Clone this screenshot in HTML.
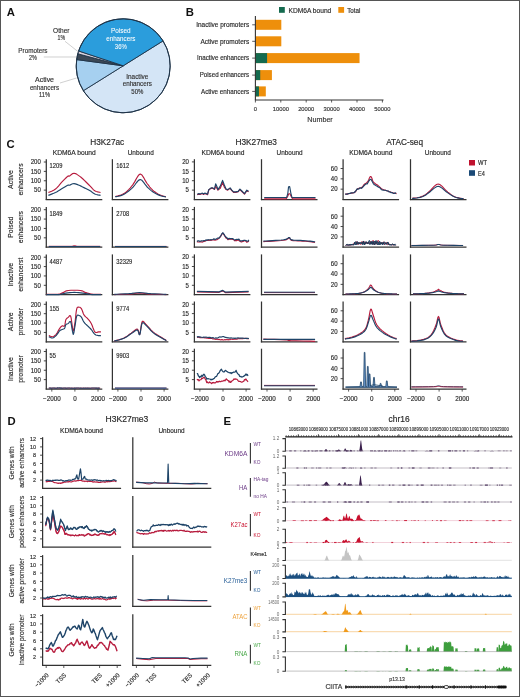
<!DOCTYPE html>
<html><head><meta charset="utf-8"><style>
html,body{margin:0;padding:0;background:#fff;}
body{width:520px;height:697px;overflow:hidden;}
svg{display:block;font-family:"Liberation Sans", sans-serif;will-change:transform;}
</style></head><body>
<svg width="520" height="697" viewBox="0 0 520 697">
<rect x="0" y="0" width="520" height="697" fill="#fff"/>
<text x="6.8" y="16.4" font-size="11.3" fill="#111" font-weight="bold">A</text>
<path d="M123.2,65.8 L163.06,40.89 A47,47 0 0 1 83.34,90.71 Z" fill="#d4e5f6" stroke="#1e3348" stroke-width="0.9"/>
<path d="M123.2,65.8 L83.34,90.71 A47,47 0 0 1 76.61,59.58 Z" fill="#a6d0f0" stroke="#1e3348" stroke-width="0.9"/>
<path d="M123.2,65.8 L76.61,59.58 A47,47 0 0 1 77.76,53.79 Z" fill="#3b4856" stroke="#1e3348" stroke-width="0.9"/>
<path d="M123.2,65.8 L77.76,53.79 A47,47 0 0 1 78.6,50.96 Z" fill="#d9d2dc" stroke="#1e3348" stroke-width="0.9"/>
<path d="M123.2,65.8 L78.6,50.96 A47,47 0 0 1 163.06,40.89 Z" fill="#2b9ddc" stroke="#1e3348" stroke-width="0.9"/>
<circle cx="123.2" cy="65.8" r="47" fill="none" stroke="#1e3348" stroke-width="1"/>
<text x="120.8" y="33.4" font-size="6.4" fill="#fff" stroke="#fff" stroke-width="0.05" text-anchor="middle" textLength="19.5" lengthAdjust="spacingAndGlyphs">Poised</text>
<text x="120.8" y="41" font-size="6.4" fill="#fff" stroke="#fff" stroke-width="0.05" text-anchor="middle" textLength="29.2" lengthAdjust="spacingAndGlyphs">enhancers</text>
<text x="120.8" y="48.6" font-size="6.4" fill="#fff" stroke="#fff" stroke-width="0.05" text-anchor="middle" textLength="12" lengthAdjust="spacingAndGlyphs">36%</text>
<text x="137.3" y="78.8" font-size="6.4" fill="#333" stroke="#333" stroke-width="0.15" text-anchor="middle" textLength="22" lengthAdjust="spacingAndGlyphs">Inactive</text>
<text x="137.3" y="86.4" font-size="6.4" fill="#333" stroke="#333" stroke-width="0.15" text-anchor="middle" textLength="29.2" lengthAdjust="spacingAndGlyphs">enhancers</text>
<text x="137.3" y="94" font-size="6.4" fill="#333" stroke="#333" stroke-width="0.15" text-anchor="middle" textLength="12" lengthAdjust="spacingAndGlyphs">50%</text>
<text x="61.3" y="32.7" font-size="6.4" fill="#333" stroke="#333" stroke-width="0.15" text-anchor="middle" textLength="16.4" lengthAdjust="spacingAndGlyphs">Other</text>
<text x="61.3" y="40.3" font-size="6.4" fill="#333" stroke="#333" stroke-width="0.15" text-anchor="middle" textLength="7.6" lengthAdjust="spacingAndGlyphs">1%</text>
<text x="32.9" y="52.7" font-size="6.4" fill="#333" stroke="#333" stroke-width="0.15" text-anchor="middle" textLength="29.2" lengthAdjust="spacingAndGlyphs">Promoters</text>
<text x="32.9" y="60.3" font-size="6.4" fill="#333" stroke="#333" stroke-width="0.15" text-anchor="middle" textLength="7.8" lengthAdjust="spacingAndGlyphs">2%</text>
<text x="44.5" y="82.2" font-size="6.4" fill="#333" stroke="#333" stroke-width="0.15" text-anchor="middle" textLength="19" lengthAdjust="spacingAndGlyphs">Active</text>
<text x="44.5" y="89.8" font-size="6.4" fill="#333" stroke="#333" stroke-width="0.15" text-anchor="middle" textLength="29.2" lengthAdjust="spacingAndGlyphs">enhancers</text>
<text x="44.5" y="97.4" font-size="6.4" fill="#333" stroke="#333" stroke-width="0.15" text-anchor="middle" textLength="11" lengthAdjust="spacingAndGlyphs">11%</text>
<line x1="65" y1="41.3" x2="78.5" y2="52" stroke="#bbb" stroke-width="0.7"/>
<line x1="43.8" y1="57" x2="76.5" y2="57" stroke="#bbb" stroke-width="0.7"/>
<line x1="60" y1="83" x2="76.5" y2="78" stroke="#bbb" stroke-width="0.7"/>
<text x="185.8" y="16.4" font-size="11.3" fill="#111" font-weight="bold">B</text>
<rect x="255.4" y="19.8" width="25.91" height="10" fill="#ee8f0b"/>
<text x="249.2" y="27" font-size="6.4" fill="#2a2a2a" stroke="#2a2a2a" stroke-width="0.15" text-anchor="end" textLength="53" lengthAdjust="spacingAndGlyphs">Inactive promoters</text>
<line x1="252.2" y1="24.8" x2="255.4" y2="24.8" stroke="#333" stroke-width="0.8"/>
<rect x="255.4" y="36.3" width="25.91" height="10" fill="#ee8f0b"/>
<text x="249.2" y="43.5" font-size="6.4" fill="#2a2a2a" stroke="#2a2a2a" stroke-width="0.15" text-anchor="end" textLength="48.7" lengthAdjust="spacingAndGlyphs">Active promoters</text>
<line x1="252.2" y1="41.3" x2="255.4" y2="41.3" stroke="#333" stroke-width="0.8"/>
<rect x="255.4" y="53.1" width="104.14" height="10" fill="#ee8f0b"/>
<rect x="255.4" y="53.1" width="11.68" height="10" fill="#146a4f"/>
<text x="249.2" y="60.3" font-size="6.4" fill="#2a2a2a" stroke="#2a2a2a" stroke-width="0.15" text-anchor="end" textLength="52.2" lengthAdjust="spacingAndGlyphs">Inactive enhancers</text>
<line x1="252.2" y1="58.1" x2="255.4" y2="58.1" stroke="#333" stroke-width="0.8"/>
<rect x="255.4" y="70.1" width="16.51" height="10" fill="#ee8f0b"/>
<rect x="255.4" y="70.1" width="4.83" height="10" fill="#146a4f"/>
<text x="249.2" y="77.3" font-size="6.4" fill="#2a2a2a" stroke="#2a2a2a" stroke-width="0.15" text-anchor="end" textLength="49.5" lengthAdjust="spacingAndGlyphs">Poised enhancers</text>
<line x1="252.2" y1="75.1" x2="255.4" y2="75.1" stroke="#333" stroke-width="0.8"/>
<rect x="255.4" y="86.4" width="10.41" height="10" fill="#ee8f0b"/>
<rect x="255.4" y="86.4" width="3.56" height="10" fill="#146a4f"/>
<text x="249.2" y="93.6" font-size="6.4" fill="#2a2a2a" stroke="#2a2a2a" stroke-width="0.15" text-anchor="end" textLength="48.2" lengthAdjust="spacingAndGlyphs">Active enhancers</text>
<line x1="252.2" y1="91.4" x2="255.4" y2="91.4" stroke="#333" stroke-width="0.8"/>
<line x1="255.4" y1="16" x2="255.4" y2="100" stroke="#333" stroke-width="1.1"/>
<line x1="254.9" y1="100" x2="383.5" y2="100" stroke="#333" stroke-width="1.1"/>
<line x1="255.4" y1="100" x2="255.4" y2="102.5" stroke="#333" stroke-width="0.8"/>
<text x="255.4" y="110.5" font-size="5.8" fill="#333" stroke="#333" stroke-width="0.15" text-anchor="middle">0</text>
<line x1="280.8" y1="100" x2="280.8" y2="102.5" stroke="#333" stroke-width="0.8"/>
<text x="280.8" y="110.5" font-size="5.8" fill="#333" stroke="#333" stroke-width="0.15" text-anchor="middle">10000</text>
<line x1="306.2" y1="100" x2="306.2" y2="102.5" stroke="#333" stroke-width="0.8"/>
<text x="306.2" y="110.5" font-size="5.8" fill="#333" stroke="#333" stroke-width="0.15" text-anchor="middle">20000</text>
<line x1="331.6" y1="100" x2="331.6" y2="102.5" stroke="#333" stroke-width="0.8"/>
<text x="331.6" y="110.5" font-size="5.8" fill="#333" stroke="#333" stroke-width="0.15" text-anchor="middle">30000</text>
<line x1="357" y1="100" x2="357" y2="102.5" stroke="#333" stroke-width="0.8"/>
<text x="357" y="110.5" font-size="5.8" fill="#333" stroke="#333" stroke-width="0.15" text-anchor="middle">40000</text>
<line x1="382.4" y1="100" x2="382.4" y2="102.5" stroke="#333" stroke-width="0.8"/>
<text x="382.4" y="110.5" font-size="5.8" fill="#333" stroke="#333" stroke-width="0.15" text-anchor="middle">50000</text>
<text x="320" y="122" font-size="7.2" fill="#333" stroke="#333" stroke-width="0.15" text-anchor="middle">Number</text>
<rect x="279" y="7" width="5.8" height="5.8" fill="#146a4f"/>
<text x="288.5" y="12.5" font-size="6.5" fill="#2a2a2a" stroke="#2a2a2a" stroke-width="0.15" textLength="42.8" lengthAdjust="spacingAndGlyphs">KDM6A bound</text>
<rect x="338.3" y="7" width="5.8" height="5.8" fill="#ee8f0b"/>
<text x="347.2" y="12.5" font-size="6.5" fill="#2a2a2a" stroke="#2a2a2a" stroke-width="0.15" textLength="13.2" lengthAdjust="spacingAndGlyphs">Total</text>
<text x="6.6" y="148" font-size="11.3" fill="#111" font-weight="bold">C</text>
<text x="107.25" y="144.6" font-size="9.1" fill="#2a2a2a" stroke="#2a2a2a" stroke-width="0.18" text-anchor="middle" textLength="33.9" lengthAdjust="spacingAndGlyphs">H3K27ac</text>
<text x="256.2" y="144.6" font-size="9.1" fill="#2a2a2a" stroke="#2a2a2a" stroke-width="0.18" text-anchor="middle" textLength="41.5" lengthAdjust="spacingAndGlyphs">H3K27me3</text>
<text x="404.6" y="144.6" font-size="9.1" fill="#2a2a2a" stroke="#2a2a2a" stroke-width="0.18" text-anchor="middle" textLength="36.9" lengthAdjust="spacingAndGlyphs">ATAC-seq</text>
<text x="74.25" y="155.3" font-size="6.5" fill="#2a2a2a" stroke="#2a2a2a" stroke-width="0.15" text-anchor="middle" textLength="43.1" lengthAdjust="spacingAndGlyphs">KDM6A bound</text>
<text x="223" y="155.3" font-size="6.5" fill="#2a2a2a" stroke="#2a2a2a" stroke-width="0.15" text-anchor="middle" textLength="43.1" lengthAdjust="spacingAndGlyphs">KDM6A bound</text>
<text x="370.8" y="155.3" font-size="6.5" fill="#2a2a2a" stroke="#2a2a2a" stroke-width="0.15" text-anchor="middle" textLength="43.1" lengthAdjust="spacingAndGlyphs">KDM6A bound</text>
<text x="140.75" y="155.3" font-size="6.5" fill="#2a2a2a" stroke="#2a2a2a" stroke-width="0.15" text-anchor="middle" textLength="26" lengthAdjust="spacingAndGlyphs">Unbound</text>
<text x="289.6" y="155.3" font-size="6.5" fill="#2a2a2a" stroke="#2a2a2a" stroke-width="0.15" text-anchor="middle" textLength="26" lengthAdjust="spacingAndGlyphs">Unbound</text>
<text x="437.85" y="155.3" font-size="6.5" fill="#2a2a2a" stroke="#2a2a2a" stroke-width="0.15" text-anchor="middle" textLength="26" lengthAdjust="spacingAndGlyphs">Unbound</text>
<text x="13" y="179.5" font-size="6.9" fill="#2a2a2a" stroke="#2a2a2a" stroke-width="0.15" text-anchor="middle" transform="rotate(-90 13 179.5)">Active</text>
<text x="23.3" y="179.5" font-size="6.9" fill="#2a2a2a" stroke="#2a2a2a" stroke-width="0.15" text-anchor="middle" transform="rotate(-90 23.3 179.5)">enhancers</text>
<text x="13" y="227.2" font-size="6.9" fill="#2a2a2a" stroke="#2a2a2a" stroke-width="0.15" text-anchor="middle" transform="rotate(-90 13 227.2)">Poised</text>
<text x="23.3" y="227.2" font-size="6.9" fill="#2a2a2a" stroke="#2a2a2a" stroke-width="0.15" text-anchor="middle" transform="rotate(-90 23.3 227.2)">enhancers</text>
<text x="13" y="274.7" font-size="6.9" fill="#2a2a2a" stroke="#2a2a2a" stroke-width="0.15" text-anchor="middle" transform="rotate(-90 13 274.7)">Inactive</text>
<text x="23.3" y="274.7" font-size="6.9" fill="#2a2a2a" stroke="#2a2a2a" stroke-width="0.15" text-anchor="middle" transform="rotate(-90 23.3 274.7)">enhancerst</text>
<text x="13" y="321.8" font-size="6.9" fill="#2a2a2a" stroke="#2a2a2a" stroke-width="0.15" text-anchor="middle" transform="rotate(-90 13 321.8)">Active</text>
<text x="23.3" y="321.8" font-size="6.9" fill="#2a2a2a" stroke="#2a2a2a" stroke-width="0.15" text-anchor="middle" transform="rotate(-90 23.3 321.8)">promoter</text>
<text x="13" y="369" font-size="6.9" fill="#2a2a2a" stroke="#2a2a2a" stroke-width="0.15" text-anchor="middle" transform="rotate(-90 13 369)">Inactive</text>
<text x="23.3" y="369" font-size="6.9" fill="#2a2a2a" stroke="#2a2a2a" stroke-width="0.15" text-anchor="middle" transform="rotate(-90 23.3 369)">promoter</text>
<line x1="46.3" y1="159.2" x2="46.3" y2="200.1" stroke="#333" stroke-width="1.25"/>
<line x1="45.7" y1="199.5" x2="102.3" y2="199.5" stroke="#333" stroke-width="1.25"/>
<line x1="43.8" y1="190.12" x2="46.3" y2="190.12" stroke="#333" stroke-width="0.9"/>
<text x="40.8" y="192.43" font-size="6.4" fill="#2a2a2a" stroke="#2a2a2a" stroke-width="0.15" text-anchor="end" textLength="6.74" lengthAdjust="spacingAndGlyphs">50</text>
<line x1="43.8" y1="180.75" x2="46.3" y2="180.75" stroke="#333" stroke-width="0.9"/>
<text x="40.8" y="183.05" font-size="6.4" fill="#2a2a2a" stroke="#2a2a2a" stroke-width="0.15" text-anchor="end" textLength="10.11" lengthAdjust="spacingAndGlyphs">100</text>
<line x1="43.8" y1="171.38" x2="46.3" y2="171.38" stroke="#333" stroke-width="0.9"/>
<text x="40.8" y="173.68" font-size="6.4" fill="#2a2a2a" stroke="#2a2a2a" stroke-width="0.15" text-anchor="end" textLength="10.11" lengthAdjust="spacingAndGlyphs">150</text>
<line x1="43.8" y1="162" x2="46.3" y2="162" stroke="#333" stroke-width="0.9"/>
<text x="40.8" y="164.3" font-size="6.4" fill="#2a2a2a" stroke="#2a2a2a" stroke-width="0.15" text-anchor="end" textLength="10.11" lengthAdjust="spacingAndGlyphs">200</text>
<line x1="112.4" y1="159.2" x2="112.4" y2="200.1" stroke="#333" stroke-width="1.25"/>
<line x1="111.8" y1="199.5" x2="168.4" y2="199.5" stroke="#333" stroke-width="1.25"/>
<line x1="194.4" y1="159.2" x2="194.4" y2="200.1" stroke="#333" stroke-width="1.25"/>
<line x1="193.8" y1="199.5" x2="250.4" y2="199.5" stroke="#333" stroke-width="1.25"/>
<line x1="191.9" y1="190.1" x2="194.4" y2="190.1" stroke="#333" stroke-width="0.9"/>
<text x="188.9" y="192.4" font-size="6.4" fill="#2a2a2a" stroke="#2a2a2a" stroke-width="0.15" text-anchor="end" textLength="3.37" lengthAdjust="spacingAndGlyphs">5</text>
<line x1="191.9" y1="180.7" x2="194.4" y2="180.7" stroke="#333" stroke-width="0.9"/>
<text x="188.9" y="183" font-size="6.4" fill="#2a2a2a" stroke="#2a2a2a" stroke-width="0.15" text-anchor="end" textLength="6.74" lengthAdjust="spacingAndGlyphs">10</text>
<line x1="191.9" y1="171.3" x2="194.4" y2="171.3" stroke="#333" stroke-width="0.9"/>
<text x="188.9" y="173.6" font-size="6.4" fill="#2a2a2a" stroke="#2a2a2a" stroke-width="0.15" text-anchor="end" textLength="6.74" lengthAdjust="spacingAndGlyphs">15</text>
<line x1="191.9" y1="161.9" x2="194.4" y2="161.9" stroke="#333" stroke-width="0.9"/>
<text x="188.9" y="164.2" font-size="6.4" fill="#2a2a2a" stroke="#2a2a2a" stroke-width="0.15" text-anchor="end" textLength="6.74" lengthAdjust="spacingAndGlyphs">20</text>
<line x1="261.5" y1="159.2" x2="261.5" y2="200.1" stroke="#333" stroke-width="1.25"/>
<line x1="260.9" y1="199.5" x2="317.5" y2="199.5" stroke="#333" stroke-width="1.25"/>
<line x1="343.1" y1="159.2" x2="343.1" y2="200.1" stroke="#333" stroke-width="1.25"/>
<line x1="342.5" y1="199.5" x2="399.1" y2="199.5" stroke="#333" stroke-width="1.25"/>
<line x1="340.6" y1="189.17" x2="343.1" y2="189.17" stroke="#333" stroke-width="0.9"/>
<text x="337.6" y="191.47" font-size="6.4" fill="#2a2a2a" stroke="#2a2a2a" stroke-width="0.15" text-anchor="end" textLength="6.74" lengthAdjust="spacingAndGlyphs">20</text>
<line x1="340.6" y1="178.83" x2="343.1" y2="178.83" stroke="#333" stroke-width="0.9"/>
<text x="337.6" y="181.13" font-size="6.4" fill="#2a2a2a" stroke="#2a2a2a" stroke-width="0.15" text-anchor="end" textLength="6.74" lengthAdjust="spacingAndGlyphs">40</text>
<line x1="340.6" y1="168.5" x2="343.1" y2="168.5" stroke="#333" stroke-width="0.9"/>
<text x="337.6" y="170.8" font-size="6.4" fill="#2a2a2a" stroke="#2a2a2a" stroke-width="0.15" text-anchor="end" textLength="6.74" lengthAdjust="spacingAndGlyphs">60</text>
<line x1="410.5" y1="159.2" x2="410.5" y2="200.1" stroke="#333" stroke-width="1.25"/>
<line x1="409.9" y1="199.5" x2="466.5" y2="199.5" stroke="#333" stroke-width="1.25"/>
<text x="49.6" y="168.4" font-size="6.3" fill="#2a2a2a" stroke="#2a2a2a" stroke-width="0.15" textLength="12.8" lengthAdjust="spacingAndGlyphs">1209</text>
<text x="116.3" y="168.4" font-size="6.3" fill="#2a2a2a" stroke="#2a2a2a" stroke-width="0.15" textLength="12.8" lengthAdjust="spacingAndGlyphs">1612</text>
<line x1="46.3" y1="206.9" x2="46.3" y2="247.8" stroke="#333" stroke-width="1.25"/>
<line x1="45.7" y1="247.2" x2="102.3" y2="247.2" stroke="#333" stroke-width="1.25"/>
<line x1="43.8" y1="237.82" x2="46.3" y2="237.82" stroke="#333" stroke-width="0.9"/>
<text x="40.8" y="240.12" font-size="6.4" fill="#2a2a2a" stroke="#2a2a2a" stroke-width="0.15" text-anchor="end" textLength="6.74" lengthAdjust="spacingAndGlyphs">50</text>
<line x1="43.8" y1="228.45" x2="46.3" y2="228.45" stroke="#333" stroke-width="0.9"/>
<text x="40.8" y="230.75" font-size="6.4" fill="#2a2a2a" stroke="#2a2a2a" stroke-width="0.15" text-anchor="end" textLength="10.11" lengthAdjust="spacingAndGlyphs">100</text>
<line x1="43.8" y1="219.07" x2="46.3" y2="219.07" stroke="#333" stroke-width="0.9"/>
<text x="40.8" y="221.38" font-size="6.4" fill="#2a2a2a" stroke="#2a2a2a" stroke-width="0.15" text-anchor="end" textLength="10.11" lengthAdjust="spacingAndGlyphs">150</text>
<line x1="43.8" y1="209.7" x2="46.3" y2="209.7" stroke="#333" stroke-width="0.9"/>
<text x="40.8" y="212" font-size="6.4" fill="#2a2a2a" stroke="#2a2a2a" stroke-width="0.15" text-anchor="end" textLength="10.11" lengthAdjust="spacingAndGlyphs">200</text>
<line x1="112.4" y1="206.9" x2="112.4" y2="247.8" stroke="#333" stroke-width="1.25"/>
<line x1="111.8" y1="247.2" x2="168.4" y2="247.2" stroke="#333" stroke-width="1.25"/>
<line x1="194.4" y1="206.9" x2="194.4" y2="247.8" stroke="#333" stroke-width="1.25"/>
<line x1="193.8" y1="247.2" x2="250.4" y2="247.2" stroke="#333" stroke-width="1.25"/>
<line x1="191.9" y1="237.8" x2="194.4" y2="237.8" stroke="#333" stroke-width="0.9"/>
<text x="188.9" y="240.1" font-size="6.4" fill="#2a2a2a" stroke="#2a2a2a" stroke-width="0.15" text-anchor="end" textLength="3.37" lengthAdjust="spacingAndGlyphs">5</text>
<line x1="191.9" y1="228.4" x2="194.4" y2="228.4" stroke="#333" stroke-width="0.9"/>
<text x="188.9" y="230.7" font-size="6.4" fill="#2a2a2a" stroke="#2a2a2a" stroke-width="0.15" text-anchor="end" textLength="6.74" lengthAdjust="spacingAndGlyphs">10</text>
<line x1="191.9" y1="219" x2="194.4" y2="219" stroke="#333" stroke-width="0.9"/>
<text x="188.9" y="221.3" font-size="6.4" fill="#2a2a2a" stroke="#2a2a2a" stroke-width="0.15" text-anchor="end" textLength="6.74" lengthAdjust="spacingAndGlyphs">15</text>
<line x1="191.9" y1="209.6" x2="194.4" y2="209.6" stroke="#333" stroke-width="0.9"/>
<text x="188.9" y="211.9" font-size="6.4" fill="#2a2a2a" stroke="#2a2a2a" stroke-width="0.15" text-anchor="end" textLength="6.74" lengthAdjust="spacingAndGlyphs">20</text>
<line x1="261.5" y1="206.9" x2="261.5" y2="247.8" stroke="#333" stroke-width="1.25"/>
<line x1="260.9" y1="247.2" x2="317.5" y2="247.2" stroke="#333" stroke-width="1.25"/>
<line x1="343.1" y1="206.9" x2="343.1" y2="247.8" stroke="#333" stroke-width="1.25"/>
<line x1="342.5" y1="247.2" x2="399.1" y2="247.2" stroke="#333" stroke-width="1.25"/>
<line x1="340.6" y1="236.87" x2="343.1" y2="236.87" stroke="#333" stroke-width="0.9"/>
<text x="337.6" y="239.17" font-size="6.4" fill="#2a2a2a" stroke="#2a2a2a" stroke-width="0.15" text-anchor="end" textLength="6.74" lengthAdjust="spacingAndGlyphs">20</text>
<line x1="340.6" y1="226.53" x2="343.1" y2="226.53" stroke="#333" stroke-width="0.9"/>
<text x="337.6" y="228.83" font-size="6.4" fill="#2a2a2a" stroke="#2a2a2a" stroke-width="0.15" text-anchor="end" textLength="6.74" lengthAdjust="spacingAndGlyphs">40</text>
<line x1="340.6" y1="216.2" x2="343.1" y2="216.2" stroke="#333" stroke-width="0.9"/>
<text x="337.6" y="218.5" font-size="6.4" fill="#2a2a2a" stroke="#2a2a2a" stroke-width="0.15" text-anchor="end" textLength="6.74" lengthAdjust="spacingAndGlyphs">60</text>
<line x1="410.5" y1="206.9" x2="410.5" y2="247.8" stroke="#333" stroke-width="1.25"/>
<line x1="409.9" y1="247.2" x2="466.5" y2="247.2" stroke="#333" stroke-width="1.25"/>
<text x="49.6" y="216.1" font-size="6.3" fill="#2a2a2a" stroke="#2a2a2a" stroke-width="0.15" textLength="12.8" lengthAdjust="spacingAndGlyphs">1849</text>
<text x="116.3" y="216.1" font-size="6.3" fill="#2a2a2a" stroke="#2a2a2a" stroke-width="0.15" textLength="12.8" lengthAdjust="spacingAndGlyphs">2708</text>
<line x1="46.3" y1="254.4" x2="46.3" y2="295.3" stroke="#333" stroke-width="1.25"/>
<line x1="45.7" y1="294.7" x2="102.3" y2="294.7" stroke="#333" stroke-width="1.25"/>
<line x1="43.8" y1="285.32" x2="46.3" y2="285.32" stroke="#333" stroke-width="0.9"/>
<text x="40.8" y="287.62" font-size="6.4" fill="#2a2a2a" stroke="#2a2a2a" stroke-width="0.15" text-anchor="end" textLength="6.74" lengthAdjust="spacingAndGlyphs">50</text>
<line x1="43.8" y1="275.95" x2="46.3" y2="275.95" stroke="#333" stroke-width="0.9"/>
<text x="40.8" y="278.25" font-size="6.4" fill="#2a2a2a" stroke="#2a2a2a" stroke-width="0.15" text-anchor="end" textLength="10.11" lengthAdjust="spacingAndGlyphs">100</text>
<line x1="43.8" y1="266.57" x2="46.3" y2="266.57" stroke="#333" stroke-width="0.9"/>
<text x="40.8" y="268.88" font-size="6.4" fill="#2a2a2a" stroke="#2a2a2a" stroke-width="0.15" text-anchor="end" textLength="10.11" lengthAdjust="spacingAndGlyphs">150</text>
<line x1="43.8" y1="257.2" x2="46.3" y2="257.2" stroke="#333" stroke-width="0.9"/>
<text x="40.8" y="259.5" font-size="6.4" fill="#2a2a2a" stroke="#2a2a2a" stroke-width="0.15" text-anchor="end" textLength="10.11" lengthAdjust="spacingAndGlyphs">200</text>
<line x1="112.4" y1="254.4" x2="112.4" y2="295.3" stroke="#333" stroke-width="1.25"/>
<line x1="111.8" y1="294.7" x2="168.4" y2="294.7" stroke="#333" stroke-width="1.25"/>
<line x1="194.4" y1="254.4" x2="194.4" y2="295.3" stroke="#333" stroke-width="1.25"/>
<line x1="193.8" y1="294.7" x2="250.4" y2="294.7" stroke="#333" stroke-width="1.25"/>
<line x1="191.9" y1="285.3" x2="194.4" y2="285.3" stroke="#333" stroke-width="0.9"/>
<text x="188.9" y="287.6" font-size="6.4" fill="#2a2a2a" stroke="#2a2a2a" stroke-width="0.15" text-anchor="end" textLength="3.37" lengthAdjust="spacingAndGlyphs">5</text>
<line x1="191.9" y1="275.9" x2="194.4" y2="275.9" stroke="#333" stroke-width="0.9"/>
<text x="188.9" y="278.2" font-size="6.4" fill="#2a2a2a" stroke="#2a2a2a" stroke-width="0.15" text-anchor="end" textLength="6.74" lengthAdjust="spacingAndGlyphs">10</text>
<line x1="191.9" y1="266.5" x2="194.4" y2="266.5" stroke="#333" stroke-width="0.9"/>
<text x="188.9" y="268.8" font-size="6.4" fill="#2a2a2a" stroke="#2a2a2a" stroke-width="0.15" text-anchor="end" textLength="6.74" lengthAdjust="spacingAndGlyphs">15</text>
<line x1="191.9" y1="257.1" x2="194.4" y2="257.1" stroke="#333" stroke-width="0.9"/>
<text x="188.9" y="259.4" font-size="6.4" fill="#2a2a2a" stroke="#2a2a2a" stroke-width="0.15" text-anchor="end" textLength="6.74" lengthAdjust="spacingAndGlyphs">20</text>
<line x1="261.5" y1="254.4" x2="261.5" y2="295.3" stroke="#333" stroke-width="1.25"/>
<line x1="260.9" y1="294.7" x2="317.5" y2="294.7" stroke="#333" stroke-width="1.25"/>
<line x1="343.1" y1="254.4" x2="343.1" y2="295.3" stroke="#333" stroke-width="1.25"/>
<line x1="342.5" y1="294.7" x2="399.1" y2="294.7" stroke="#333" stroke-width="1.25"/>
<line x1="340.6" y1="284.37" x2="343.1" y2="284.37" stroke="#333" stroke-width="0.9"/>
<text x="337.6" y="286.67" font-size="6.4" fill="#2a2a2a" stroke="#2a2a2a" stroke-width="0.15" text-anchor="end" textLength="6.74" lengthAdjust="spacingAndGlyphs">20</text>
<line x1="340.6" y1="274.03" x2="343.1" y2="274.03" stroke="#333" stroke-width="0.9"/>
<text x="337.6" y="276.33" font-size="6.4" fill="#2a2a2a" stroke="#2a2a2a" stroke-width="0.15" text-anchor="end" textLength="6.74" lengthAdjust="spacingAndGlyphs">40</text>
<line x1="340.6" y1="263.7" x2="343.1" y2="263.7" stroke="#333" stroke-width="0.9"/>
<text x="337.6" y="266" font-size="6.4" fill="#2a2a2a" stroke="#2a2a2a" stroke-width="0.15" text-anchor="end" textLength="6.74" lengthAdjust="spacingAndGlyphs">60</text>
<line x1="410.5" y1="254.4" x2="410.5" y2="295.3" stroke="#333" stroke-width="1.25"/>
<line x1="409.9" y1="294.7" x2="466.5" y2="294.7" stroke="#333" stroke-width="1.25"/>
<text x="49.6" y="263.6" font-size="6.3" fill="#2a2a2a" stroke="#2a2a2a" stroke-width="0.15" textLength="12.8" lengthAdjust="spacingAndGlyphs">4487</text>
<text x="116.3" y="263.6" font-size="6.3" fill="#2a2a2a" stroke="#2a2a2a" stroke-width="0.15" textLength="16" lengthAdjust="spacingAndGlyphs">32329</text>
<line x1="46.3" y1="301.5" x2="46.3" y2="342.4" stroke="#333" stroke-width="1.25"/>
<line x1="45.7" y1="341.8" x2="102.3" y2="341.8" stroke="#333" stroke-width="1.25"/>
<line x1="43.8" y1="332.43" x2="46.3" y2="332.43" stroke="#333" stroke-width="0.9"/>
<text x="40.8" y="334.73" font-size="6.4" fill="#2a2a2a" stroke="#2a2a2a" stroke-width="0.15" text-anchor="end" textLength="6.74" lengthAdjust="spacingAndGlyphs">50</text>
<line x1="43.8" y1="323.05" x2="46.3" y2="323.05" stroke="#333" stroke-width="0.9"/>
<text x="40.8" y="325.35" font-size="6.4" fill="#2a2a2a" stroke="#2a2a2a" stroke-width="0.15" text-anchor="end" textLength="10.11" lengthAdjust="spacingAndGlyphs">100</text>
<line x1="43.8" y1="313.68" x2="46.3" y2="313.68" stroke="#333" stroke-width="0.9"/>
<text x="40.8" y="315.98" font-size="6.4" fill="#2a2a2a" stroke="#2a2a2a" stroke-width="0.15" text-anchor="end" textLength="10.11" lengthAdjust="spacingAndGlyphs">150</text>
<line x1="43.8" y1="304.3" x2="46.3" y2="304.3" stroke="#333" stroke-width="0.9"/>
<text x="40.8" y="306.6" font-size="6.4" fill="#2a2a2a" stroke="#2a2a2a" stroke-width="0.15" text-anchor="end" textLength="10.11" lengthAdjust="spacingAndGlyphs">200</text>
<line x1="112.4" y1="301.5" x2="112.4" y2="342.4" stroke="#333" stroke-width="1.25"/>
<line x1="111.8" y1="341.8" x2="168.4" y2="341.8" stroke="#333" stroke-width="1.25"/>
<line x1="194.4" y1="301.5" x2="194.4" y2="342.4" stroke="#333" stroke-width="1.25"/>
<line x1="193.8" y1="341.8" x2="250.4" y2="341.8" stroke="#333" stroke-width="1.25"/>
<line x1="191.9" y1="332.4" x2="194.4" y2="332.4" stroke="#333" stroke-width="0.9"/>
<text x="188.9" y="334.7" font-size="6.4" fill="#2a2a2a" stroke="#2a2a2a" stroke-width="0.15" text-anchor="end" textLength="3.37" lengthAdjust="spacingAndGlyphs">5</text>
<line x1="191.9" y1="323" x2="194.4" y2="323" stroke="#333" stroke-width="0.9"/>
<text x="188.9" y="325.3" font-size="6.4" fill="#2a2a2a" stroke="#2a2a2a" stroke-width="0.15" text-anchor="end" textLength="6.74" lengthAdjust="spacingAndGlyphs">10</text>
<line x1="191.9" y1="313.6" x2="194.4" y2="313.6" stroke="#333" stroke-width="0.9"/>
<text x="188.9" y="315.9" font-size="6.4" fill="#2a2a2a" stroke="#2a2a2a" stroke-width="0.15" text-anchor="end" textLength="6.74" lengthAdjust="spacingAndGlyphs">15</text>
<line x1="191.9" y1="304.2" x2="194.4" y2="304.2" stroke="#333" stroke-width="0.9"/>
<text x="188.9" y="306.5" font-size="6.4" fill="#2a2a2a" stroke="#2a2a2a" stroke-width="0.15" text-anchor="end" textLength="6.74" lengthAdjust="spacingAndGlyphs">20</text>
<line x1="261.5" y1="301.5" x2="261.5" y2="342.4" stroke="#333" stroke-width="1.25"/>
<line x1="260.9" y1="341.8" x2="317.5" y2="341.8" stroke="#333" stroke-width="1.25"/>
<line x1="343.1" y1="301.5" x2="343.1" y2="342.4" stroke="#333" stroke-width="1.25"/>
<line x1="342.5" y1="341.8" x2="399.1" y2="341.8" stroke="#333" stroke-width="1.25"/>
<line x1="340.6" y1="331.47" x2="343.1" y2="331.47" stroke="#333" stroke-width="0.9"/>
<text x="337.6" y="333.77" font-size="6.4" fill="#2a2a2a" stroke="#2a2a2a" stroke-width="0.15" text-anchor="end" textLength="6.74" lengthAdjust="spacingAndGlyphs">20</text>
<line x1="340.6" y1="321.13" x2="343.1" y2="321.13" stroke="#333" stroke-width="0.9"/>
<text x="337.6" y="323.43" font-size="6.4" fill="#2a2a2a" stroke="#2a2a2a" stroke-width="0.15" text-anchor="end" textLength="6.74" lengthAdjust="spacingAndGlyphs">40</text>
<line x1="340.6" y1="310.8" x2="343.1" y2="310.8" stroke="#333" stroke-width="0.9"/>
<text x="337.6" y="313.1" font-size="6.4" fill="#2a2a2a" stroke="#2a2a2a" stroke-width="0.15" text-anchor="end" textLength="6.74" lengthAdjust="spacingAndGlyphs">60</text>
<line x1="410.5" y1="301.5" x2="410.5" y2="342.4" stroke="#333" stroke-width="1.25"/>
<line x1="409.9" y1="341.8" x2="466.5" y2="341.8" stroke="#333" stroke-width="1.25"/>
<text x="49.6" y="310.7" font-size="6.3" fill="#2a2a2a" stroke="#2a2a2a" stroke-width="0.15" textLength="9.6" lengthAdjust="spacingAndGlyphs">155</text>
<text x="116.3" y="310.7" font-size="6.3" fill="#2a2a2a" stroke="#2a2a2a" stroke-width="0.15" textLength="12.8" lengthAdjust="spacingAndGlyphs">9774</text>
<line x1="46.3" y1="348.7" x2="46.3" y2="389.6" stroke="#333" stroke-width="1.25"/>
<line x1="45.7" y1="389" x2="102.3" y2="389" stroke="#333" stroke-width="1.25"/>
<line x1="43.8" y1="379.62" x2="46.3" y2="379.62" stroke="#333" stroke-width="0.9"/>
<text x="40.8" y="381.93" font-size="6.4" fill="#2a2a2a" stroke="#2a2a2a" stroke-width="0.15" text-anchor="end" textLength="6.74" lengthAdjust="spacingAndGlyphs">50</text>
<line x1="43.8" y1="370.25" x2="46.3" y2="370.25" stroke="#333" stroke-width="0.9"/>
<text x="40.8" y="372.55" font-size="6.4" fill="#2a2a2a" stroke="#2a2a2a" stroke-width="0.15" text-anchor="end" textLength="10.11" lengthAdjust="spacingAndGlyphs">100</text>
<line x1="43.8" y1="360.88" x2="46.3" y2="360.88" stroke="#333" stroke-width="0.9"/>
<text x="40.8" y="363.18" font-size="6.4" fill="#2a2a2a" stroke="#2a2a2a" stroke-width="0.15" text-anchor="end" textLength="10.11" lengthAdjust="spacingAndGlyphs">150</text>
<line x1="43.8" y1="351.5" x2="46.3" y2="351.5" stroke="#333" stroke-width="0.9"/>
<text x="40.8" y="353.8" font-size="6.4" fill="#2a2a2a" stroke="#2a2a2a" stroke-width="0.15" text-anchor="end" textLength="10.11" lengthAdjust="spacingAndGlyphs">200</text>
<line x1="51.8" y1="389" x2="51.8" y2="391.6" stroke="#333" stroke-width="0.8"/>
<text x="51.8" y="401.2" font-size="6.3" fill="#2a2a2a" stroke="#2a2a2a" stroke-width="0.15" text-anchor="middle">−2000</text>
<line x1="74.9" y1="389" x2="74.9" y2="391.6" stroke="#333" stroke-width="0.8"/>
<text x="74.9" y="401.2" font-size="6.3" fill="#2a2a2a" stroke="#2a2a2a" stroke-width="0.15" text-anchor="middle">0</text>
<line x1="98" y1="389" x2="98" y2="391.6" stroke="#333" stroke-width="0.8"/>
<text x="98" y="401.2" font-size="6.3" fill="#2a2a2a" stroke="#2a2a2a" stroke-width="0.15" text-anchor="middle">2000</text>
<line x1="112.4" y1="348.7" x2="112.4" y2="389.6" stroke="#333" stroke-width="1.25"/>
<line x1="111.8" y1="389" x2="168.4" y2="389" stroke="#333" stroke-width="1.25"/>
<line x1="117.9" y1="389" x2="117.9" y2="391.6" stroke="#333" stroke-width="0.8"/>
<text x="117.9" y="401.2" font-size="6.3" fill="#2a2a2a" stroke="#2a2a2a" stroke-width="0.15" text-anchor="middle">−2000</text>
<line x1="141" y1="389" x2="141" y2="391.6" stroke="#333" stroke-width="0.8"/>
<text x="141" y="401.2" font-size="6.3" fill="#2a2a2a" stroke="#2a2a2a" stroke-width="0.15" text-anchor="middle">0</text>
<line x1="164.1" y1="389" x2="164.1" y2="391.6" stroke="#333" stroke-width="0.8"/>
<text x="164.1" y="401.2" font-size="6.3" fill="#2a2a2a" stroke="#2a2a2a" stroke-width="0.15" text-anchor="middle">2000</text>
<line x1="194.4" y1="348.7" x2="194.4" y2="389.6" stroke="#333" stroke-width="1.25"/>
<line x1="193.8" y1="389" x2="250.4" y2="389" stroke="#333" stroke-width="1.25"/>
<line x1="191.9" y1="379.6" x2="194.4" y2="379.6" stroke="#333" stroke-width="0.9"/>
<text x="188.9" y="381.9" font-size="6.4" fill="#2a2a2a" stroke="#2a2a2a" stroke-width="0.15" text-anchor="end" textLength="3.37" lengthAdjust="spacingAndGlyphs">5</text>
<line x1="191.9" y1="370.2" x2="194.4" y2="370.2" stroke="#333" stroke-width="0.9"/>
<text x="188.9" y="372.5" font-size="6.4" fill="#2a2a2a" stroke="#2a2a2a" stroke-width="0.15" text-anchor="end" textLength="6.74" lengthAdjust="spacingAndGlyphs">10</text>
<line x1="191.9" y1="360.8" x2="194.4" y2="360.8" stroke="#333" stroke-width="0.9"/>
<text x="188.9" y="363.1" font-size="6.4" fill="#2a2a2a" stroke="#2a2a2a" stroke-width="0.15" text-anchor="end" textLength="6.74" lengthAdjust="spacingAndGlyphs">15</text>
<line x1="191.9" y1="351.4" x2="194.4" y2="351.4" stroke="#333" stroke-width="0.9"/>
<text x="188.9" y="353.7" font-size="6.4" fill="#2a2a2a" stroke="#2a2a2a" stroke-width="0.15" text-anchor="end" textLength="6.74" lengthAdjust="spacingAndGlyphs">20</text>
<line x1="199.9" y1="389" x2="199.9" y2="391.6" stroke="#333" stroke-width="0.8"/>
<text x="199.9" y="401.2" font-size="6.3" fill="#2a2a2a" stroke="#2a2a2a" stroke-width="0.15" text-anchor="middle">−2000</text>
<line x1="223" y1="389" x2="223" y2="391.6" stroke="#333" stroke-width="0.8"/>
<text x="223" y="401.2" font-size="6.3" fill="#2a2a2a" stroke="#2a2a2a" stroke-width="0.15" text-anchor="middle">0</text>
<line x1="246.1" y1="389" x2="246.1" y2="391.6" stroke="#333" stroke-width="0.8"/>
<text x="246.1" y="401.2" font-size="6.3" fill="#2a2a2a" stroke="#2a2a2a" stroke-width="0.15" text-anchor="middle">2000</text>
<line x1="261.5" y1="348.7" x2="261.5" y2="389.6" stroke="#333" stroke-width="1.25"/>
<line x1="260.9" y1="389" x2="317.5" y2="389" stroke="#333" stroke-width="1.25"/>
<line x1="267" y1="389" x2="267" y2="391.6" stroke="#333" stroke-width="0.8"/>
<text x="267" y="401.2" font-size="6.3" fill="#2a2a2a" stroke="#2a2a2a" stroke-width="0.15" text-anchor="middle">−2000</text>
<line x1="290.1" y1="389" x2="290.1" y2="391.6" stroke="#333" stroke-width="0.8"/>
<text x="290.1" y="401.2" font-size="6.3" fill="#2a2a2a" stroke="#2a2a2a" stroke-width="0.15" text-anchor="middle">0</text>
<line x1="313.2" y1="389" x2="313.2" y2="391.6" stroke="#333" stroke-width="0.8"/>
<text x="313.2" y="401.2" font-size="6.3" fill="#2a2a2a" stroke="#2a2a2a" stroke-width="0.15" text-anchor="middle">2000</text>
<line x1="343.1" y1="348.7" x2="343.1" y2="389.6" stroke="#333" stroke-width="1.25"/>
<line x1="342.5" y1="389" x2="399.1" y2="389" stroke="#333" stroke-width="1.25"/>
<line x1="340.6" y1="378.67" x2="343.1" y2="378.67" stroke="#333" stroke-width="0.9"/>
<text x="337.6" y="380.97" font-size="6.4" fill="#2a2a2a" stroke="#2a2a2a" stroke-width="0.15" text-anchor="end" textLength="6.74" lengthAdjust="spacingAndGlyphs">20</text>
<line x1="340.6" y1="368.33" x2="343.1" y2="368.33" stroke="#333" stroke-width="0.9"/>
<text x="337.6" y="370.63" font-size="6.4" fill="#2a2a2a" stroke="#2a2a2a" stroke-width="0.15" text-anchor="end" textLength="6.74" lengthAdjust="spacingAndGlyphs">40</text>
<line x1="340.6" y1="358" x2="343.1" y2="358" stroke="#333" stroke-width="0.9"/>
<text x="337.6" y="360.3" font-size="6.4" fill="#2a2a2a" stroke="#2a2a2a" stroke-width="0.15" text-anchor="end" textLength="6.74" lengthAdjust="spacingAndGlyphs">60</text>
<line x1="348.6" y1="389" x2="348.6" y2="391.6" stroke="#333" stroke-width="0.8"/>
<text x="348.6" y="401.2" font-size="6.3" fill="#2a2a2a" stroke="#2a2a2a" stroke-width="0.15" text-anchor="middle">−2000</text>
<line x1="371.7" y1="389" x2="371.7" y2="391.6" stroke="#333" stroke-width="0.8"/>
<text x="371.7" y="401.2" font-size="6.3" fill="#2a2a2a" stroke="#2a2a2a" stroke-width="0.15" text-anchor="middle">0</text>
<line x1="394.8" y1="389" x2="394.8" y2="391.6" stroke="#333" stroke-width="0.8"/>
<text x="394.8" y="401.2" font-size="6.3" fill="#2a2a2a" stroke="#2a2a2a" stroke-width="0.15" text-anchor="middle">2000</text>
<line x1="410.5" y1="348.7" x2="410.5" y2="389.6" stroke="#333" stroke-width="1.25"/>
<line x1="409.9" y1="389" x2="466.5" y2="389" stroke="#333" stroke-width="1.25"/>
<line x1="416" y1="389" x2="416" y2="391.6" stroke="#333" stroke-width="0.8"/>
<text x="416" y="401.2" font-size="6.3" fill="#2a2a2a" stroke="#2a2a2a" stroke-width="0.15" text-anchor="middle">−2000</text>
<line x1="439.1" y1="389" x2="439.1" y2="391.6" stroke="#333" stroke-width="0.8"/>
<text x="439.1" y="401.2" font-size="6.3" fill="#2a2a2a" stroke="#2a2a2a" stroke-width="0.15" text-anchor="middle">0</text>
<line x1="462.2" y1="389" x2="462.2" y2="391.6" stroke="#333" stroke-width="0.8"/>
<text x="462.2" y="401.2" font-size="6.3" fill="#2a2a2a" stroke="#2a2a2a" stroke-width="0.15" text-anchor="middle">2000</text>
<text x="49.6" y="357.9" font-size="6.3" fill="#2a2a2a" stroke="#2a2a2a" stroke-width="0.15" textLength="6.4" lengthAdjust="spacingAndGlyphs">55</text>
<text x="116.3" y="357.9" font-size="6.3" fill="#2a2a2a" stroke="#2a2a2a" stroke-width="0.15" textLength="12.8" lengthAdjust="spacingAndGlyphs">9903</text>
<rect x="469" y="160" width="6" height="5.5" fill="#c0122f"/>
<text x="478" y="165.4" font-size="6.4" fill="#2a2a2a" stroke="#2a2a2a" stroke-width="0.15" textLength="9" lengthAdjust="spacingAndGlyphs">WT</text>
<rect x="469" y="170.2" width="6" height="5.6" fill="#1b4a77"/>
<text x="478" y="175.7" font-size="6.4" fill="#2a2a2a" stroke="#2a2a2a" stroke-width="0.15" textLength="6.8" lengthAdjust="spacingAndGlyphs">E4</text>
<polyline points="48.38,192.5 49.7,191.94 51.6,191.16 53.68,190.19 55.54,189.04 57.06,187.65 58.47,186.04 59.86,184.35 61.31,182.69 62.96,180.96 64.73,179.14 66.38,177.5 67.65,176.35 68.34,175.92 68.63,176.01 68.86,176.22 69.38,176.11 70.31,175.44 71.44,174.46 72.7,173.59 74,173.23 75.39,173.57 76.88,174.36 78.38,175.36 79.77,176.35 80.98,177.25 82.08,178.2 83.18,179.23 84.38,180.38 85.77,181.73 87.27,183.23 88.76,184.75 90.15,186.15 91.36,187.46 92.46,188.71 93.56,189.84 94.77,190.77 96.26,191.44 97.94,191.92 99.47,192.26 100.54,192.5" fill="none" stroke="#b71c3e" stroke-width="1.15" stroke-linejoin="round"/>
<polyline points="48.38,195.38 49.7,194.88 51.6,194.16 53.68,193.33 55.54,192.5 57.06,191.68 58.47,190.83 59.86,189.94 61.31,189.04 62.96,188.02 64.73,186.92 66.38,185.92 67.65,185.23 68.34,185 68.63,185.09 68.86,185.25 69.38,185.23 70.31,184.86 71.44,184.3 72.7,183.8 74,183.61 75.39,183.85 76.88,184.35 78.38,184.98 79.77,185.58 80.98,186.11 82.08,186.67 83.18,187.26 84.38,187.88 85.77,188.56 87.27,189.27 88.76,190.01 90.15,190.77 91.36,191.59 92.46,192.48 93.56,193.31 94.77,194 96.26,194.51 97.94,194.89 99.47,195.18 100.54,195.38" fill="none" stroke="#1e4468" stroke-width="1.15" stroke-linejoin="round"/>
<polyline points="115.19,196.54 116.35,196.27 118,195.91 119.84,195.43 121.54,194.81 123.02,194.07 124.46,193.21 125.88,192.19 127.31,191 128.72,189.64 130.1,188.12 131.54,186.4 133.08,184.42 134.78,181.63 136.6,178.24 138.44,175.34 140.23,174.04 141.96,175.02 143.66,177.57 145.32,180.66 146.92,183.27 148.4,185.22 149.79,187.02 151.19,188.68 152.69,190.19 154.35,191.57 156.12,192.81 157.9,193.89 159.61,194.81 161.39,195.53 163.22,196.08 164.83,196.48 165.96,196.77" fill="none" stroke="#b71c3e" stroke-width="1.15" stroke-linejoin="round"/>
<polyline points="115.19,196.77 116.35,196.56 118,196.28 119.84,195.89 121.54,195.38 123.02,194.75 124.46,194 125.88,193.13 127.31,192.15 128.72,191.07 130.1,189.89 131.54,188.57 133.08,187.08 134.78,185 136.6,182.5 138.44,180.38 140.23,179.46 141.96,180.29 143.66,182.31 145.32,184.73 146.92,186.73 148.4,188.16 149.79,189.43 151.19,190.59 152.69,191.69 154.35,192.75 156.12,193.75 157.9,194.64 159.61,195.38 161.39,195.97 163.22,196.42 164.83,196.76 165.96,197" fill="none" stroke="#1e4468" stroke-width="1.15" stroke-linejoin="round"/>
<polyline points="197.19,194.69 198.92,194.11 200.08,194.46 202.38,193.54 203.54,194.46 204.69,193.54 206.42,194.11 207.58,194.69 208.73,190.08 211.04,188.34 212.77,188.34 214.5,189.5 215.65,185.92 216.81,188.23 217.96,190.08 220.27,188.23 222.58,182.46 224.31,187.08 226.04,189.5 227.77,190.08 230.08,188.34 231.81,190.65 233.54,192.38 235.84,192.38 238.15,191.81 239.88,189.5 241.61,191.23 244.5,194.11 246.81,190.65 248.54,191.81" fill="none" stroke="#b71c3e" stroke-width="1.15" stroke-linejoin="round"/>
<polyline points="197.19,194.23 198.92,193.65 200.08,194 202.38,193.08 203.54,194 204.69,193.08 206.42,193.65 207.58,194.23 208.73,189.61 211.04,187.88 212.77,187.88 214.5,189.04 215.65,183.85 216.81,186.15 217.96,189.61 220.27,186.15 222.58,180.38 224.31,185 226.04,189.04 227.77,189.61 230.08,187.88 231.81,190.19 233.54,191.92 235.84,191.92 238.15,191.34 239.88,189.04 241.61,190.77 244.5,193.65 246.81,190.19 248.54,191.34" fill="none" stroke="#1e4468" stroke-width="1.15" stroke-linejoin="round"/>
<polyline points="264.19,198.84 286.11,198.84 287.61,196.54 288.77,193.77 289.92,193.77 291.31,196.77 292.46,198.84 315.54,198.84" fill="none" stroke="#b71c3e" stroke-width="1.1" stroke-linejoin="round"/>
<polyline points="264.19,197.46 286.69,197.46 287.85,193.08 288.54,186.84 289.69,186.61 290.84,193.08 292,197.46 315.54,197.46" fill="none" stroke="#1e4468" stroke-width="1.1" stroke-linejoin="round"/>
<polyline points="345.19,194.23 346.14,194.07 347.5,193.84 349.01,193.57 350.38,193.31 351.63,193.08 352.87,192.87 354.02,192.58 355,192.15 355.68,191.48 356.15,190.63 356.62,189.76 357.31,189.04 358.35,188.53 359.61,188.16 360.88,187.79 361.92,187.31 362.63,186.66 363.15,185.92 363.63,185.15 364.23,184.42 365.05,183.77 366,183.15 366.92,182.5 367.69,181.77 368.26,180.87 368.7,179.86 369.07,178.88 369.42,178.08 369.75,177.46 370.03,176.95 370.3,176.6 370.58,176.46 370.85,176.53 371.12,176.79 371.4,177.23 371.73,177.85 372.05,178.73 372.38,179.85 372.81,181.04 373.46,182.11 374.44,183.04 375.66,183.92 376.94,184.75 378.08,185.58 378.99,186.41 379.81,187.23 380.62,188.01 381.54,188.69 382.58,189.24 383.7,189.69 384.89,190.1 386.15,190.54 387.54,191.04 389.04,191.56 390.53,192.06 391.92,192.5 393.26,192.87 394.59,193.2 395.73,193.46 396.54,193.65" fill="none" stroke="#b71c3e" stroke-width="1.15" stroke-linejoin="round"/>
<polyline points="345.19,194.18 346.19,194.11 347.19,194.3 348.19,193.66 349.19,193.53 350.19,193.43 351.19,192.79 352.19,192.87 353.19,192.73 354.19,192.65 355.19,191.5 356.19,190.41 357.19,188.89 358.19,189.17 359.19,188.73 360.19,187.76 361.19,188.37 362.19,187.85 363.19,186.54 364.19,185.5 365.19,184.52 366.19,183.88 367.19,183.89 368.19,182.24 369.19,180.5 370.19,179.36 371.19,179.5 372.19,181.44 373.19,183.29 374.19,184.64 375.19,184.95 376.19,185.69 377.19,186.18 378.19,186.97 379.19,187.47 380.19,187.99 381.19,189.41 382.19,189.88 383.19,190.07 384.19,190.29 385.19,190.25 386.19,190.51 387.19,190.89 388.19,190.99 389.19,192.01 390.19,191.96 391.19,192.73 392.19,192.56 393.19,193.36 394.19,193.47 395.19,192.85 396.19,193.28" fill="none" stroke="#1e4468" stroke-width="1.15" stroke-linejoin="round"/>
<polyline points="412.19,198.27 413.35,198.15 415,197.99 416.84,197.77 418.54,197.46 420.02,197.09 421.46,196.66 422.88,196.11 424.31,195.38 425.78,194.41 427.26,193.25 428.71,192 430.08,190.77 431.34,189.5 432.53,188.17 433.65,186.93 434.69,185.92 435.64,185.16 436.49,184.58 437.31,184.21 438.15,184.08 438.99,184.21 439.81,184.58 440.67,185.16 441.61,185.92 442.63,186.91 443.71,188.14 444.89,189.46 446.23,190.77 447.82,192.12 449.62,193.54 451.45,194.88 453.15,195.96 454.7,196.71 456.18,197.22 457.59,197.6 458.92,197.92 460.26,198.2 461.59,198.39 462.73,198.52 463.54,198.61" fill="none" stroke="#b71c3e" stroke-width="1.15" stroke-linejoin="round"/>
<polyline points="412.19,198.5 413.35,198.38 415,198.21 416.84,197.98 418.54,197.69 420.02,197.36 421.46,196.98 422.88,196.49 424.31,195.84 425.78,194.96 427.26,193.89 428.71,192.76 430.08,191.69 431.34,190.66 432.53,189.62 433.65,188.66 434.69,187.88 435.64,187.28 436.49,186.8 437.31,186.49 438.15,186.38 438.99,186.49 439.81,186.8 440.67,187.28 441.61,187.88 442.63,188.65 443.71,189.59 444.89,190.63 446.23,191.69 447.82,192.85 449.62,194.12 451.45,195.33 453.15,196.31 454.7,196.99 456.18,197.48 457.59,197.84 458.92,198.15 460.26,198.4 461.59,198.56 462.73,198.66 463.54,198.73" fill="none" stroke="#1e4468" stroke-width="1.15" stroke-linejoin="round"/>
<polyline points="48.8,246.3 72,246.3 74.5,245.6 77,246.3 100.2,246.3" fill="none" stroke="#b71c3e" stroke-width="1" stroke-linejoin="round"/>
<polyline points="48.8,246.5 100.2,246.5" fill="none" stroke="#1e4468" stroke-width="1" stroke-linejoin="round"/>
<polyline points="115,246.4 166.5,246.4" fill="none" stroke="#b71c3e" stroke-width="1" stroke-linejoin="round"/>
<polyline points="115,246.5 166.5,246.5" fill="none" stroke="#1e4468" stroke-width="1" stroke-linejoin="round"/>
<polyline points="196.92,241.66 197.92,242.03 198.92,241.99 199.92,241.88 200.92,241.69 201.92,242.08 202.92,241.84 203.92,241.38 204.92,241.13 205.92,240.69 206.92,240.3 207.92,240.46 208.92,240.51 209.92,240.04 210.92,240.45 211.92,239.96 212.92,239.86 213.92,239.63 214.92,240.19 215.92,239.91 216.92,239.79 217.92,239.1 218.92,238.2 219.92,237.48 220.92,235.91 221.92,233.95 222.92,233.36 223.92,234.65 224.92,236.2 225.92,237.88 226.92,238.4 227.92,239.7 228.92,239.23 229.92,239.17 230.92,238.89 231.92,239.18 232.92,239.44 233.92,239.8 234.92,240.85 235.92,240.36 236.92,240.61 237.92,240.08 238.92,240.61 239.92,241.25 240.92,241.86 241.92,241.85 242.92,241.38 243.92,241.16 244.92,240.4 245.92,241.34 246.92,242.29 247.92,241.64 248.92,241.14" fill="none" stroke="#b71c3e" stroke-width="1.15" stroke-linejoin="round"/>
<polyline points="196.92,241.57 197.92,240.83 198.92,240.73 199.92,241.6 200.92,240.87 201.92,240.79 202.92,241.02 203.92,240.5 204.92,240.74 205.92,239.89 206.92,240.32 207.92,239.65 208.92,239.8 209.92,240 210.92,239.67 211.92,239.79 212.92,239.49 213.92,238.8 214.92,239.45 215.92,239.09 216.92,238.61 217.92,238.01 218.92,238.1 219.92,236.94 220.92,235.56 221.92,233.72 222.92,232.72 223.92,234.07 224.92,235.89 225.92,237.02 226.92,237.71 227.92,239.07 228.92,238.36 229.92,238.65 230.92,238.67 231.92,238.59 232.92,238.6 233.92,239.68 234.92,240 235.92,239.53 236.92,239.27 237.92,239.57 238.92,239.12 239.92,240.62 240.92,240.94 241.92,240.94 242.92,240.51 243.92,240.4 244.92,240.3 245.92,240.45 246.92,241.21 247.92,241.18 248.92,239.93" fill="none" stroke="#1e4468" stroke-width="1.15" stroke-linejoin="round"/>
<polyline points="263.38,241.65 265.65,241.52 268.92,241.34 272.5,241.13 275.69,240.91 278.47,240.7 281.15,240.49 283.57,240.24 285.54,239.92 286.92,239.4 287.85,238.72 288.54,238.16 289.23,237.95 289.79,238.3 290.15,239.03 290.67,239.83 291.69,240.42 293.38,240.67 295.54,240.77 297.92,240.81 300.31,240.91 302.8,241.08 305.46,241.26 308.01,241.46 310.15,241.65 311.85,241.85 313.23,242.06 314.31,242.25 315.08,242.38" fill="none" stroke="#b71c3e" stroke-width="1.15" stroke-linejoin="round"/>
<polyline points="263.38,241.15 265.65,241.03 268.92,240.85 272.5,240.63 275.69,240.42 278.47,240.21 281.15,240 283.57,239.75 285.54,239.43 286.92,238.9 287.85,238.23 288.54,237.67 289.23,237.46 289.79,237.81 290.15,238.54 290.67,239.34 291.69,239.92 293.38,240.18 295.54,240.28 297.92,240.32 300.31,240.42 302.8,240.58 305.46,240.77 308.01,240.96 310.15,241.15 311.85,241.36 313.23,241.57 314.31,241.76 315.08,241.89" fill="none" stroke="#1e4468" stroke-width="1.15" stroke-linejoin="round"/>
<polyline points="345.5,245.46 346.5,244.84 347.94,245.35 348.94,245.01 350.44,245.34 351.93,244.56 352.94,244.98 354.2,242.85 355.89,244.84 356.82,241.42 358.04,244.71 359.21,242.29 360.86,244.7 361.94,241.41 363.28,243.81 364.84,241.58 365.91,243.95 367.59,242.09 369.08,243.91 370.5,241.23 372.03,244.07 373.09,240.26 374.17,244.9 375.34,241.4 376.56,244.17 378.12,240.21 379.79,243.76 381.32,242.23 382.37,244.2 383.7,241.74 384.69,244.72 386.31,242.27 387.77,244.84 388.99,243.97 390.4,244.56 391.47,244.5 393,245.07 394.53,244.37 395.53,245.38" fill="none" stroke="#b71c3e" stroke-width="0.9" stroke-linejoin="round"/>
<polyline points="345.5,245.4 346.58,244.93 348.19,245.02 349.66,245.15 350.97,244.7 352.29,244.27 353.88,245.13 354.79,242.1 355.8,244.94 357.28,241.54 358.84,243.81 359.91,242.83 360.92,243.78 361.91,242.42 362.84,244.89 363.78,241.72 364.82,244.58 366.45,241.86 368,244.06 369.35,240.38 370.86,244.25 371.95,240.97 373.05,244.47 374.73,241.07 375.69,244.38 377.24,241.36 378.7,244.84 379.65,241.17 380.6,244.59 381.81,242.54 382.75,244.94 384.4,241.82 386.05,244.36 387.71,241.98 389.1,244.99 390.41,244.76 391.61,244.81 392.67,244.04 393.98,244.92 395.53,244.28" fill="none" stroke="#1e4468" stroke-width="1" stroke-linejoin="round"/>
<polyline points="346,244.95 347.4,244.4 348.53,244.88 350.13,244.3 351.19,244.88 352.58,244.73 354.24,244.32 355.5,241.62 356.91,244.59 358.06,242.16 359.01,244.22 360.49,241.98 362.06,243.84 363.41,240.97 364.41,244.88 366.08,241.6 367.16,243.87 368.65,241.72 369.82,244.66 370.94,241.79 372.26,244.58 373.48,241.56 374.47,244.91 376.06,240.42 377.41,244.8 378.43,242.32 379.59,244.88 380.72,242.39 381.78,244.17 383.04,242.08 384.23,244.3 385.76,242.79 386.72,244.37 387.93,242.17 388.92,244.67 389.84,244.4 391.1,245.18 392.7,244.21 393.74,245.02 395.13,244.99 396.11,244.92" fill="none" stroke="#1a3550" stroke-width="0.9" stroke-linejoin="round"/>
<polyline points="411.38,245.46 415.77,245.43 422.15,245.38 428.69,245.32 433.54,245.22 435.98,245.03 437.08,244.78 437.63,244.57 438.46,244.48 439.35,244.57 440,244.78 441.12,245.03 443.38,245.22 447.73,245.32 453.54,245.38 459.19,245.43 463.08,245.46" fill="none" stroke="#b71c3e" stroke-width="0.9" stroke-linejoin="round"/>
<polyline points="411.38,245.46 415.77,245.43 422.15,245.38 428.69,245.32 433.54,245.22 435.98,245.03 437.08,244.78 437.63,244.57 438.46,244.48 439.35,244.57 440,244.78 441.12,245.03 443.38,245.22 447.73,245.32 453.54,245.38 459.19,245.43 463.08,245.46" fill="none" stroke="#1e4468" stroke-width="1.1" stroke-linejoin="round"/>
<polyline points="46.42,294.34 48.77,294.33 52.18,294.33 55.74,294.27 58.54,294.1 60.26,293.78 61.42,293.36 62.34,292.88 63.38,292.4 64.43,291.89 65.35,291.33 66.51,290.82 68.23,290.47 70.92,290.28 74.29,290.22 77.66,290.28 80.35,290.47 82.01,290.82 83.07,291.33 83.98,291.89 85.19,292.4 86.81,292.88 88.6,293.36 90.5,293.78 92.46,294.1 94.7,294.27 97.16,294.33 99.39,294.33 100.94,294.34" fill="none" stroke="#b71c3e" stroke-width="1.15" stroke-linejoin="round"/>
<polyline points="46.42,294.58 48.71,294.62 52.03,294.68 55.57,294.69 58.54,294.58 60.67,294.31 62.4,293.9 64.02,293.48 65.81,293.13 67.84,292.86 69.97,292.63 72.14,292.47 74.29,292.4 76.38,292.47 78.45,292.63 80.56,292.86 82.77,293.13 85.14,293.48 87.62,293.9 90.1,294.31 92.46,294.58 94.87,294.69 97.31,294.68 99.45,294.62 100.94,294.58" fill="none" stroke="#1e4468" stroke-width="1.15" stroke-linejoin="round"/>
<polyline points="114.27,294.58 116.97,294.51 120.86,294.4 125.09,294.27 128.81,294.1 131.79,293.85 134.49,293.52 137.07,293.25 139.71,293.13 142.32,293.25 144.86,293.52 147.55,293.85 150.61,294.1 154.58,294.27 159.17,294.4 163.42,294.51 166.36,294.58" fill="none" stroke="#b71c3e" stroke-width="1.15" stroke-linejoin="round"/>
<polyline points="114.27,294.34 116.97,294.22 120.86,294.04 125.09,293.83 128.81,293.62 131.79,293.34 134.49,293.02 137.07,292.76 139.71,292.65 142.32,292.76 144.86,293.02 147.55,293.34 150.61,293.62 154.58,293.83 159.17,294.04 163.42,294.22 166.36,294.34" fill="none" stroke="#1e4468" stroke-width="1.15" stroke-linejoin="round"/>
<polyline points="196.92,291.85 219.08,292.34 222.77,290.86 225.23,292.58 248.62,291.85" fill="none" stroke="#b71c3e" stroke-width="1.15" stroke-linejoin="round"/>
<polyline points="196.92,291.35 219.08,291.85 222.77,290.37 225.23,292.09 248.62,291.35" fill="none" stroke="#1e4468" stroke-width="1.15" stroke-linejoin="round"/>
<polyline points="264,292.6 315,292.6" fill="none" stroke="#b71c3e" stroke-width="1" stroke-linejoin="round"/>
<polyline points="264,292.2 315,292.2" fill="none" stroke="#1e4468" stroke-width="1" stroke-linejoin="round"/>
<polyline points="345.5,294.06 346.36,294.06 347.22,294.05 348.07,294.04 348.93,294.02 349.79,294.01 350.65,293.99 351.51,293.97 352.37,293.94 353.23,293.9 354.08,293.86 354.94,293.81 355.8,293.75 356.66,293.68 357.52,293.59 358.38,293.48 359.23,293.35 360.09,293.19 360.95,293 361.81,292.77 362.67,292.49 363.52,292.15 364.38,291.75 365.24,291.25 366.1,290.65 366.96,289.93 367.82,289.05 368.68,287.99 369.53,286.7 370.39,285.15 371.25,285.23 372.11,286.77 372.97,288.04 373.82,289.1 374.68,289.97 375.54,290.68 376.4,291.28 377.26,291.77 378.12,292.17 378.98,292.51 379.83,292.78 380.69,293.01 381.55,293.2 382.41,293.36 383.27,293.49 384.12,293.59 384.98,293.68 385.84,293.75 386.7,293.81 387.56,293.86 388.42,293.9 389.27,293.94 390.13,293.97 390.99,293.99 391.85,294.01 392.71,294.02 393.57,294.04 394.43,294.05 395.28,294.06 396.14,294.06 397,294.07" fill="none" stroke="#b71c3e" stroke-width="1.15" stroke-linejoin="round"/>
<polyline points="345.5,294.03 346.36,294.02 347.22,294 348.07,293.98 348.93,293.96 349.79,293.94 350.65,293.92 351.51,293.88 352.37,293.85 353.23,293.81 354.08,293.76 354.94,293.7 355.8,293.63 356.66,293.55 357.52,293.46 358.38,293.35 359.23,293.22 360.09,293.07 360.95,292.9 361.81,292.7 362.67,292.46 363.52,292.18 364.38,291.86 365.24,291.48 366.1,291.04 366.96,290.52 367.82,289.91 368.68,289.21 369.53,288.38 370.39,287.42 371.25,287.47 372.11,288.42 372.97,289.24 373.82,289.95 374.68,290.55 375.54,291.06 376.4,291.5 377.26,291.87 378.12,292.2 378.98,292.47 379.83,292.71 380.69,292.91 381.55,293.08 382.41,293.23 383.27,293.35 384.12,293.46 384.98,293.55 385.84,293.63 386.7,293.7 387.56,293.76 388.42,293.81 389.27,293.85 390.13,293.89 390.99,293.92 391.85,293.94 392.71,293.97 393.57,293.99 394.43,294 395.28,294.02 396.14,294.03 397,294.04" fill="none" stroke="#1e4468" stroke-width="1.15" stroke-linejoin="round"/>
<polyline points="413,293.83 413.85,293.82 414.7,293.81 415.55,293.8 416.4,293.78 417.25,293.77 418.1,293.75 418.95,293.72 419.8,293.7 420.65,293.67 421.5,293.63 422.35,293.59 423.2,293.54 424.05,293.49 424.9,293.42 425.75,293.35 426.6,293.27 427.45,293.17 428.3,293.06 429.15,292.93 430,292.78 430.85,292.61 431.7,292.42 432.55,292.19 433.4,291.93 434.25,291.63 435.1,291.29 435.95,290.89 436.8,290.43 437.65,289.91 438.5,289.3 439.35,289.91 440.2,290.43 441.05,290.89 441.9,291.29 442.75,291.63 443.6,291.93 444.45,292.19 445.3,292.42 446.15,292.61 447,292.78 447.85,292.93 448.7,293.06 449.55,293.17 450.4,293.27 451.25,293.35 452.1,293.42 452.95,293.49 453.8,293.54 454.65,293.59 455.5,293.63 456.35,293.67 457.2,293.7 458.05,293.72 458.9,293.75 459.75,293.77 460.6,293.78 461.45,293.8 462.3,293.81 463.15,293.82 464,293.83" fill="none" stroke="#b71c3e" stroke-width="1.15" stroke-linejoin="round"/>
<polyline points="413,293.82 413.85,293.81 414.7,293.8 415.55,293.79 416.4,293.77 417.25,293.76 418.1,293.74 418.95,293.72 419.8,293.69 420.65,293.67 421.5,293.64 422.35,293.6 423.2,293.56 424.05,293.52 424.9,293.47 425.75,293.41 426.6,293.35 427.45,293.28 428.3,293.2 429.15,293.11 430,293.01 430.85,292.89 431.7,292.76 432.55,292.62 433.4,292.45 434.25,292.27 435.1,292.05 435.95,291.82 436.8,291.55 437.65,291.24 438.5,290.9 439.35,291.24 440.2,291.55 441.05,291.82 441.9,292.05 442.75,292.27 443.6,292.45 444.45,292.62 445.3,292.76 446.15,292.89 447,293.01 447.85,293.11 448.7,293.2 449.55,293.28 450.4,293.35 451.25,293.41 452.1,293.47 452.95,293.52 453.8,293.56 454.65,293.6 455.5,293.64 456.35,293.67 457.2,293.69 458.05,293.72 458.9,293.74 459.75,293.76 460.6,293.77 461.45,293.79 462.3,293.8 463.15,293.81 464,293.82" fill="none" stroke="#1e4468" stroke-width="1.15" stroke-linejoin="round"/>
<polyline points="48.85,335.56 49.5,335.86 50.44,336.31 51.49,336.69 52.48,336.77 53.39,336.5 54.3,336.01 55.21,335.29 56.12,334.35 57.05,333 58.01,331.32 58.93,329.63 59.75,328.29 60.44,327.37 61.04,326.7 61.6,326.22 62.17,325.87 62.81,325.84 63.46,326.09 64.08,326.23 64.6,325.87 64.96,324.69 65.2,322.99 65.45,321.21 65.81,319.81 66.33,318.92 66.94,318.29 67.6,317.82 68.23,317.38 68.85,316.68 69.47,315.87 70.08,315.51 70.65,316.17 71.2,318.49 71.71,322 72.19,325.63 72.59,328.29 72.89,329.83 73.11,330.79 73.31,331.1 73.56,330.71 73.89,329.47 74.24,327.46 74.62,324.95 75.02,322.23 75.41,318.97 75.8,315.14 76.23,311.53 76.71,308.9 77.27,307.58 77.88,307.12 78.51,307.12 79.13,307.21 79.74,307.29 80.35,307.57 80.95,308.09 81.56,308.9 82.13,310.17 82.69,311.81 83.29,313.52 83.98,314.96 84.8,316.01 85.72,316.85 86.68,317.66 87.62,318.6 88.52,319.64 89.43,320.72 90.34,321.95 91.25,323.44 92.16,325.51 93.07,327.99 93.98,330.31 94.88,331.92 95.82,332.52 96.78,332.45 97.7,332.12 98.52,331.92 99.27,331.92 99.96,331.92 100.54,331.92 100.94,331.92" fill="none" stroke="#b71c3e" stroke-width="1.15" stroke-linejoin="round"/>
<polyline points="48.85,336.77 49.5,337.07 50.44,337.53 51.49,337.9 52.48,337.98 53.39,337.69 54.3,337.15 55.21,336.42 56.12,335.56 57.05,334.43 58.01,333.06 58.93,331.72 59.75,330.71 60.44,330.15 61.04,329.88 61.6,329.72 62.17,329.5 62.81,329.25 63.46,329.05 64.08,328.76 64.6,328.29 64.96,327.49 65.2,326.47 65.45,325.45 65.81,324.65 66.33,324.19 66.94,323.93 67.6,323.72 68.23,323.44 68.85,322.77 69.47,321.88 70.08,321.35 70.65,321.75 71.2,323.65 71.71,326.61 72.19,329.68 72.59,331.92 72.89,333.22 73.11,334.03 73.31,334.27 73.56,333.86 73.89,332.6 74.24,330.59 74.62,328.22 75.02,325.87 75.41,323.35 75.8,320.56 76.23,318.01 76.71,316.17 77.27,315.3 77.88,315.08 78.51,315.23 79.13,315.45 79.74,315.68 80.35,316.07 80.95,316.63 81.56,317.38 82.13,318.42 82.69,319.7 83.29,321.04 83.98,322.23 84.8,323.22 85.72,324.12 86.68,324.99 87.62,325.87 88.52,326.75 89.43,327.61 90.34,328.51 91.25,329.5 92.16,330.71 93.07,332.07 93.98,333.36 94.88,334.35 95.82,334.93 96.78,335.25 97.7,335.43 98.52,335.56 99.27,335.64 99.96,335.63 100.54,335.59 100.94,335.56" fill="none" stroke="#1e4468" stroke-width="1.15" stroke-linejoin="round"/>
<polyline points="114.27,341.13 116.07,340.6 118.66,339.86 121.48,338.96 123.96,337.98 125.98,336.87 127.82,335.62 129.56,334.33 131.23,333.13 132.92,331.83 134.56,330.44 136.06,329.36 137.29,329.02 138.15,330.1 138.73,332.21 139.19,334.05 139.71,334.35 140.29,332.1 140.85,328.23 141.44,324.26 142.13,321.75 142.87,321.17 143.65,321.69 144.58,322.84 145.77,324.17 147.33,325.8 149.18,327.89 151.14,330.06 153.04,331.92 154.88,333.37 156.75,334.6 158.58,335.71 160.31,336.77 162.05,337.85 163.79,338.89 165.3,339.78 166.36,340.4" fill="none" stroke="#b71c3e" stroke-width="1.15" stroke-linejoin="round"/>
<polyline points="114.27,341.13 116.07,340.65 118.66,339.96 121.48,339.14 123.96,338.22 125.98,337.17 127.82,335.97 129.56,334.74 131.23,333.62 132.92,332.44 134.56,331.21 136.06,330.27 137.29,329.98 138.15,330.99 138.73,332.91 139.19,334.58 139.71,334.83 140.29,332.76 140.85,329.2 141.44,325.54 142.13,323.2 142.87,322.6 143.65,322.97 144.58,323.94 145.77,325.14 147.33,326.69 149.18,328.73 151.14,330.85 153.04,332.65 154.88,334.03 156.75,335.21 158.58,336.26 160.31,337.25 162.05,338.27 163.79,339.24 165.3,340.06 166.36,340.65" fill="none" stroke="#1e4468" stroke-width="1.15" stroke-linejoin="round"/>
<polyline points="196.92,337.31 197.92,337.27 198.92,337.28 199.92,337.78 200.92,337.63 201.92,337.75 202.92,337.72 203.92,337.66 204.92,337.92 205.92,337.88 206.92,338.07 207.92,338.15 208.92,338.4 209.92,338.31 210.92,338.29 211.92,338.44 212.92,338.93 213.92,338.75 214.92,339.19 215.92,339.32 216.92,339.11 217.92,339.61 218.92,339.23 219.92,339.79 220.92,339.85 221.92,339.54 222.92,339.91 223.92,339.98 224.92,339.56 225.92,339.82 226.92,339.43 227.92,339.83 228.92,339.63 229.92,339.74 230.92,339.12 231.92,339.2 232.92,339.31 233.92,339.23 234.92,338.9 235.92,339.25 236.92,339.15 237.92,338.74 238.92,338.58 239.92,338.81 240.92,338.58 241.92,338.71 242.92,338.61 243.92,338.55 244.92,338.33 245.92,338.4 246.92,338.59 247.92,338.75 248.92,338.57" fill="none" stroke="#b71c3e" stroke-width="1.15" stroke-linejoin="round"/>
<polyline points="196.92,336.99 197.92,336.61 198.92,336.83 199.92,336.85 200.92,337.26 201.92,337.27 202.92,337.47 203.92,336.95 204.92,337.24 205.92,337.01 206.92,337.2 207.92,337.47 208.92,337.21 209.92,337.41 210.92,337.8 211.92,337.8 212.92,337.65 213.92,337.98 214.92,338.21 215.92,337.73 216.92,338.23 217.92,337.83 218.92,337.24 219.92,336.78 220.92,337.21 221.92,336.78 222.92,336.61 223.92,336.61 224.92,337.32 225.92,337.35 226.92,337.69 227.92,337.84 228.92,337.9 229.92,338.24 230.92,337.86 231.92,338.01 232.92,338.24 233.92,338.13 234.92,338.33 235.92,338.16 236.92,338.29 237.92,337.87 238.92,338.03 239.92,338.11 240.92,338.01 241.92,338.15 242.92,338.1 243.92,338.26 244.92,338.55 245.92,338.4 246.92,338.44 247.92,338.37 248.92,338.45" fill="none" stroke="#1e4468" stroke-width="1.15" stroke-linejoin="round"/>
<polyline points="263.38,339.11 267.77,339.24 274.15,339.43 280.69,339.64 285.54,339.85 287.52,340.03 287.85,340.22 288.25,340.4 290.46,340.58 295.81,340.79 303.08,341 310.19,341.19 315.08,341.32" fill="none" stroke="#b71c3e" stroke-width="1.15" stroke-linejoin="round"/>
<polyline points="263.38,339.35 315.08,339.35" fill="none" stroke="#1e4468" stroke-width="1.15" stroke-linejoin="round"/>
<polyline points="344.92,338.62 346.69,338.26 349.23,337.77 352.08,337.09 354.77,336.15 357.38,334.96 360.08,333.54 362.59,331.88 364.62,330 366,327.83 366.92,325.38 367.62,322.79 368.31,320.15 369.01,317.07 369.62,313.62 370.18,310.66 370.77,309.08 371.36,309.32 371.92,310.85 372.53,313.03 373.23,315.23 373.98,317.49 374.77,320.08 375.71,322.7 376.92,325.08 378.51,327.17 380.38,329.11 382.38,330.88 384.31,332.46 386.21,333.84 388.15,335.03 390.02,336.04 391.69,336.89 393.21,337.55 394.62,338.03 395.79,338.37 396.62,338.62" fill="none" stroke="#b71c3e" stroke-width="1.15" stroke-linejoin="round"/>
<polyline points="344.92,339.11 346.69,338.79 349.23,338.35 352.08,337.74 354.77,336.89 357.38,335.79 360.08,334.46 362.59,332.93 364.62,331.23 366,329.26 366.92,327.03 367.62,324.75 368.31,322.62 369.01,320.39 369.62,318.08 370.18,316.18 370.77,315.23 371.36,315.54 371.92,316.77 372.53,318.46 373.23,320.15 373.98,321.86 374.77,323.77 375.71,325.72 376.92,327.54 378.51,329.22 380.38,330.85 382.38,332.36 384.31,333.69 386.21,334.83 388.15,335.82 390.02,336.66 391.69,337.38 393.21,337.99 394.62,338.48 395.79,338.84 396.62,339.11" fill="none" stroke="#1e4468" stroke-width="1.15" stroke-linejoin="round"/>
<polyline points="411.38,341.08 413.71,340.83 417.08,340.49 420.67,340.02 423.69,339.35 425.94,338.56 427.85,337.65 429.52,336.47 431.08,334.92 432.54,332.81 433.85,330.26 435,327.58 436,325.08 436.79,322.43 437.38,319.62 437.9,317.38 438.46,316.46 439.02,317.38 439.54,319.62 440.13,322.43 440.92,325.08 441.87,327.57 442.92,330.23 444.21,332.78 445.85,334.92 448.02,336.59 450.62,337.92 453.29,338.99 455.69,339.85 457.88,340.44 460,340.77 461.81,340.94 463.08,341.08" fill="none" stroke="#b71c3e" stroke-width="1.15" stroke-linejoin="round"/>
<polyline points="411.38,341.32 413.71,341.12 417.08,340.85 420.67,340.44 423.69,339.85 425.94,339.08 427.85,338.17 429.52,337.05 431.08,335.66 432.54,333.92 433.85,331.88 435,329.7 436,327.54 436.79,325.03 437.38,322.22 437.9,319.91 438.46,318.92 439.02,319.77 439.54,321.91 440.13,324.59 440.92,327.05 441.87,329.26 442.92,331.57 444.21,333.77 445.85,335.66 448.02,337.19 450.62,338.48 453.29,339.52 455.69,340.34 457.88,340.87 460,341.12 461.81,341.23 463.08,341.32" fill="none" stroke="#1e4468" stroke-width="1.15" stroke-linejoin="round"/>
<polyline points="48.8,388.1 100.2,388.1" fill="none" stroke="#b71c3e" stroke-width="0.9" stroke-linejoin="round"/>
<polyline points="48.8,387.98 49.8,387.96 50.8,388.12 51.8,388.27 52.8,387.96 53.8,388.06 54.8,388.12 55.8,388.2 56.8,388.14 57.8,387.91 58.8,387.95 59.8,387.91 60.8,388.09 61.8,387.92 62.8,388.17 63.8,387.95 64.8,388.03 65.8,388.14 66.8,388.25 67.8,388.07 68.8,388 69.8,388.03 70.8,388.22 71.8,388.15 72.8,388.2 73.8,388.18 74.8,387.92 75.8,388.16 76.8,387.99 77.8,388.02 78.8,388.03 79.8,388.19 80.8,387.96 81.8,388.18 82.8,388.27 83.8,388.02 84.8,388.2 85.8,388 86.8,388.23 87.8,387.98 88.8,388.17 89.8,388.25 90.8,388.19 91.8,388.01 92.8,387.99 93.8,387.95 94.8,388.01 95.8,388.11 96.8,387.98 97.8,388.17 98.8,388.17 99.8,388.21" fill="none" stroke="#1e4468" stroke-width="1.1" stroke-linejoin="round"/>
<polyline points="115,388.1 166.5,388.1" fill="none" stroke="#b71c3e" stroke-width="0.9" stroke-linejoin="round"/>
<polyline points="115,388.1 166.5,388.1" fill="none" stroke="#2c5f8f" stroke-width="1.1" stroke-linejoin="round"/>
<polyline points="196.92,379.08 197.62,379.81 198.32,379.65 199.02,380.99 199.72,379.95 200.42,379.73 201.12,379.59 201.82,378.1 202.52,378.59 203.22,377.89 203.92,377.26 204.62,377.82 205.32,379.16 206.02,380.22 206.72,382.58 207.42,381.94 208.12,382.99 208.82,382.97 209.52,381.9 210.22,382.42 210.92,382.93 211.62,383.61 212.32,382.51 213.02,382.99 213.72,382.45 214.42,382.9 215.12,382.94 215.82,382.51 216.52,381.49 217.22,382.16 217.92,381.5 218.62,381.93 219.32,381.2 220.02,381.68 220.72,381.63 221.42,381.21 222.12,381.18 222.82,381.17 223.52,380.83 224.22,380.09 224.92,380.96 225.62,379.83 226.32,378.81 227.02,379.81 227.72,380.34 228.42,380.58 229.12,382.16 229.82,381.03 230.52,382.36 231.22,381.97 231.92,380.9 232.62,380.47 233.32,379.91 234.02,378.8 234.72,379.42 235.42,378.9 236.12,379.05 236.82,379.24 237.52,379.88 238.22,380.89 238.92,381.42 239.62,381.34 240.32,381.53 241.02,381.85 241.72,382.15 242.42,381.96 243.12,381.47 243.82,381.14 244.52,379.57 245.22,379.81 245.92,378.96 246.62,380.15 247.32,380.98 248.02,381.8" fill="none" stroke="#b71c3e" stroke-width="1.2" stroke-linejoin="round"/>
<polyline points="196.92,374.12 197.62,373.6 198.32,375.79 199.02,376.43 199.72,377.58 200.42,376.32 201.12,376.84 201.82,375.2 202.52,376.27 203.22,374.93 203.92,374.19 204.62,374.91 205.32,376.79 206.02,377.18 206.72,379.18 207.42,378.63 208.12,378.73 208.82,378.9 209.52,379 210.22,379.08 210.92,379.93 211.62,379.32 212.32,379.6 213.02,379.14 213.72,378.61 214.42,378.17 215.12,377.02 215.82,376.65 216.52,376.49 217.22,375.08 217.92,373.53 218.62,373.29 219.32,372.44 220.02,370.97 220.72,369.94 221.42,369.22 222.12,370.54 222.82,371.43 223.52,371.87 224.22,371.84 224.92,370.81 225.62,370.42 226.32,371.18 227.02,371.46 227.72,372.03 228.42,372.25 229.12,372.67 229.82,372.76 230.52,372.68 231.22,373.48 231.92,372.71 232.62,372.78 233.32,372.22 234.02,372.07 234.72,372.05 235.42,371.77 236.12,370.34 236.82,372.4 237.52,373.27 238.22,374.26 238.92,374.61 239.62,376.16 240.32,376.62 241.02,376.35 241.72,377.07 242.42,377 243.12,376.48 243.82,376.38 244.52,375.4 245.22,375.29 245.92,373.93 246.62,375.05 247.32,374.52 248.02,375.85" fill="none" stroke="#1e4468" stroke-width="1.25" stroke-linejoin="round"/>
<polyline points="264,385.4 315,385.4" fill="none" stroke="#b71c3e" stroke-width="1" stroke-linejoin="round"/>
<polyline points="264,385.8 315,385.8" fill="none" stroke="#1e4468" stroke-width="1" stroke-linejoin="round"/>
<polyline points="345.5,386.9 360,386.6 360.65,381.9 361.35,381.9 362,386.6 363.6,386.6 364.25,352.4 364.95,352.4 365.6,386.6 366.8,386.6 367.45,366.4 368.15,366.4 368.8,386.6 368.6,386.6 369.25,373.9 369.95,373.9 370.6,386.6 373,386.6 373.65,377.4 374.35,377.4 375,386.6 379.6,386.6 380.25,383.4 380.95,383.4 381.6,386.6 385.8,386.6 386.45,380.9 387.15,380.9 387.8,386.6 397,386.9" fill="#6d9ad0" stroke="#1e4468" stroke-width="0.8" stroke-linejoin="round"/>
<polyline points="345.5,387.3 397,387.3" fill="none" stroke="#1e4468" stroke-width="1" stroke-linejoin="round"/>
<polyline points="370,385.7 374,384.7 378,385.3 383,386.1" fill="none" stroke="#1e4468" stroke-width="0.8" stroke-linejoin="round"/>
<polyline points="411.38,386.85 415.77,386.81 422.15,386.77 428.69,386.7 433.54,386.6 435.98,386.42 437.08,386.17 437.63,385.95 438.46,385.86 439.35,385.95 440,386.17 441.12,386.42 443.38,386.6 447.73,386.7 453.54,386.77 459.19,386.81 463.08,386.85" fill="none" stroke="#1e4468" stroke-width="1" stroke-linejoin="round"/>
<polyline points="411.38,387.09 415.77,387.05 422.15,387 428.69,386.93 433.54,386.85 435.98,386.72 437.08,386.55 437.63,386.41 438.46,386.35 439.35,386.41 440,386.55 441.12,386.72 443.38,386.85 447.73,386.93 453.54,387 459.19,387.05 463.08,387.09" fill="none" stroke="#b71c3e" stroke-width="0.8" stroke-linejoin="round"/>
<text x="7.6" y="424.8" font-size="11.3" fill="#111" font-weight="bold">D</text>
<text x="126.9" y="421.6" font-size="9.1" fill="#2a2a2a" stroke="#2a2a2a" stroke-width="0.18" text-anchor="middle" textLength="42.8" lengthAdjust="spacingAndGlyphs">H3K27me3</text>
<text x="81.5" y="432.7" font-size="6.5" fill="#2a2a2a" stroke="#2a2a2a" stroke-width="0.15" text-anchor="middle" textLength="43.1" lengthAdjust="spacingAndGlyphs">KDM6A bound</text>
<text x="171.5" y="432.7" font-size="6.5" fill="#2a2a2a" stroke="#2a2a2a" stroke-width="0.15" text-anchor="middle" textLength="26.1" lengthAdjust="spacingAndGlyphs">Unbound</text>
<text x="13.8" y="462.9" font-size="6.6" fill="#333" stroke="#333" stroke-width="0.15" text-anchor="middle" transform="rotate(-90 13.8 462.9)">Genes with</text>
<text x="24.4" y="462.9" font-size="6.6" fill="#333" stroke="#333" stroke-width="0.15" text-anchor="middle" transform="rotate(-90 24.4 462.9)">active enhancers</text>
<line x1="42.6" y1="437.2" x2="42.6" y2="489" stroke="#333" stroke-width="1.25"/>
<line x1="42" y1="488.4" x2="121.1" y2="488.4" stroke="#333" stroke-width="1.25"/>
<line x1="40.1" y1="480.1" x2="42.6" y2="480.1" stroke="#333" stroke-width="0.9"/>
<text x="36.1" y="482.3" font-size="6.2" fill="#2a2a2a" stroke="#2a2a2a" stroke-width="0.15" text-anchor="end" textLength="3.05" lengthAdjust="spacingAndGlyphs">2</text>
<line x1="40.1" y1="471.8" x2="42.6" y2="471.8" stroke="#333" stroke-width="0.9"/>
<text x="36.1" y="474" font-size="6.2" fill="#2a2a2a" stroke="#2a2a2a" stroke-width="0.15" text-anchor="end" textLength="3.05" lengthAdjust="spacingAndGlyphs">4</text>
<line x1="40.1" y1="463.5" x2="42.6" y2="463.5" stroke="#333" stroke-width="0.9"/>
<text x="36.1" y="465.7" font-size="6.2" fill="#2a2a2a" stroke="#2a2a2a" stroke-width="0.15" text-anchor="end" textLength="3.05" lengthAdjust="spacingAndGlyphs">6</text>
<line x1="40.1" y1="455.2" x2="42.6" y2="455.2" stroke="#333" stroke-width="0.9"/>
<text x="36.1" y="457.4" font-size="6.2" fill="#2a2a2a" stroke="#2a2a2a" stroke-width="0.15" text-anchor="end" textLength="3.05" lengthAdjust="spacingAndGlyphs">8</text>
<line x1="40.1" y1="446.9" x2="42.6" y2="446.9" stroke="#333" stroke-width="0.9"/>
<text x="36.1" y="449.1" font-size="6.2" fill="#2a2a2a" stroke="#2a2a2a" stroke-width="0.15" text-anchor="end" textLength="6.1" lengthAdjust="spacingAndGlyphs">10</text>
<line x1="40.1" y1="438.6" x2="42.6" y2="438.6" stroke="#333" stroke-width="0.9"/>
<text x="36.1" y="440.8" font-size="6.2" fill="#2a2a2a" stroke="#2a2a2a" stroke-width="0.15" text-anchor="end" textLength="6.1" lengthAdjust="spacingAndGlyphs">12</text>
<line x1="132.8" y1="437.2" x2="132.8" y2="489" stroke="#333" stroke-width="1.25"/>
<line x1="132.2" y1="488.4" x2="211.3" y2="488.4" stroke="#333" stroke-width="1.25"/>
<text x="13.8" y="521.7" font-size="6.6" fill="#333" stroke="#333" stroke-width="0.15" text-anchor="middle" transform="rotate(-90 13.8 521.7)">Genes with</text>
<text x="24.4" y="521.7" font-size="6.6" fill="#333" stroke="#333" stroke-width="0.15" text-anchor="middle" transform="rotate(-90 24.4 521.7)">poised enhancers</text>
<line x1="42.6" y1="496" x2="42.6" y2="547.8" stroke="#333" stroke-width="1.25"/>
<line x1="42" y1="547.2" x2="121.1" y2="547.2" stroke="#333" stroke-width="1.25"/>
<line x1="40.1" y1="538.9" x2="42.6" y2="538.9" stroke="#333" stroke-width="0.9"/>
<text x="36.1" y="541.1" font-size="6.2" fill="#2a2a2a" stroke="#2a2a2a" stroke-width="0.15" text-anchor="end" textLength="3.05" lengthAdjust="spacingAndGlyphs">2</text>
<line x1="40.1" y1="530.6" x2="42.6" y2="530.6" stroke="#333" stroke-width="0.9"/>
<text x="36.1" y="532.8" font-size="6.2" fill="#2a2a2a" stroke="#2a2a2a" stroke-width="0.15" text-anchor="end" textLength="3.05" lengthAdjust="spacingAndGlyphs">4</text>
<line x1="40.1" y1="522.3" x2="42.6" y2="522.3" stroke="#333" stroke-width="0.9"/>
<text x="36.1" y="524.5" font-size="6.2" fill="#2a2a2a" stroke="#2a2a2a" stroke-width="0.15" text-anchor="end" textLength="3.05" lengthAdjust="spacingAndGlyphs">6</text>
<line x1="40.1" y1="514" x2="42.6" y2="514" stroke="#333" stroke-width="0.9"/>
<text x="36.1" y="516.2" font-size="6.2" fill="#2a2a2a" stroke="#2a2a2a" stroke-width="0.15" text-anchor="end" textLength="3.05" lengthAdjust="spacingAndGlyphs">8</text>
<line x1="40.1" y1="505.7" x2="42.6" y2="505.7" stroke="#333" stroke-width="0.9"/>
<text x="36.1" y="507.9" font-size="6.2" fill="#2a2a2a" stroke="#2a2a2a" stroke-width="0.15" text-anchor="end" textLength="6.1" lengthAdjust="spacingAndGlyphs">10</text>
<line x1="40.1" y1="497.4" x2="42.6" y2="497.4" stroke="#333" stroke-width="0.9"/>
<text x="36.1" y="499.6" font-size="6.2" fill="#2a2a2a" stroke="#2a2a2a" stroke-width="0.15" text-anchor="end" textLength="6.1" lengthAdjust="spacingAndGlyphs">12</text>
<line x1="132.8" y1="496" x2="132.8" y2="547.8" stroke="#333" stroke-width="1.25"/>
<line x1="132.2" y1="547.2" x2="211.3" y2="547.2" stroke="#333" stroke-width="1.25"/>
<text x="13.8" y="580.8" font-size="6.6" fill="#333" stroke="#333" stroke-width="0.15" text-anchor="middle" transform="rotate(-90 13.8 580.8)">Genes with</text>
<text x="24.4" y="580.8" font-size="6.6" fill="#333" stroke="#333" stroke-width="0.15" text-anchor="middle" transform="rotate(-90 24.4 580.8)">active promoter</text>
<line x1="42.6" y1="555.1" x2="42.6" y2="606.9" stroke="#333" stroke-width="1.25"/>
<line x1="42" y1="606.3" x2="121.1" y2="606.3" stroke="#333" stroke-width="1.25"/>
<line x1="40.1" y1="598" x2="42.6" y2="598" stroke="#333" stroke-width="0.9"/>
<text x="36.1" y="600.2" font-size="6.2" fill="#2a2a2a" stroke="#2a2a2a" stroke-width="0.15" text-anchor="end" textLength="3.05" lengthAdjust="spacingAndGlyphs">2</text>
<line x1="40.1" y1="589.7" x2="42.6" y2="589.7" stroke="#333" stroke-width="0.9"/>
<text x="36.1" y="591.9" font-size="6.2" fill="#2a2a2a" stroke="#2a2a2a" stroke-width="0.15" text-anchor="end" textLength="3.05" lengthAdjust="spacingAndGlyphs">4</text>
<line x1="40.1" y1="581.4" x2="42.6" y2="581.4" stroke="#333" stroke-width="0.9"/>
<text x="36.1" y="583.6" font-size="6.2" fill="#2a2a2a" stroke="#2a2a2a" stroke-width="0.15" text-anchor="end" textLength="3.05" lengthAdjust="spacingAndGlyphs">6</text>
<line x1="40.1" y1="573.1" x2="42.6" y2="573.1" stroke="#333" stroke-width="0.9"/>
<text x="36.1" y="575.3" font-size="6.2" fill="#2a2a2a" stroke="#2a2a2a" stroke-width="0.15" text-anchor="end" textLength="3.05" lengthAdjust="spacingAndGlyphs">8</text>
<line x1="40.1" y1="564.8" x2="42.6" y2="564.8" stroke="#333" stroke-width="0.9"/>
<text x="36.1" y="567" font-size="6.2" fill="#2a2a2a" stroke="#2a2a2a" stroke-width="0.15" text-anchor="end" textLength="6.1" lengthAdjust="spacingAndGlyphs">10</text>
<line x1="40.1" y1="556.5" x2="42.6" y2="556.5" stroke="#333" stroke-width="0.9"/>
<text x="36.1" y="558.7" font-size="6.2" fill="#2a2a2a" stroke="#2a2a2a" stroke-width="0.15" text-anchor="end" textLength="6.1" lengthAdjust="spacingAndGlyphs">12</text>
<line x1="132.8" y1="555.1" x2="132.8" y2="606.9" stroke="#333" stroke-width="1.25"/>
<line x1="132.2" y1="606.3" x2="211.3" y2="606.3" stroke="#333" stroke-width="1.25"/>
<text x="13.8" y="639.9" font-size="6.6" fill="#333" stroke="#333" stroke-width="0.15" text-anchor="middle" transform="rotate(-90 13.8 639.9)">Genes with</text>
<text x="24.4" y="639.9" font-size="6.6" fill="#333" stroke="#333" stroke-width="0.15" text-anchor="middle" transform="rotate(-90 24.4 639.9)">inactive promoter</text>
<line x1="42.6" y1="614.2" x2="42.6" y2="666" stroke="#333" stroke-width="1.25"/>
<line x1="42" y1="665.4" x2="121.1" y2="665.4" stroke="#333" stroke-width="1.25"/>
<line x1="40.1" y1="657.1" x2="42.6" y2="657.1" stroke="#333" stroke-width="0.9"/>
<text x="36.1" y="659.3" font-size="6.2" fill="#2a2a2a" stroke="#2a2a2a" stroke-width="0.15" text-anchor="end" textLength="3.05" lengthAdjust="spacingAndGlyphs">2</text>
<line x1="40.1" y1="648.8" x2="42.6" y2="648.8" stroke="#333" stroke-width="0.9"/>
<text x="36.1" y="651" font-size="6.2" fill="#2a2a2a" stroke="#2a2a2a" stroke-width="0.15" text-anchor="end" textLength="3.05" lengthAdjust="spacingAndGlyphs">4</text>
<line x1="40.1" y1="640.5" x2="42.6" y2="640.5" stroke="#333" stroke-width="0.9"/>
<text x="36.1" y="642.7" font-size="6.2" fill="#2a2a2a" stroke="#2a2a2a" stroke-width="0.15" text-anchor="end" textLength="3.05" lengthAdjust="spacingAndGlyphs">6</text>
<line x1="40.1" y1="632.2" x2="42.6" y2="632.2" stroke="#333" stroke-width="0.9"/>
<text x="36.1" y="634.4" font-size="6.2" fill="#2a2a2a" stroke="#2a2a2a" stroke-width="0.15" text-anchor="end" textLength="3.05" lengthAdjust="spacingAndGlyphs">8</text>
<line x1="40.1" y1="623.9" x2="42.6" y2="623.9" stroke="#333" stroke-width="0.9"/>
<text x="36.1" y="626.1" font-size="6.2" fill="#2a2a2a" stroke="#2a2a2a" stroke-width="0.15" text-anchor="end" textLength="6.1" lengthAdjust="spacingAndGlyphs">10</text>
<line x1="40.1" y1="615.6" x2="42.6" y2="615.6" stroke="#333" stroke-width="0.9"/>
<text x="36.1" y="617.8" font-size="6.2" fill="#2a2a2a" stroke="#2a2a2a" stroke-width="0.15" text-anchor="end" textLength="6.1" lengthAdjust="spacingAndGlyphs">12</text>
<line x1="46.2" y1="665.4" x2="46.2" y2="668" stroke="#333" stroke-width="0.8"/>
<text x="49.1" y="675.7" font-size="6.1" fill="#2a2a2a" stroke="#2a2a2a" stroke-width="0.15" text-anchor="end" transform="rotate(-45 49.1 675.7)">−1000</text>
<line x1="63.8" y1="665.4" x2="63.8" y2="668" stroke="#333" stroke-width="0.8"/>
<text x="66.7" y="675.7" font-size="6.1" fill="#2a2a2a" stroke="#2a2a2a" stroke-width="0.15" text-anchor="end" transform="rotate(-45 66.7 675.7)">TSS</text>
<line x1="99.6" y1="665.4" x2="99.6" y2="668" stroke="#333" stroke-width="0.8"/>
<text x="102.5" y="675.7" font-size="6.1" fill="#2a2a2a" stroke="#2a2a2a" stroke-width="0.15" text-anchor="end" transform="rotate(-45 102.5 675.7)">TES</text>
<line x1="117.2" y1="665.4" x2="117.2" y2="668" stroke="#333" stroke-width="0.8"/>
<text x="120.1" y="675.7" font-size="6.1" fill="#2a2a2a" stroke="#2a2a2a" stroke-width="0.15" text-anchor="end" transform="rotate(-45 120.1 675.7)">+1000</text>
<line x1="132.8" y1="614.2" x2="132.8" y2="666" stroke="#333" stroke-width="1.25"/>
<line x1="132.2" y1="665.4" x2="211.3" y2="665.4" stroke="#333" stroke-width="1.25"/>
<line x1="136.4" y1="665.4" x2="136.4" y2="668" stroke="#333" stroke-width="0.8"/>
<text x="139.3" y="675.7" font-size="6.1" fill="#2a2a2a" stroke="#2a2a2a" stroke-width="0.15" text-anchor="end" transform="rotate(-45 139.3 675.7)">−1000</text>
<line x1="154" y1="665.4" x2="154" y2="668" stroke="#333" stroke-width="0.8"/>
<text x="156.9" y="675.7" font-size="6.1" fill="#2a2a2a" stroke="#2a2a2a" stroke-width="0.15" text-anchor="end" transform="rotate(-45 156.9 675.7)">TSS</text>
<line x1="189.8" y1="665.4" x2="189.8" y2="668" stroke="#333" stroke-width="0.8"/>
<text x="192.7" y="675.7" font-size="6.1" fill="#2a2a2a" stroke="#2a2a2a" stroke-width="0.15" text-anchor="end" transform="rotate(-45 192.7 675.7)">TES</text>
<line x1="207.4" y1="665.4" x2="207.4" y2="668" stroke="#333" stroke-width="0.8"/>
<text x="210.3" y="675.7" font-size="6.1" fill="#2a2a2a" stroke="#2a2a2a" stroke-width="0.15" text-anchor="end" transform="rotate(-45 210.3 675.7)">+1000</text>
<polyline points="45.65,481.75 46.35,481.7 47.05,481.79 47.75,481.35 48.45,481.29 49.15,481.52 49.85,481.34 50.55,481.21 51.25,481.21 51.95,481.38 52.65,481.51 53.35,482.08 54.05,482.51 54.75,482.6 55.45,482.77 56.15,482.77 56.85,483.05 57.55,483.06 58.25,483.48 58.95,483.11 59.65,483.04 60.35,483.45 61.05,482.92 61.75,483.16 62.45,482.7 63.15,482.59 63.85,482.28 64.55,481.86 65.25,482.23 65.95,481.91 66.65,482.02 67.35,481.82 68.05,481.71 68.75,481.86 69.45,481.54 70.15,481.73 70.85,481.98 71.55,481.98 72.25,481.47 72.95,481.14 73.65,481.21 74.35,480.9 75.05,480.91 75.75,481.08 76.45,480.98 77.15,480.46 77.85,480.71 78.55,480.59 79.25,480.51 79.95,480.25 80.65,480.44 81.35,480.38 82.05,480.93 82.75,481.04 83.45,481.17 84.15,481.1 84.85,481.55 85.55,481.21 86.25,481.17 86.95,481.34 87.65,481.64 88.35,481.04 89.05,481.4 89.75,481.45 90.45,481.43 91.15,481.3 91.85,481.43 92.55,481.87 93.25,481.89 93.95,482.04 94.65,481.67 95.35,482.04 96.05,482.2 96.75,481.92 97.45,481.97 98.15,482.48 98.85,482.36 99.55,482.32 100.25,482.35 100.95,482.12 101.65,482.04 102.35,481.87 103.05,482.01 103.75,481.76 104.45,482.21 105.15,482.18 105.85,481.86 106.55,481.47 107.25,481.83 107.95,481.52 108.65,481.67 109.35,481.5 110.05,481.67 110.75,481.27 111.45,481.31 112.15,481.17 112.85,481.17 113.55,481.15 114.25,480.55 114.95,481 115.65,481.34 116.35,481.58" fill="none" stroke="#b71c3e" stroke-width="1.2" stroke-linejoin="round"/>
<polyline points="45.65,480.76 46.25,480.16 46.85,480.63 47.45,480.04 48.05,480.12 48.65,480.54 49.25,480.28 49.85,480.5 50.45,480.38 51.05,481.06 51.65,481.06 52.25,480.37 52.85,480.22 53.45,480.34 54.05,480.25 54.65,480.35 55.25,480.1 55.85,480.34 56.45,480.1 57.05,480.19 57.65,480.16 58.25,480.42 58.85,480.35 59.45,480.29 60.05,480.43 60.65,479.9 61.25,479.97 61.85,480.3 62.45,480.87 63.05,480.67 63.65,480.9 64.25,481.22 64.85,481.25 65.45,480.81 66.05,480.59 66.65,480.83 67.25,480.57 67.85,480.48 68.45,480.03 69.05,480.13 69.65,479.97 70.25,480.09 70.85,480.38 71.45,480.26 72.05,479.98 72.65,479.46 73.25,479.42 73.85,479.47 74.45,478.96 75.05,478.88 75.65,478.65 76.25,476.51 76.85,474.9 77.45,478.07 78.05,479.28 78.65,478.9 79.25,475.76 79.85,472.01 80.45,468.95 81.05,473.13 81.65,479.52 82.25,479.18 82.85,479.09 83.45,478.33 84.05,477.01 84.65,476.5 85.25,478.79 85.85,479.11 86.45,478.99 87.05,479.65 87.65,479.8 88.25,479.93 88.85,480.02 89.45,480.11 90.05,479.95 90.65,480.22 91.25,480.01 91.85,479.82 92.45,480.36 93.05,480.3 93.65,479.78 94.25,479.8 94.85,479.64 95.45,480.07 96.05,479.81 96.65,480.38 97.25,479.96 97.85,480.34 98.45,480.71 99.05,480.59 99.65,480.44 100.25,480.45 100.85,481 101.45,480.65 102.05,480.76 102.65,480.96 103.25,480.72 103.85,480.5 104.45,481 105.05,480.9 105.65,480.76 106.25,480.35 106.85,480.55 107.45,480.83 108.05,480.49 108.65,480.37 109.25,480.91 109.85,480.56 110.45,480.74 111.05,480.55 111.65,480.77 112.25,480.37 112.85,479.98 113.45,479.68 114.05,479.71 114.65,479.97 115.25,480.24 115.85,480.32 116.45,481.22" fill="none" stroke="#1e4468" stroke-width="1.2" stroke-linejoin="round"/>
<polyline points="136.14,482.08 142.92,482.73 146.16,483.7 149.39,484.02 152.62,483.37 154.23,482.08 157.46,483.05 167.16,483.37 178.47,483.37 184.93,483.7 191.39,484.02 197.85,483.37 207.54,483.7" fill="none" stroke="#b71c3e" stroke-width="1" stroke-linejoin="round"/>
<polyline points="136.14,482.4 146.16,482.89 154.23,482.73 162.31,483.05 167.48,483.05 168.13,463.99 168.77,483.05 175.23,483.37 184.93,483.7 194.62,483.37 207.54,483.7" fill="none" stroke="#1e4468" stroke-width="1.1" stroke-linejoin="round"/>
<polyline points="45.65,525.68 46.25,523.09 46.85,519.24 47.45,518.71 48.05,519.08 48.65,519.93 49.25,521.72 49.85,525.83 50.45,529.82 51.05,526.19 51.65,521.46 52.25,517.96 52.85,513.3 53.45,516.62 54.05,520.15 54.65,523.17 55.25,526.52 55.85,530.37 56.45,532.03 57.05,533.49 57.65,533.45 58.25,532.3 58.85,531.84 59.45,529.62 60.05,528.08 60.65,525.88 61.25,526.31 61.85,526.73 62.45,527.58 63.05,528.65 63.65,530.24 64.25,530.92 64.85,534.22 65.45,533.7 66.05,533.19 66.65,533.85 67.25,534 67.85,534.53 68.45,534.69 69.05,534.96 69.65,535.17 70.25,535.37 70.85,535.87 71.45,535.19 72.05,535.01 72.65,535.33 73.25,535.17 73.85,535.65 74.45,535.48 75.05,535.23 75.65,534.88 76.25,535.77 76.85,535.57 77.45,535.53 78.05,535.62 78.65,535.8 79.25,534.57 79.85,534.7 80.45,535 81.05,535.23 81.65,534.87 82.25,534.88 82.85,534.75 83.45,534.82 84.05,535.85 84.65,536.15 85.25,535.61 85.85,535.2 86.45,534.37 87.05,534.67 87.65,533.76 88.25,533.98 88.85,533.6 89.45,534.23 90.05,535.14 90.65,534.73 91.25,535.4 91.85,535.29 92.45,535.22 93.05,535.45 93.65,534.63 94.25,534.99 94.85,533.91 95.45,534.2 96.05,534.77 96.65,534.87 97.25,535.41 97.85,535.17 98.45,534.72 99.05,534.84 99.65,533.89 100.25,533.69 100.85,533.73 101.45,533.48 102.05,533.94 102.65,533.76 103.25,533.74 103.85,533.59 104.45,533.93 105.05,533.82 105.65,533.71 106.25,534.46 106.85,534.74 107.45,534.44 108.05,535.18 108.65,534.97 109.25,534.75 109.85,535.6 110.45,534.53 111.05,534.97 111.65,534.39 112.25,534.19 112.85,532.91 113.45,533.24 114.05,531.33 114.65,532.19 115.25,533.42 115.85,535" fill="none" stroke="#b71c3e" stroke-width="1.2" stroke-linejoin="round"/>
<polyline points="45.65,526.26 46.35,522.5 47.05,519.5 47.75,517.87 48.45,519.14 49.15,521.85 49.85,526.75 50.55,529.98 51.25,525.72 51.95,519.66 52.65,514.5 53.35,515.15 54.05,520.29 54.75,524.42 55.45,528.76 56.15,532.78 56.85,533.4 57.55,533.93 58.25,532.43 58.95,530.57 59.65,528.43 60.35,526.41 61.05,526.25 61.75,526.69 62.45,528.17 63.15,529.57 63.85,530.54 64.55,532.96 65.25,534.95 65.95,533.48 66.65,534.03 67.35,535.2 68.05,534.83 68.75,535.1 69.45,535.05 70.15,534.85 70.85,535.04 71.55,535.48 72.25,535.45 72.95,535.06 73.65,535.57 74.35,536.1 75.05,535.85 75.75,535.21 76.45,535.45 77.15,535.28 77.85,535.36 78.55,535.2 79.25,535.44 79.95,535.67 80.65,534.95 81.35,534.47 82.05,535.17 82.75,535.15 83.45,535.15 84.15,535.13 84.85,535.24 85.55,535.4 86.25,535.42 86.95,534.61 87.65,534.4 88.35,533.16 89.05,533.98 89.75,534.67 90.45,534.33 91.15,534.76 91.85,535.88 92.55,535.37 93.25,534.9 93.95,534.17 94.65,534.47 95.35,534.64 96.05,534.55 96.75,535.04 97.45,535.22 98.15,535.24 98.85,535.5 99.55,534.56 100.25,533.86 100.95,533.45 101.65,533.42 102.35,532.84 103.05,533.16 103.75,534.3 104.45,534.21 105.15,533.95 105.85,533.81 106.55,534.9 107.25,534.63 107.95,534.43 108.65,535.33 109.35,534.61 110.05,535.14 110.75,535.15 111.45,534.29 112.15,534.08 112.85,533.8 113.55,531.88 114.25,531.66 114.95,532.95 115.65,533.95" fill="none" stroke="#b71c3e" stroke-width="0.9" stroke-linejoin="round"/>
<polyline points="45.65,524.52 46.25,522.25 46.85,519.8 47.45,517.01 48.05,517.89 48.65,518.25 49.25,521.39 49.85,525.21 50.45,528.99 51.05,525.12 51.65,519.64 52.25,514.24 52.85,510.09 53.45,513.4 54.05,517.39 54.65,520.46 55.25,524.28 55.85,526.77 56.45,529.18 57.05,529.13 57.65,530.34 58.25,528.65 58.85,527.4 59.45,525.24 60.05,522.37 60.65,519.19 61.25,520.92 61.85,521.61 62.45,522.21 63.05,523.57 63.65,524.33 64.25,526.63 64.85,528.82 65.45,530.61 66.05,528.7 66.65,528.02 67.25,525.94 67.85,527.85 68.45,529.73 69.05,529.27 69.65,529.53 70.25,528.15 70.85,527.89 71.45,529.03 72.05,529.07 72.65,529.5 73.25,528.06 73.85,527.4 74.45,527.87 75.05,527.49 75.65,528.86 76.25,529.06 76.85,529.45 77.45,527.83 78.05,527.96 78.65,528.29 79.25,526.8 79.85,527 80.45,526.85 81.05,526.78 81.65,527.51 82.25,526.55 82.85,528.04 83.45,527.86 84.05,528.55 84.65,527.08 85.25,526.56 85.85,527.35 86.45,525.54 87.05,526.53 87.65,527.12 88.25,528.84 88.85,529.1 89.45,529.83 90.05,530.2 90.65,530.6 91.25,530.02 91.85,531.15 92.45,530.03 93.05,530.22 93.65,530.23 94.25,529.87 94.85,529.24 95.45,529.55 96.05,529.52 96.65,530.98 97.25,531.03 97.85,531.73 98.45,532.16 99.05,531.64 99.65,530.93 100.25,531.03 100.85,530.45 101.45,530.48 102.05,531.44 102.65,531.32 103.25,530.77 103.85,531.42 104.45,531.41 105.05,532.13 105.65,532.3 106.25,531.78 106.85,531.56 107.45,531.85 108.05,532.43 108.65,532 109.25,531.39 109.85,532.23 110.45,531.9 111.05,531.34 111.65,530.49 112.25,530.5 112.85,530.37 113.45,529.19 114.05,528.8 114.65,529.03 115.25,529.91 115.85,531.62" fill="none" stroke="#1e4468" stroke-width="1.2" stroke-linejoin="round"/>
<polyline points="45.65,524.94 46.35,521.27 47.05,518.54 47.75,517.81 48.45,518.74 49.15,520.36 49.85,524.89 50.55,529.25 51.25,522.84 51.95,517.04 52.65,511.12 53.35,513.04 54.05,517.21 54.75,520.86 55.45,524.76 56.15,528.9 56.85,528.96 57.55,530.12 58.25,529.25 58.95,527.04 59.65,524.13 60.35,521.43 61.05,520.34 61.75,521.41 62.45,523 63.15,523.68 63.85,525.11 64.55,527.11 65.25,529.54 65.95,528.89 66.65,527.26 67.35,526.12 68.05,529.07 68.75,529.92 69.45,529.08 70.15,528.66 70.85,529.03 71.55,528.63 72.25,529.71 72.95,528.24 73.65,527.21 74.35,527.01 75.05,527.77 75.75,528.85 76.45,529.59 77.15,529 77.85,528.65 78.55,527.39 79.25,527.36 79.95,527.58 80.65,526.72 81.35,526.6 82.05,526.33 82.75,527.7 83.45,528.23 84.15,528.46 84.85,528.02 85.55,527.46 86.25,526.13 86.95,526 87.65,526.94 88.35,529.13 89.05,529.63 89.75,529.91 90.45,530.36 91.15,530.48 91.85,531.06 92.55,530.52 93.25,529.94 93.95,529.33 94.65,529.67 95.35,529.5 96.05,530.37 96.75,530.21 97.45,530.67 98.15,531.09 98.85,531.7 99.55,531.59 100.25,530.65 100.95,531.09 101.65,530.36 102.35,530.88 103.05,531.36 103.75,531.43 104.45,531.66 105.15,531.17 105.85,532.46 106.55,532.09 107.25,531.97 107.95,531.79 108.65,532.14 109.35,531.64 110.05,532.17 110.75,531.37 111.45,530.97 112.15,530.66 112.85,530.72 113.55,529.21 114.25,528.98 114.95,529.91 115.65,530.76" fill="none" stroke="#1e4468" stroke-width="0.9" stroke-linejoin="round"/>
<polyline points="136.46,532.15 137.16,532.62 137.86,532.92 138.56,533.04 139.26,533.42 139.96,533.54 140.66,533.81 141.36,533.68 142.06,533.57 142.76,533.73 143.46,534.31 144.16,533.48 144.86,533.84 145.56,533.92 146.26,534.03 146.96,533.71 147.66,533.99 148.36,533.9 149.06,533.3 149.76,532.71 150.46,533.27 151.16,533.06 151.86,532.47 152.56,532.67 153.26,532.61 153.96,532.52 154.66,531.56 155.36,531.38 156.06,531.88 156.76,531.18 157.46,531.06 158.16,530.7 158.86,531.37 159.56,530.67 160.26,530.48 160.96,530.9 161.66,530.31 162.36,531.09 163.06,530.31 163.76,531.29 164.46,530.37 165.16,530.38 165.86,530.73 166.56,531.06 167.26,530.76 167.96,531 168.66,530.49 169.36,531.17 170.06,530.45 170.76,530.67 171.46,531.11 172.16,530.65 172.86,530.24 173.56,530.94 174.26,530.21 174.96,530.53 175.66,530.42 176.36,530.54 177.06,530.12 177.76,530.95 178.46,530.79 179.16,530.54 179.86,530.3 180.56,530.43 181.26,530.32 181.96,530.52 182.66,530.65 183.36,530.97 184.06,530.28 184.76,531.24 185.46,531.35 186.16,531.14 186.86,531.34 187.56,531.02 188.26,531.35 188.96,531.35 189.66,531.61 190.36,532.25 191.06,531.6 191.76,532.08 192.46,532.1 193.16,531.63 193.86,531.85 194.56,531.69 195.26,531.71 195.96,531.68 196.66,531.74 197.36,531.2 198.06,532.12 198.76,531.26 199.46,531.18 200.16,531.36 200.86,532.07 201.56,532.32 202.26,532.4 202.96,531.53 203.66,531.87 204.36,532.35 205.06,531.71 205.76,532.11 206.46,532.35 207.16,532.1" fill="none" stroke="#b71c3e" stroke-width="1.25" stroke-linejoin="round"/>
<polyline points="136.46,531.24 137.16,530.62 137.86,529.92 138.56,529.75 139.26,529.82 139.96,530.52 140.66,530.77 141.36,530.19 142.06,530.48 142.76,530.68 143.46,531.32 144.16,530.7 144.86,530.53 145.56,530.78 146.26,530.13 146.96,530.79 147.66,530.29 148.36,531.19 149.06,530.69 149.76,530.61 150.46,528.52 151.16,526.92 151.86,526.55 152.56,526.16 153.26,524.79 153.96,525.84 154.66,525.59 155.36,525.67 156.06,525.2 156.76,525.43 157.46,525.4 158.16,524.9 158.86,524.49 159.56,525.28 160.26,525.51 160.96,524.29 161.66,524.94 162.36,524.56 163.06,524.32 163.76,524.59 164.46,524.53 165.16,524.88 165.86,524.54 166.56,524.7 167.26,525.03 167.96,524.63 168.66,525.64 169.36,524.44 170.06,525.34 170.76,524.3 171.46,524.22 172.16,525.2 172.86,524.64 173.56,524.04 174.26,524.4 174.96,523.72 175.66,524.08 176.36,523.39 177.06,523.39 177.76,523.22 178.46,523.99 179.16,523.66 179.86,524.3 180.56,524.28 181.26,524.79 181.96,524.27 182.66,525.04 183.36,524.32 184.06,525.47 184.76,524.6 185.46,525.23 186.16,524.94 186.86,526.04 187.56,525.5 188.26,525.56 188.96,526.98 189.66,527.84 190.36,528.29 191.06,528.42 191.76,528.35 192.46,528.51 193.16,527.55 193.86,527.02 194.56,527.91 195.26,527.31 195.96,527.09 196.66,527.1 197.36,526.05 198.06,526.48 198.76,526.09 199.46,526.55 200.16,526.3 200.86,526.36 201.56,526.95 202.26,526.92 202.96,526.74 203.66,527.06 204.36,526.41 205.06,526.81 205.76,526.63 206.46,526.83 207.16,527.15" fill="none" stroke="#1e4468" stroke-width="1.25" stroke-linejoin="round"/>
<polyline points="42.68,598.84 43.38,598.79 44.08,598.9 44.78,598.71 45.48,599.21 46.18,598.46 46.88,598.77 47.58,599.08 48.28,598.88 48.98,599.17 49.68,598.46 50.38,598.5 51.08,598.4 51.78,598.18 52.48,598.08 53.18,598.53 53.88,598.41 54.58,598.91 55.28,599.52 55.98,599.74 56.68,599.69 57.38,599.38 58.08,599.63 58.78,600.09 59.48,599.01 60.18,599.31 60.88,598.32 61.58,598.2 62.28,598.2 62.98,598.59 63.68,598.3 64.38,598.37 65.08,597.78 65.78,597.73 66.48,598.26 67.18,597.97 67.88,598.19 68.58,597.57 69.28,597.6 69.98,598.08 70.68,598.01 71.38,598.04 72.08,598.71 72.78,598.9 73.48,598.2 74.18,598.1 74.88,598.23 75.58,598.26 76.28,598.89 76.98,598.55 77.68,599.24 78.38,598.22 79.08,598.82 79.78,598.42 80.48,599.21 81.18,598.66 81.88,598.47 82.58,598.81 83.28,599.09 83.98,598.11 84.68,598.32 85.38,599.02 86.08,598.45 86.78,598.06 87.48,599.01 88.18,599.06 88.88,598.53 89.58,598.31 90.28,598.16 90.98,598.98 91.68,599.04 92.38,599.04 93.08,599.03 93.78,598.66 94.48,598.56 95.18,598.84 95.88,599.04 96.58,598.65 97.28,598.67 97.98,598.49 98.68,598.94 99.38,599.05 100.08,598.26 100.78,599.09 101.48,599.04 102.18,598.69 102.88,598.63 103.58,599.21 104.28,599.16 104.98,599.32 105.68,599.87 106.38,599.96 107.08,599.7 107.78,599.35 108.48,598.83 109.18,598.59 109.88,599.27 110.58,598.51 111.28,598.83 111.98,598.29 112.68,598.14 113.38,598.61 114.08,598 114.78,597.84 115.48,598.81 116.18,598.11 116.88,598.02" fill="none" stroke="#b71c3e" stroke-width="1.2" stroke-linejoin="round"/>
<polyline points="42.68,597.71 43.38,598.04 44.08,597.94 44.78,598.43 45.48,598.11 46.18,597.96 46.88,597.72 47.58,596.97 48.28,597.88 48.98,597.19 49.68,597.31 50.38,596.61 51.08,596.81 51.78,597.44 52.48,596.43 53.18,596.31 53.88,596.51 54.58,596.4 55.28,596.44 55.98,596.29 56.68,595.76 57.38,595.38 58.08,595.71 58.78,595.5 59.48,595.66 60.18,595.54 60.88,595.53 61.58,594.97 62.28,594.68 62.98,594.81 63.68,595.09 64.38,594.99 65.08,594.37 65.78,594.93 66.48,596.01 67.18,596.16 67.88,595.4 68.58,595.39 69.28,595.23 69.98,595.49 70.68,595.52 71.38,596.81 72.08,596.87 72.78,596.18 73.48,595.88 74.18,597.11 74.88,596.8 75.58,597.23 76.28,596.52 76.98,597.32 77.68,597.31 78.38,597.21 79.08,597.28 79.78,597.39 80.48,597.1 81.18,597.7 81.88,596.56 82.58,596.92 83.28,596.84 83.98,596.95 84.68,597.38 85.38,596.35 86.08,596.76 86.78,596.76 87.48,596.73 88.18,597.11 88.88,597.29 89.58,597.27 90.28,597.18 90.98,597.07 91.68,597.95 92.38,597.79 93.08,597.67 93.78,596.93 94.48,597.26 95.18,597.59 95.88,596.86 96.58,597.1 97.28,597.04 97.98,596.59 98.68,597.43 99.38,597.42 100.08,596.56 100.78,596.47 101.48,596.7 102.18,597.4 102.88,596.86 103.58,597.65 104.28,597.97 104.98,597.01 105.68,597.9 106.38,598.01 107.08,597.97 107.78,597.92 108.48,597.35 109.18,597.06 109.88,597.98 110.58,596.94 111.28,597.79 111.98,597.55 112.68,596.97 113.38,597.05 114.08,596.75 114.78,596.63 115.48,597.33 116.18,596.33 116.88,596.45" fill="none" stroke="#1e4468" stroke-width="1.25" stroke-linejoin="round"/>
<polyline points="137.69,599.17 142.04,600.51 147.06,600.85 153.75,600.18 167.13,600.18 180.52,600.51 193.9,600.85 207.28,600.85" fill="none" stroke="#b71c3e" stroke-width="1" stroke-linejoin="round"/>
<polyline points="137.69,599.51 143.71,600.18 150.4,599.51 160.44,599.84 167.8,599.84 168.14,595.49 168.47,599.84 180.52,600.18 193.9,600.51 207.28,600.51" fill="none" stroke="#1e4468" stroke-width="1.05" stroke-linejoin="round"/>
<polyline points="45.65,650.74 46.35,650.84 47.05,651.4 47.75,650.82 48.45,650.94 49.15,649.42 49.85,648.34 50.55,648.5 51.25,649.36 51.95,649.19 52.65,650.77 53.35,651.91 54.05,652.26 54.75,651.62 55.45,649.63 56.15,649.05 56.85,648.72 57.55,647.62 58.25,648.26 58.95,647.32 59.65,647.61 60.35,648.39 61.05,649.72 61.75,651.22 62.45,651.59 63.15,651.45 63.85,650.46 64.55,649.5 65.25,648.26 65.95,646.98 66.65,646.17 67.35,645.52 68.05,644.81 68.75,644.92 69.45,644.5 70.15,643.48 70.85,643.18 71.55,642.69 72.25,644.59 72.95,644.57 73.65,645.87 74.35,645.04 75.05,643.48 75.75,642.72 76.45,640.59 77.15,639.23 77.85,641.07 78.55,642.37 79.25,644.32 79.95,644.53 80.65,643.42 81.35,642.44 82.05,642.01 82.75,642.95 83.45,643.75 84.15,645.53 84.85,645.04 85.55,643.78 86.25,642.07 86.95,640.98 87.65,643.22 88.35,645.85 89.05,647.69 89.75,648.22 90.45,647.03 91.15,646.05 91.85,644.62 92.55,645.89 93.25,646.74 93.95,647.66 94.65,648.33 95.35,647.7 96.05,647.83 96.75,646.93 97.45,645.24 98.15,645.19 98.85,644.14 99.55,642.8 100.25,642.79 100.95,642.34 101.65,642.89 102.35,643.06 103.05,644.36 103.75,645.09 104.45,645.56 105.15,646.87 105.85,647.64 106.55,649.19 107.25,649.27 107.95,650.18 108.65,647.5 109.35,644.8 110.05,641.32 110.75,642.06 111.45,642.7 112.15,643.63 112.85,644.38 113.55,644.92 114.25,644.62 114.95,645.66 115.65,646.97 116.35,648.93 117.05,651.18" fill="none" stroke="#b71c3e" stroke-width="1.4" stroke-linejoin="round"/>
<polyline points="45.65,647.88 46.35,648.27 47.05,648.5 47.75,648.76 48.45,648.16 49.15,646.59 49.85,644.68 50.55,643.78 51.25,642.47 51.95,643.89 52.65,646.05 53.35,646.03 54.05,644.17 54.75,642.83 55.45,640.77 56.15,640.02 56.85,638.14 57.55,636.5 58.25,634.67 58.95,633.96 59.65,632.83 60.35,631.81 61.05,633.72 61.75,635.72 62.45,637.39 63.15,636.89 63.85,635.8 64.55,634.79 65.25,632.98 65.95,630.55 66.65,629.24 67.35,627.48 68.05,627.04 68.75,627.81 69.45,629.4 70.15,630.29 70.85,629.41 71.55,628.9 72.25,627.82 72.95,626.8 73.65,627.04 74.35,626.17 75.05,626.24 75.75,627.72 76.45,628.32 77.15,628.99 77.85,627.26 78.55,625.16 79.25,625.98 79.95,629.13 80.65,629.88 81.35,626.96 82.05,623.03 82.75,619.49 83.45,623.41 84.15,626.65 84.85,627 85.55,624.75 86.25,622.67 86.95,621.32 87.65,622.52 88.35,624.17 89.05,625.79 89.75,628.11 90.45,630.21 91.15,631.78 91.85,632.72 92.55,631.79 93.25,628.99 93.95,630.2 94.65,632.27 95.35,633.58 96.05,635.88 96.75,638 97.45,639.85 98.15,637.36 98.85,634.87 99.55,632.23 100.25,630.37 100.95,629.58 101.65,628.79 102.35,627.56 103.05,629.51 103.75,630.78 104.45,632.6 105.15,633.7 105.85,636.28 106.55,637.47 107.25,638.76 107.95,637.92 108.65,636.73 109.35,636.24 110.05,634.71 110.75,633.17 111.45,632.82 112.15,635.49 112.85,637.23 113.55,639.43 114.25,639.1 114.95,639.75 115.65,639.11 116.35,637.57 117.05,635.67" fill="none" stroke="#1e4468" stroke-width="1.4" stroke-linejoin="round"/>
<polyline points="136.14,658.47 142.92,659.11 149.39,659.76 151.81,659.27 155.85,658.47 170.39,658.47 184.93,658.47 188.16,658.47 190.1,659.43 193,659.11 201.08,658.79 207.54,658.79" fill="none" stroke="#b71c3e" stroke-width="1.1" stroke-linejoin="round"/>
<polyline points="136.14,658.14 142.92,658.47 149.39,658.79 151.81,657.66 155.85,657.82 170.39,657.82 184.93,657.82 188.16,657.98 190.1,658.95 193,658.47 201.08,658.14 207.54,658.14" fill="none" stroke="#1e4468" stroke-width="1.1" stroke-linejoin="round"/>
<text x="223.4" y="424.8" font-size="11.3" fill="#111" font-weight="bold">E</text>
<text x="399.1" y="422.2" font-size="8.9" fill="#2a2a2a" stroke="#2a2a2a" stroke-width="0.18" text-anchor="middle" textLength="21" lengthAdjust="spacingAndGlyphs">chr16</text>
<line x1="285.3" y1="436.8" x2="512.5" y2="436.8" stroke="#222" stroke-width="1.2"/>
<path d="M285.3,436.5 L286.1,435.0 L286.9,436.5 Z" fill="#222"/>
<path d="M287.83,436.5 L288.63,435.0 L289.43,436.5 Z" fill="#222"/>
<path d="M290.36,436.5 L291.16,435.0 L291.96,436.5 Z" fill="#222"/>
<path d="M292.89,436.5 L293.69,435.0 L294.49,436.5 Z" fill="#222"/>
<path d="M295.42,436.5 L296.22,435.0 L297.02,436.5 Z" fill="#222"/>
<path d="M297.95,436.5 L298.75,435.0 L299.55,436.5 Z" fill="#222"/>
<path d="M300.48,436.5 L301.28,435.0 L302.08,436.5 Z" fill="#222"/>
<path d="M303.01,436.5 L303.81,435.0 L304.61,436.5 Z" fill="#222"/>
<path d="M305.54,436.5 L306.34,435.0 L307.14,436.5 Z" fill="#222"/>
<path d="M308.07,436.5 L308.87,435.0 L309.67,436.5 Z" fill="#222"/>
<path d="M310.6,436.5 L311.4,435.0 L312.2,436.5 Z" fill="#222"/>
<path d="M313.13,436.5 L313.93,435.0 L314.73,436.5 Z" fill="#222"/>
<path d="M315.66,436.5 L316.46,435.0 L317.26,436.5 Z" fill="#222"/>
<path d="M318.19,436.5 L318.99,435.0 L319.79,436.5 Z" fill="#222"/>
<path d="M320.72,436.5 L321.52,435.0 L322.32,436.5 Z" fill="#222"/>
<path d="M323.25,436.5 L324.05,435.0 L324.85,436.5 Z" fill="#222"/>
<path d="M325.78,436.5 L326.58,435.0 L327.38,436.5 Z" fill="#222"/>
<path d="M328.31,436.5 L329.11,435.0 L329.91,436.5 Z" fill="#222"/>
<path d="M330.84,436.5 L331.64,435.0 L332.44,436.5 Z" fill="#222"/>
<path d="M333.37,436.5 L334.17,435.0 L334.97,436.5 Z" fill="#222"/>
<path d="M335.9,436.5 L336.7,435.0 L337.5,436.5 Z" fill="#222"/>
<path d="M338.43,436.5 L339.23,435.0 L340.03,436.5 Z" fill="#222"/>
<path d="M340.96,436.5 L341.76,435.0 L342.56,436.5 Z" fill="#222"/>
<path d="M343.49,436.5 L344.29,435.0 L345.09,436.5 Z" fill="#222"/>
<path d="M346.02,436.5 L346.82,435.0 L347.62,436.5 Z" fill="#222"/>
<path d="M348.55,436.5 L349.35,435.0 L350.15,436.5 Z" fill="#222"/>
<path d="M351.08,436.5 L351.88,435.0 L352.68,436.5 Z" fill="#222"/>
<path d="M353.61,436.5 L354.41,435.0 L355.21,436.5 Z" fill="#222"/>
<path d="M356.14,436.5 L356.94,435.0 L357.74,436.5 Z" fill="#222"/>
<path d="M358.67,436.5 L359.47,435.0 L360.27,436.5 Z" fill="#222"/>
<path d="M361.2,436.5 L362,435.0 L362.8,436.5 Z" fill="#222"/>
<path d="M363.73,436.5 L364.53,435.0 L365.33,436.5 Z" fill="#222"/>
<path d="M366.26,436.5 L367.06,435.0 L367.86,436.5 Z" fill="#222"/>
<path d="M368.79,436.5 L369.59,435.0 L370.39,436.5 Z" fill="#222"/>
<path d="M371.32,436.5 L372.12,435.0 L372.92,436.5 Z" fill="#222"/>
<path d="M373.85,436.5 L374.65,435.0 L375.45,436.5 Z" fill="#222"/>
<path d="M376.38,436.5 L377.18,435.0 L377.98,436.5 Z" fill="#222"/>
<path d="M378.91,436.5 L379.71,435.0 L380.51,436.5 Z" fill="#222"/>
<path d="M381.44,436.5 L382.24,435.0 L383.04,436.5 Z" fill="#222"/>
<path d="M383.97,436.5 L384.77,435.0 L385.57,436.5 Z" fill="#222"/>
<path d="M386.5,436.5 L387.3,435.0 L388.1,436.5 Z" fill="#222"/>
<path d="M389.03,436.5 L389.83,435.0 L390.63,436.5 Z" fill="#222"/>
<path d="M391.56,436.5 L392.36,435.0 L393.16,436.5 Z" fill="#222"/>
<path d="M394.09,436.5 L394.89,435.0 L395.69,436.5 Z" fill="#222"/>
<path d="M396.62,436.5 L397.42,435.0 L398.22,436.5 Z" fill="#222"/>
<path d="M399.15,436.5 L399.95,435.0 L400.75,436.5 Z" fill="#222"/>
<path d="M401.68,436.5 L402.48,435.0 L403.28,436.5 Z" fill="#222"/>
<path d="M404.21,436.5 L405.01,435.0 L405.81,436.5 Z" fill="#222"/>
<path d="M406.74,436.5 L407.54,435.0 L408.34,436.5 Z" fill="#222"/>
<path d="M409.27,436.5 L410.07,435.0 L410.87,436.5 Z" fill="#222"/>
<path d="M411.8,436.5 L412.6,435.0 L413.4,436.5 Z" fill="#222"/>
<path d="M414.33,436.5 L415.13,435.0 L415.93,436.5 Z" fill="#222"/>
<path d="M416.86,436.5 L417.66,435.0 L418.46,436.5 Z" fill="#222"/>
<path d="M419.39,436.5 L420.19,435.0 L420.99,436.5 Z" fill="#222"/>
<path d="M421.92,436.5 L422.72,435.0 L423.52,436.5 Z" fill="#222"/>
<path d="M424.45,436.5 L425.25,435.0 L426.05,436.5 Z" fill="#222"/>
<path d="M426.98,436.5 L427.78,435.0 L428.58,436.5 Z" fill="#222"/>
<path d="M429.51,436.5 L430.31,435.0 L431.11,436.5 Z" fill="#222"/>
<path d="M432.04,436.5 L432.84,435.0 L433.64,436.5 Z" fill="#222"/>
<path d="M434.57,436.5 L435.37,435.0 L436.17,436.5 Z" fill="#222"/>
<path d="M437.1,436.5 L437.9,435.0 L438.7,436.5 Z" fill="#222"/>
<path d="M439.63,436.5 L440.43,435.0 L441.23,436.5 Z" fill="#222"/>
<path d="M442.16,436.5 L442.96,435.0 L443.76,436.5 Z" fill="#222"/>
<path d="M444.69,436.5 L445.49,435.0 L446.29,436.5 Z" fill="#222"/>
<path d="M447.22,436.5 L448.02,435.0 L448.82,436.5 Z" fill="#222"/>
<path d="M449.75,436.5 L450.55,435.0 L451.35,436.5 Z" fill="#222"/>
<path d="M452.28,436.5 L453.08,435.0 L453.88,436.5 Z" fill="#222"/>
<path d="M454.81,436.5 L455.61,435.0 L456.41,436.5 Z" fill="#222"/>
<path d="M457.34,436.5 L458.14,435.0 L458.94,436.5 Z" fill="#222"/>
<path d="M459.87,436.5 L460.67,435.0 L461.47,436.5 Z" fill="#222"/>
<path d="M462.4,436.5 L463.2,435.0 L464,436.5 Z" fill="#222"/>
<path d="M464.93,436.5 L465.73,435.0 L466.53,436.5 Z" fill="#222"/>
<path d="M467.46,436.5 L468.26,435.0 L469.06,436.5 Z" fill="#222"/>
<path d="M469.99,436.5 L470.79,435.0 L471.59,436.5 Z" fill="#222"/>
<path d="M472.52,436.5 L473.32,435.0 L474.12,436.5 Z" fill="#222"/>
<path d="M475.05,436.5 L475.85,435.0 L476.65,436.5 Z" fill="#222"/>
<path d="M477.58,436.5 L478.38,435.0 L479.18,436.5 Z" fill="#222"/>
<path d="M480.11,436.5 L480.91,435.0 L481.71,436.5 Z" fill="#222"/>
<path d="M482.64,436.5 L483.44,435.0 L484.24,436.5 Z" fill="#222"/>
<path d="M485.17,436.5 L485.97,435.0 L486.77,436.5 Z" fill="#222"/>
<path d="M487.7,436.5 L488.5,435.0 L489.3,436.5 Z" fill="#222"/>
<path d="M490.23,436.5 L491.03,435.0 L491.83,436.5 Z" fill="#222"/>
<path d="M492.76,436.5 L493.56,435.0 L494.36,436.5 Z" fill="#222"/>
<path d="M495.29,436.5 L496.09,435.0 L496.89,436.5 Z" fill="#222"/>
<path d="M497.82,436.5 L498.62,435.0 L499.42,436.5 Z" fill="#222"/>
<path d="M500.35,436.5 L501.15,435.0 L501.95,436.5 Z" fill="#222"/>
<path d="M502.88,436.5 L503.68,435.0 L504.48,436.5 Z" fill="#222"/>
<path d="M505.41,436.5 L506.21,435.0 L507.01,436.5 Z" fill="#222"/>
<path d="M507.94,436.5 L508.74,435.0 L509.54,436.5 Z" fill="#222"/>
<path d="M510.47,436.5 L511.27,435.0 L512.07,436.5 Z" fill="#222"/>
<line x1="298.3" y1="436.7" x2="298.3" y2="434.2" stroke="#222" stroke-width="0.8"/>
<text x="298.3" y="430.7" font-size="4.5" fill="#3a3a3a" stroke="#3a3a3a" stroke-width="0.15" text-anchor="middle" textLength="19.2" lengthAdjust="spacingAndGlyphs">10863000</text>
<line x1="318.4" y1="436.7" x2="318.4" y2="434.2" stroke="#222" stroke-width="0.8"/>
<text x="318.4" y="430.7" font-size="4.5" fill="#3a3a3a" stroke="#3a3a3a" stroke-width="0.15" text-anchor="middle" textLength="19.2" lengthAdjust="spacingAndGlyphs">10869000</text>
<line x1="338.5" y1="436.7" x2="338.5" y2="434.2" stroke="#222" stroke-width="0.8"/>
<text x="338.5" y="430.7" font-size="4.5" fill="#3a3a3a" stroke="#3a3a3a" stroke-width="0.15" text-anchor="middle" textLength="19.2" lengthAdjust="spacingAndGlyphs">10875000</text>
<line x1="358.6" y1="436.7" x2="358.6" y2="434.2" stroke="#222" stroke-width="0.8"/>
<text x="358.6" y="430.7" font-size="4.5" fill="#3a3a3a" stroke="#3a3a3a" stroke-width="0.15" text-anchor="middle" textLength="19.2" lengthAdjust="spacingAndGlyphs">10881000</text>
<line x1="378.7" y1="436.7" x2="378.7" y2="434.2" stroke="#222" stroke-width="0.8"/>
<text x="378.7" y="430.7" font-size="4.5" fill="#3a3a3a" stroke="#3a3a3a" stroke-width="0.15" text-anchor="middle" textLength="19.2" lengthAdjust="spacingAndGlyphs">10887000</text>
<line x1="398.8" y1="436.7" x2="398.8" y2="434.2" stroke="#222" stroke-width="0.8"/>
<text x="398.8" y="430.7" font-size="4.5" fill="#3a3a3a" stroke="#3a3a3a" stroke-width="0.15" text-anchor="middle" textLength="19.2" lengthAdjust="spacingAndGlyphs">10893000</text>
<line x1="418.9" y1="436.7" x2="418.9" y2="434.2" stroke="#222" stroke-width="0.8"/>
<text x="418.9" y="430.7" font-size="4.5" fill="#3a3a3a" stroke="#3a3a3a" stroke-width="0.15" text-anchor="middle" textLength="19.2" lengthAdjust="spacingAndGlyphs">10899000</text>
<line x1="439" y1="436.7" x2="439" y2="434.2" stroke="#222" stroke-width="0.8"/>
<text x="439" y="430.7" font-size="4.5" fill="#3a3a3a" stroke="#3a3a3a" stroke-width="0.15" text-anchor="middle" textLength="19.2" lengthAdjust="spacingAndGlyphs">10905000</text>
<line x1="459.1" y1="436.7" x2="459.1" y2="434.2" stroke="#222" stroke-width="0.8"/>
<text x="459.1" y="430.7" font-size="4.5" fill="#3a3a3a" stroke="#3a3a3a" stroke-width="0.15" text-anchor="middle" textLength="19.2" lengthAdjust="spacingAndGlyphs">10911000</text>
<line x1="479.2" y1="436.7" x2="479.2" y2="434.2" stroke="#222" stroke-width="0.8"/>
<text x="479.2" y="430.7" font-size="4.5" fill="#3a3a3a" stroke="#3a3a3a" stroke-width="0.15" text-anchor="middle" textLength="19.2" lengthAdjust="spacingAndGlyphs">10917000</text>
<line x1="499.3" y1="436.7" x2="499.3" y2="434.2" stroke="#222" stroke-width="0.8"/>
<text x="499.3" y="430.7" font-size="4.5" fill="#3a3a3a" stroke="#3a3a3a" stroke-width="0.15" text-anchor="middle" textLength="19.2" lengthAdjust="spacingAndGlyphs">10923000</text>
<path d="M282.4,438.6 H285.4 V451.2 H282.4" fill="none" stroke="#333" stroke-width="1.1"/>
<text x="279.2" y="440.3" font-size="4.6" fill="#666" text-anchor="end">1.2</text>
<text x="279.2" y="452.9" font-size="4.6" fill="#666" text-anchor="end">0</text>
<path d="M282.4,456 H285.4 V468.3 H282.4" fill="none" stroke="#333" stroke-width="1.1"/>
<text x="279.2" y="457.7" font-size="4.6" fill="#666" text-anchor="end">1.2</text>
<text x="279.2" y="470" font-size="4.6" fill="#666" text-anchor="end">0</text>
<path d="M282.4,472.7 H285.4 V485.3 H282.4" fill="none" stroke="#333" stroke-width="1.1"/>
<text x="279.2" y="474.4" font-size="4.6" fill="#666" text-anchor="end">1</text>
<text x="279.2" y="487" font-size="4.6" fill="#666" text-anchor="end">0</text>
<path d="M282.4,489.8 H285.4 V502.3 H282.4" fill="none" stroke="#333" stroke-width="1.1"/>
<text x="279.2" y="491.5" font-size="4.6" fill="#666" text-anchor="end">1</text>
<text x="279.2" y="504" font-size="4.6" fill="#666" text-anchor="end">0</text>
<path d="M282.4,507.8 H285.4 V520.9 H282.4" fill="none" stroke="#333" stroke-width="1.1"/>
<text x="279.2" y="509.5" font-size="4.6" fill="#666" text-anchor="end">2</text>
<text x="279.2" y="522.6" font-size="4.6" fill="#666" text-anchor="end">0</text>
<path d="M282.4,529.3 H285.4 V542.8 H282.4" fill="none" stroke="#333" stroke-width="1.1"/>
<text x="279.2" y="531" font-size="4.6" fill="#666" text-anchor="end">2</text>
<text x="279.2" y="544.5" font-size="4.6" fill="#666" text-anchor="end">0</text>
<path d="M282.4,547.6 H285.4 V560.5 H282.4" fill="none" stroke="#333" stroke-width="1.1"/>
<text x="279.2" y="549.3" font-size="4.6" fill="#666" text-anchor="end">2</text>
<text x="279.2" y="562.2" font-size="4.6" fill="#666" text-anchor="end">0</text>
<path d="M282.4,565.3 H285.4 V578.5 H282.4" fill="none" stroke="#333" stroke-width="1.1"/>
<text x="279.2" y="567" font-size="4.6" fill="#666" text-anchor="end" textLength="6.9" lengthAdjust="spacingAndGlyphs">200</text>
<text x="279.2" y="580.2" font-size="4.6" fill="#666" text-anchor="end">0</text>
<path d="M282.4,583.3 H285.4 V596.9 H282.4" fill="none" stroke="#333" stroke-width="1.1"/>
<text x="279.2" y="585" font-size="4.6" fill="#666" text-anchor="end" textLength="6.9" lengthAdjust="spacingAndGlyphs">200</text>
<text x="279.2" y="598.6" font-size="4.6" fill="#666" text-anchor="end">0</text>
<path d="M282.4,602 H285.4 V614.5 H282.4" fill="none" stroke="#333" stroke-width="1.1"/>
<text x="279.2" y="603.7" font-size="4.6" fill="#666" text-anchor="end" textLength="11" lengthAdjust="spacingAndGlyphs">14500</text>
<text x="279.2" y="616.2" font-size="4.6" fill="#666" text-anchor="end">0</text>
<path d="M282.4,619.6 H285.4 V631.9 H282.4" fill="none" stroke="#333" stroke-width="1.1"/>
<text x="279.2" y="621.3" font-size="4.6" fill="#666" text-anchor="end" textLength="11" lengthAdjust="spacingAndGlyphs">14500</text>
<text x="279.2" y="633.6" font-size="4.6" fill="#666" text-anchor="end">0</text>
<path d="M282.4,637.6 H285.4 V651.8 H282.4" fill="none" stroke="#333" stroke-width="1.1"/>
<text x="279.2" y="639.3" font-size="4.6" fill="#666" text-anchor="end">0.3</text>
<text x="279.2" y="653.5" font-size="4.6" fill="#666" text-anchor="end">0</text>
<path d="M282.4,657 H285.4 V671.3 H282.4" fill="none" stroke="#333" stroke-width="1.1"/>
<text x="279.2" y="658.7" font-size="4.6" fill="#666" text-anchor="end">0.3</text>
<text x="279.2" y="673" font-size="4.6" fill="#666" text-anchor="end">0</text>
<path d="M302.6,451.2 L303.1,451.08 L303.6,450.95 L304.1,450.78 L304.6,450.64 L305.1,450.6 L305.6,450.69 L306.1,450.85 L306.6,451.01 L307.1,451.12 L307.6,451.2 Z" fill="#3a1f4c" stroke="none" stroke-width="1"/>
<path d="M311.6,451.2 L312.1,451.1 L312.6,450.99 L313.1,450.85 L313.6,450.73 L314.1,450.7 L314.6,450.77 L315.1,450.91 L315.6,451.04 L316.1,451.2 Z" fill="#3a1f4c" stroke="none" stroke-width="1"/>
<path d="M323.6,451.2 L324.1,450.94 L324.6,450.51 L325.1,449.84 L325.6,449.2 L326.1,449.01 L326.6,449.42 L327.1,450.12 L327.6,450.72 L328.1,451.04 L328.6,451.2 Z" fill="#3a1f4c" stroke="none" stroke-width="1"/>
<path d="M336.1,451.2 L336.6,451.1 L337.1,450.87 L337.6,450.43 L338.1,449.85 L338.6,449.44 L339.1,449.49 L339.6,449.97 L340.1,450.54 L340.6,450.94 L341.1,451.2 Z" fill="#3a1f4c" stroke="none" stroke-width="1"/>
<path d="M343.1,451.2 L343.6,450.85 L344.1,450.13 L344.6,449.05 L345.1,448.32 L345.6,448.66 L346.1,449.72 L346.6,450.63 L347.1,451.05 L347.6,451.2 Z" fill="#3a1f4c" stroke="none" stroke-width="1"/>
<path d="M349.1,451.2 L349.6,450.96 L350.1,450.44 L350.6,449.87 L351.1,449.95 L351.6,450.56 L352.1,451.03 L352.6,451.2 Z" fill="#3a1f4c" stroke="none" stroke-width="1"/>
<path d="M358.6,451.2 L359.1,450.76 L359.6,449.11 L360.1,445.24 L360.6,440.87 L361.1,440.34 L361.6,444.28 L362.1,448.52 L362.6,450.57 L363.1,451.11 L363.6,451.2 Z" fill="#3a1f4c" stroke="none" stroke-width="1"/>
<path d="M373.1,451.2 L373.6,451.05 L374.1,450.86 L374.6,450.66 L375.1,450.6 L375.6,450.73 L376.1,450.94 L376.6,451.1 L377.1,451.2 Z" fill="#3a1f4c" stroke="none" stroke-width="1"/>
<path d="M377.6,451.2 L378.1,451.08 L378.6,450.95 L379.1,450.78 L379.6,450.64 L380.1,450.6 L380.6,450.69 L381.1,450.85 L381.6,451.01 L382.1,451.12 L382.6,451.2 Z" fill="#3a1f4c" stroke="none" stroke-width="1"/>
<path d="M388.1,451.2 L388.6,451.09 L389.1,450.84 L389.6,450.52 L390.1,450.41 L390.6,450.64 L391.1,450.96 L391.6,451.2 Z" fill="#3a1f4c" stroke="none" stroke-width="1"/>
<path d="M398.1,451.2 L398.6,451.07 L399.1,450.8 L399.6,450.43 L400.1,450.31 L400.6,450.57 L401.1,450.93 L401.6,451.2 Z" fill="#3a1f4c" stroke="none" stroke-width="1"/>
<path d="M402.1,451.2 L402.6,451.09 L403.1,450.84 L403.6,450.52 L404.1,450.41 L404.6,450.64 L405.1,450.96 L405.6,451.2 Z" fill="#3a1f4c" stroke="none" stroke-width="1"/>
<path d="M424.6,451.2 L425.1,451.1 L425.6,450.99 L426.1,450.85 L426.6,450.73 L427.1,450.7 L427.6,450.77 L428.1,450.91 L428.6,451.04 L429.1,451.2 Z" fill="#3a1f4c" stroke="none" stroke-width="1"/>
<path d="M473.6,451.2 L474.1,451.1 L474.6,450.99 L475.1,450.85 L475.6,450.73 L476.1,450.7 L476.6,450.77 L477.1,450.91 L477.6,451.04 L478.1,451.2 Z" fill="#3a1f4c" stroke="none" stroke-width="1"/>
<path d="M489.6,451.2 L490.1,451.12 L490.6,451.03 L491.1,450.92 L491.6,450.83 L492.1,450.8 L492.6,450.86 L493.1,450.97 L493.6,451.07 L494.1,451.2 Z" fill="#3a1f4c" stroke="none" stroke-width="1"/>
<line x1="286.3" y1="450.9" x2="511.8" y2="450.9" stroke="#9a92a0" stroke-width="0.6"/>
<rect x="286.3" y="450.6" width="0.96" height="0.6" fill="#3a1f4c" opacity="0.64"/>
<rect x="289.27" y="450.37" width="2.47" height="1.05" fill="#3a1f4c" opacity="0.73"/>
<rect x="293.96" y="450.43" width="2.26" height="0.94" fill="#3a1f4c" opacity="0.74"/>
<rect x="299.99" y="450.52" width="1.52" height="0.76" fill="#3a1f4c" opacity="0.59"/>
<rect x="303.52" y="450.43" width="2.4" height="0.95" fill="#3a1f4c" opacity="0.54"/>
<rect x="307.7" y="450.37" width="1.78" height="1.06" fill="#3a1f4c" opacity="0.89"/>
<rect x="311.34" y="450.42" width="1.5" height="0.95" fill="#3a1f4c" opacity="0.77"/>
<rect x="315.13" y="450.48" width="2.92" height="0.85" fill="#3a1f4c" opacity="0.86"/>
<rect x="319.39" y="450.48" width="3.12" height="0.85" fill="#3a1f4c" opacity="0.92"/>
<rect x="324.9" y="450.42" width="2.01" height="0.95" fill="#3a1f4c" opacity="0.66"/>
<rect x="328.81" y="450.42" width="1.62" height="0.95" fill="#3a1f4c" opacity="0.89"/>
<rect x="331.91" y="450.44" width="2.22" height="0.91" fill="#3a1f4c" opacity="0.5"/>
<rect x="335.38" y="450.36" width="2.9" height="1.07" fill="#3a1f4c" opacity="0.98"/>
<rect x="338.85" y="450.6" width="2.55" height="0.6" fill="#3a1f4c" opacity="0.61"/>
<rect x="346" y="450.32" width="2.69" height="1.17" fill="#3a1f4c" opacity="0.99"/>
<rect x="349.52" y="450.5" width="2.76" height="0.8" fill="#3a1f4c" opacity="0.94"/>
<rect x="353.65" y="450.3" width="0.85" height="1.19" fill="#3a1f4c" opacity="0.93"/>
<rect x="356.92" y="450.39" width="1.62" height="1.01" fill="#3a1f4c" opacity="0.52"/>
<rect x="360.24" y="450.37" width="1.17" height="1.05" fill="#3a1f4c" opacity="0.62"/>
<rect x="370.03" y="450.42" width="2.98" height="0.96" fill="#3a1f4c" opacity="0.77"/>
<rect x="374.29" y="450.41" width="1.2" height="0.98" fill="#3a1f4c" opacity="0.66"/>
<rect x="377.58" y="450.57" width="2.46" height="0.66" fill="#3a1f4c" opacity="0.92"/>
<rect x="381.61" y="450.44" width="1.12" height="0.93" fill="#3a1f4c" opacity="0.85"/>
<rect x="384.18" y="450.33" width="3.03" height="1.13" fill="#3a1f4c" opacity="0.85"/>
<rect x="388.47" y="450.39" width="1.05" height="1.02" fill="#3a1f4c" opacity="0.83"/>
<rect x="391.07" y="450.45" width="1" height="0.89" fill="#3a1f4c" opacity="0.55"/>
<rect x="393.16" y="450.43" width="0.86" height="0.93" fill="#3a1f4c" opacity="0.9"/>
<rect x="394.55" y="450.53" width="1.52" height="0.73" fill="#3a1f4c" opacity="0.7"/>
<rect x="396.57" y="450.34" width="1.25" height="1.11" fill="#3a1f4c" opacity="0.65"/>
<rect x="403.71" y="450.49" width="1.55" height="0.82" fill="#3a1f4c" opacity="0.65"/>
<rect x="408.75" y="450.58" width="0.95" height="0.64" fill="#3a1f4c" opacity="0.75"/>
<rect x="411.29" y="450.43" width="3.13" height="0.94" fill="#3a1f4c" opacity="0.9"/>
<rect x="415.41" y="450.57" width="1.89" height="0.67" fill="#3a1f4c" opacity="0.72"/>
<rect x="429.22" y="450.34" width="2.99" height="1.12" fill="#3a1f4c" opacity="0.85"/>
<rect x="437.94" y="450.42" width="1.48" height="0.96" fill="#3a1f4c" opacity="0.88"/>
<rect x="448" y="450.31" width="3.11" height="1.17" fill="#3a1f4c" opacity="0.86"/>
<rect x="451.88" y="450.42" width="1.2" height="0.97" fill="#3a1f4c" opacity="0.79"/>
<rect x="454.41" y="450.42" width="2.86" height="0.96" fill="#3a1f4c" opacity="0.85"/>
<rect x="459.44" y="450.46" width="1.18" height="0.88" fill="#3a1f4c" opacity="0.92"/>
<rect x="462.91" y="450.41" width="2.1" height="0.98" fill="#3a1f4c" opacity="0.92"/>
<rect x="467.01" y="450.46" width="1.22" height="0.88" fill="#3a1f4c" opacity="0.62"/>
<rect x="477.43" y="450.3" width="1.76" height="1.19" fill="#3a1f4c" opacity="0.71"/>
<rect x="484.3" y="450.59" width="1.5" height="0.63" fill="#3a1f4c" opacity="0.82"/>
<rect x="497.7" y="450.6" width="2.9" height="0.6" fill="#3a1f4c" opacity="0.62"/>
<rect x="503.1" y="450.58" width="1.61" height="0.64" fill="#3a1f4c" opacity="0.7"/>
<rect x="505.7" y="450.57" width="1.99" height="0.67" fill="#3a1f4c" opacity="0.51"/>
<rect x="510.06" y="450.51" width="1.74" height="0.78" fill="#3a1f4c" opacity="0.62"/>
<path d="M342.6,468.3 L343.1,468.14 L343.6,467.97 L344.1,467.74 L344.6,467.55 L345.1,467.5 L345.6,467.62 L346.1,467.83 L346.6,468.04 L347.1,468.17 L347.6,468.21 L348.1,468.15 L348.6,468 L349.1,467.81 L349.6,467.65 L350.1,467.6 L350.6,467.7 L351.1,467.89 L351.6,468.08 L352.1,468.2 L352.6,468.3 Z" fill="#3a1f4c" stroke="none" stroke-width="1"/>
<path d="M359.1,468.3 L359.6,468.22 L360.1,468.03 L360.6,467.79 L361.1,467.71 L361.6,467.88 L362.1,468.12 L362.6,468.3 Z" fill="#3a1f4c" stroke="none" stroke-width="1"/>
<line x1="286.3" y1="468" x2="511.8" y2="468" stroke="#9a92a0" stroke-width="0.6"/>
<rect x="296.36" y="467.55" width="2.07" height="0.9" fill="#3a1f4c" opacity="0.81"/>
<rect x="303.85" y="467.49" width="1.11" height="1.03" fill="#3a1f4c" opacity="0.85"/>
<rect x="305.53" y="467.56" width="1.4" height="0.88" fill="#3a1f4c" opacity="0.93"/>
<rect x="311.12" y="467.62" width="2.65" height="0.76" fill="#3a1f4c" opacity="0.59"/>
<rect x="316.1" y="467.63" width="1.1" height="0.73" fill="#3a1f4c" opacity="0.9"/>
<rect x="318.1" y="467.5" width="3.16" height="0.99" fill="#3a1f4c" opacity="0.6"/>
<rect x="326.2" y="467.64" width="1.64" height="0.72" fill="#3a1f4c" opacity="0.69"/>
<rect x="329.38" y="467.65" width="2.17" height="0.69" fill="#3a1f4c" opacity="0.78"/>
<rect x="341.78" y="467.44" width="3" height="1.12" fill="#3a1f4c" opacity="0.84"/>
<rect x="351.11" y="467.53" width="1.11" height="0.93" fill="#3a1f4c" opacity="0.57"/>
<rect x="352.83" y="467.51" width="0.84" height="0.99" fill="#3a1f4c" opacity="0.73"/>
<rect x="355.37" y="467.53" width="0.86" height="0.94" fill="#3a1f4c" opacity="0.58"/>
<rect x="360.13" y="467.64" width="1.99" height="0.72" fill="#3a1f4c" opacity="0.84"/>
<rect x="364.2" y="467.69" width="1.29" height="0.62" fill="#3a1f4c" opacity="0.77"/>
<rect x="370.48" y="467.52" width="2.4" height="0.96" fill="#3a1f4c" opacity="0.54"/>
<rect x="374.29" y="467.53" width="2.29" height="0.93" fill="#3a1f4c" opacity="0.51"/>
<rect x="390.22" y="467.65" width="1.97" height="0.69" fill="#3a1f4c" opacity="0.6"/>
<rect x="397.38" y="467.62" width="1.72" height="0.75" fill="#3a1f4c" opacity="0.98"/>
<rect x="400.87" y="467.45" width="1.52" height="1.1" fill="#3a1f4c" opacity="0.98"/>
<rect x="408.44" y="467.68" width="1.8" height="0.63" fill="#3a1f4c" opacity="0.8"/>
<rect x="411.84" y="467.41" width="2.69" height="1.19" fill="#3a1f4c" opacity="0.87"/>
<rect x="419.4" y="467.64" width="2.32" height="0.72" fill="#3a1f4c" opacity="0.6"/>
<rect x="427.81" y="467.64" width="2.75" height="0.72" fill="#3a1f4c" opacity="0.98"/>
<rect x="431.34" y="467.69" width="3.2" height="0.61" fill="#3a1f4c" opacity="0.65"/>
<rect x="436.57" y="467.68" width="1.77" height="0.65" fill="#3a1f4c" opacity="0.52"/>
<rect x="442.42" y="467.6" width="1.48" height="0.8" fill="#3a1f4c" opacity="0.85"/>
<rect x="448.85" y="467.42" width="2.49" height="1.15" fill="#3a1f4c" opacity="0.87"/>
<rect x="469.32" y="467.51" width="1.6" height="0.97" fill="#3a1f4c" opacity="0.58"/>
<rect x="472.31" y="467.57" width="2.66" height="0.86" fill="#3a1f4c" opacity="0.98"/>
<rect x="476.65" y="467.48" width="2.1" height="1.05" fill="#3a1f4c" opacity="0.68"/>
<rect x="488.59" y="467.52" width="0.9" height="0.95" fill="#3a1f4c" opacity="0.74"/>
<rect x="490.01" y="467.45" width="3.08" height="1.1" fill="#3a1f4c" opacity="0.75"/>
<rect x="499.18" y="467.62" width="2.04" height="0.76" fill="#3a1f4c" opacity="0.51"/>
<rect x="506.05" y="467.54" width="1.62" height="0.91" fill="#3a1f4c" opacity="0.76"/>
<path d="M321.6,485.4 L322.1,485.31 L322.6,485.19 L323.1,484.97 L323.6,484.6 L324.1,484.08 L324.6,483.42 L325.1,482.73 L325.6,482.15 L326.1,481.83 L326.6,481.87 L327.1,482.25 L327.6,482.86 L328.1,483.56 L328.6,484.19 L329.1,484.69 L329.6,485.02 L330.1,485.22 L330.6,485.4 Z" fill="#3a1f4c" stroke="none" stroke-width="1"/>
<path d="M336.6,485.4 L337.1,485.22 L337.6,484.85 L338.1,484.18 L338.6,483.38 L339.1,482.91 L339.6,483.13 L340.1,483.85 L340.6,484.62 L341.1,485.1 L341.6,485.32 L342.1,485.4 Z" fill="#3a1f4c" stroke="none" stroke-width="1"/>
<path d="M342.6,485.4 L343.1,485.12 L343.6,484.53 L344.1,483.46 L344.6,482.36 L345.1,482.02 L345.6,482.75 L346.1,483.91 L346.6,484.71 L347.1,484.88 L347.6,484.57 L348.1,484.14 L348.6,483.99 L349.1,484.2 L349.6,484.46 L350.1,484.42 L350.6,484.17 L351.1,484.1 L351.6,484.39 L352.1,484.84 L352.6,485.18 L353.1,485.4 Z" fill="#3a1f4c" stroke="none" stroke-width="1"/>
<path d="M358.1,485.4 L358.6,485.21 L359.1,484.2 L359.6,481.12 L360.1,476.61 L360.6,475.02 L361.1,478.35 L361.6,482.65 L362.1,484.78 L362.6,485.4 Z" fill="#3a1f4c" stroke="none" stroke-width="1"/>
<line x1="286.3" y1="485.1" x2="511.8" y2="485.1" stroke="#9a92a0" stroke-width="0.6"/>
<rect x="296.75" y="484.77" width="2.66" height="0.66" fill="#3a1f4c" opacity="0.95"/>
<rect x="303.48" y="484.74" width="1.43" height="0.72" fill="#3a1f4c" opacity="0.87"/>
<rect x="306.01" y="484.72" width="0.98" height="0.76" fill="#3a1f4c" opacity="0.59"/>
<rect x="307.52" y="484.62" width="2.81" height="0.96" fill="#3a1f4c" opacity="0.74"/>
<rect x="315.69" y="484.7" width="1.48" height="0.8" fill="#3a1f4c" opacity="0.66"/>
<rect x="321.49" y="484.56" width="2.68" height="1.07" fill="#3a1f4c" opacity="0.53"/>
<rect x="325.1" y="484.57" width="1.43" height="1.07" fill="#3a1f4c" opacity="0.75"/>
<rect x="327.13" y="484.59" width="1.24" height="1.03" fill="#3a1f4c" opacity="0.82"/>
<rect x="347.8" y="484.79" width="2.97" height="0.61" fill="#3a1f4c" opacity="0.92"/>
<rect x="355.15" y="484.75" width="2.9" height="0.7" fill="#3a1f4c" opacity="0.61"/>
<rect x="359.62" y="484.73" width="2.41" height="0.74" fill="#3a1f4c" opacity="0.57"/>
<rect x="369.22" y="484.63" width="0.99" height="0.93" fill="#3a1f4c" opacity="0.94"/>
<rect x="378.09" y="484.78" width="2.09" height="0.65" fill="#3a1f4c" opacity="0.97"/>
<rect x="381.53" y="484.68" width="2.7" height="0.84" fill="#3a1f4c" opacity="0.56"/>
<rect x="388.78" y="484.59" width="1.53" height="1.02" fill="#3a1f4c" opacity="0.96"/>
<rect x="392.06" y="484.51" width="2.35" height="1.17" fill="#3a1f4c" opacity="0.56"/>
<rect x="398.64" y="484.79" width="2.22" height="0.63" fill="#3a1f4c" opacity="0.71"/>
<rect x="402.51" y="484.52" width="2.92" height="1.16" fill="#3a1f4c" opacity="0.88"/>
<rect x="407.88" y="484.61" width="2.5" height="0.98" fill="#3a1f4c" opacity="0.84"/>
<rect x="411.39" y="484.64" width="1.21" height="0.92" fill="#3a1f4c" opacity="0.53"/>
<rect x="416.37" y="484.66" width="2.16" height="0.87" fill="#3a1f4c" opacity="0.98"/>
<rect x="420.7" y="484.54" width="2.99" height="1.12" fill="#3a1f4c" opacity="0.9"/>
<rect x="430.62" y="484.59" width="1.85" height="1.03" fill="#3a1f4c" opacity="0.86"/>
<rect x="433.87" y="484.72" width="3.06" height="0.77" fill="#3a1f4c" opacity="0.69"/>
<rect x="437.43" y="484.72" width="2.01" height="0.76" fill="#3a1f4c" opacity="0.73"/>
<rect x="440.89" y="484.7" width="2.19" height="0.81" fill="#3a1f4c" opacity="0.68"/>
<rect x="447.05" y="484.5" width="1.21" height="1.19" fill="#3a1f4c" opacity="0.61"/>
<rect x="448.87" y="484.76" width="2.62" height="0.68" fill="#3a1f4c" opacity="0.94"/>
<rect x="453.16" y="484.62" width="2.42" height="0.97" fill="#3a1f4c" opacity="0.52"/>
<rect x="464.68" y="484.74" width="1.03" height="0.72" fill="#3a1f4c" opacity="1"/>
<rect x="470.16" y="484.56" width="1.61" height="1.08" fill="#3a1f4c" opacity="0.61"/>
<rect x="479.72" y="484.8" width="2.8" height="0.61" fill="#3a1f4c" opacity="0.73"/>
<rect x="484.92" y="484.51" width="2.98" height="1.17" fill="#3a1f4c" opacity="0.9"/>
<rect x="489.24" y="484.69" width="1.24" height="0.81" fill="#3a1f4c" opacity="0.54"/>
<rect x="496.74" y="484.59" width="1.17" height="1.02" fill="#3a1f4c" opacity="0.89"/>
<rect x="499.14" y="484.56" width="1.13" height="1.07" fill="#3a1f4c" opacity="0.86"/>
<rect x="500.94" y="484.66" width="2.18" height="0.88" fill="#3a1f4c" opacity="0.92"/>
<rect x="509.24" y="484.79" width="2.56" height="0.61" fill="#3a1f4c" opacity="0.74"/>
<path d="M341.6,502.3 L342.1,502.21 L342.6,502.13 L343.1,502.02 L343.6,501.87 L344.1,501.73 L344.6,501.63 L345.1,501.6 L345.6,501.66 L346.1,501.78 L346.6,501.93 L347.1,502.07 L347.6,502.17 L348.1,502.3 Z" fill="#3a1f4c" stroke="none" stroke-width="1"/>
<path d="M355.6,502.3 L356.1,502.2 L356.6,502.09 L357.1,501.95 L357.6,501.83 L358.1,501.8 L358.6,501.87 L359.1,502.01 L359.6,502.14 L360.1,502.3 Z" fill="#3a1f4c" stroke="none" stroke-width="1"/>
<line x1="286.3" y1="502" x2="511.8" y2="502" stroke="#9a92a0" stroke-width="0.6"/>
<rect x="286.3" y="501.52" width="1.75" height="0.95" fill="#3a1f4c" opacity="0.57"/>
<rect x="291.93" y="501.68" width="3.12" height="0.64" fill="#3a1f4c" opacity="0.84"/>
<rect x="301.19" y="501.63" width="1.28" height="0.74" fill="#3a1f4c" opacity="0.59"/>
<rect x="303.57" y="501.46" width="1.71" height="1.08" fill="#3a1f4c" opacity="0.92"/>
<rect x="308.67" y="501.57" width="3.07" height="0.87" fill="#3a1f4c" opacity="0.7"/>
<rect x="314.04" y="501.41" width="2.07" height="1.17" fill="#3a1f4c" opacity="0.59"/>
<rect x="322.62" y="501.5" width="2.85" height="1" fill="#3a1f4c" opacity="0.75"/>
<rect x="327.96" y="501.46" width="3.14" height="1.08" fill="#3a1f4c" opacity="0.68"/>
<rect x="337.01" y="501.42" width="1.26" height="1.17" fill="#3a1f4c" opacity="0.77"/>
<rect x="344.37" y="501.49" width="2.28" height="1.01" fill="#3a1f4c" opacity="0.87"/>
<rect x="348.28" y="501.43" width="3.12" height="1.14" fill="#3a1f4c" opacity="1"/>
<rect x="353.37" y="501.59" width="1.77" height="0.82" fill="#3a1f4c" opacity="0.9"/>
<rect x="357.18" y="501.47" width="1.23" height="1.06" fill="#3a1f4c" opacity="0.58"/>
<rect x="360.41" y="501.59" width="2.14" height="0.82" fill="#3a1f4c" opacity="0.95"/>
<rect x="366.29" y="501.42" width="2.69" height="1.16" fill="#3a1f4c" opacity="0.97"/>
<rect x="388.83" y="501.41" width="2.94" height="1.18" fill="#3a1f4c" opacity="0.51"/>
<rect x="397.32" y="501.47" width="2.32" height="1.06" fill="#3a1f4c" opacity="0.93"/>
<rect x="400.86" y="501.5" width="2.53" height="1" fill="#3a1f4c" opacity="0.76"/>
<rect x="405.25" y="501.44" width="1.2" height="1.11" fill="#3a1f4c" opacity="0.59"/>
<rect x="408.38" y="501.62" width="1.9" height="0.76" fill="#3a1f4c" opacity="0.86"/>
<rect x="411.1" y="501.56" width="1.63" height="0.87" fill="#3a1f4c" opacity="0.53"/>
<rect x="414.3" y="501.67" width="2.01" height="0.66" fill="#3a1f4c" opacity="0.69"/>
<rect x="421.58" y="501.41" width="2.64" height="1.18" fill="#3a1f4c" opacity="0.8"/>
<rect x="425.54" y="501.59" width="2.89" height="0.82" fill="#3a1f4c" opacity="0.9"/>
<rect x="430.66" y="501.49" width="1.51" height="1.02" fill="#3a1f4c" opacity="0.73"/>
<rect x="443.57" y="501.53" width="3.09" height="0.93" fill="#3a1f4c" opacity="0.62"/>
<rect x="448.49" y="501.46" width="2.1" height="1.09" fill="#3a1f4c" opacity="0.69"/>
<rect x="452.09" y="501.64" width="2.97" height="0.71" fill="#3a1f4c" opacity="0.75"/>
<rect x="456.47" y="501.59" width="2.07" height="0.81" fill="#3a1f4c" opacity="0.71"/>
<rect x="463.86" y="501.64" width="2.22" height="0.72" fill="#3a1f4c" opacity="0.83"/>
<rect x="468.07" y="501.65" width="2.31" height="0.71" fill="#3a1f4c" opacity="0.94"/>
<rect x="473.65" y="501.43" width="0.9" height="1.15" fill="#3a1f4c" opacity="0.66"/>
<rect x="480.45" y="501.53" width="1.96" height="0.94" fill="#3a1f4c" opacity="0.54"/>
<rect x="483.45" y="501.44" width="2.64" height="1.12" fill="#3a1f4c" opacity="0.68"/>
<rect x="486.99" y="501.57" width="1.51" height="0.86" fill="#3a1f4c" opacity="0.85"/>
<rect x="490.96" y="501.47" width="1.79" height="1.06" fill="#3a1f4c" opacity="0.66"/>
<rect x="493.84" y="501.43" width="2.53" height="1.13" fill="#3a1f4c" opacity="0.57"/>
<rect x="497.41" y="501.66" width="2.1" height="0.67" fill="#3a1f4c" opacity="0.98"/>
<rect x="510.19" y="501.49" width="1.61" height="1.01" fill="#3a1f4c" opacity="0.62"/>
<path d="M321.1,520.9 L321.6,520.3 L322.1,520.35 L322.6,519.78 L323.1,519.22 L323.6,518.99 L324.1,518.29 L324.6,518.14 L325.1,517.91 L325.6,517.42 L326.1,516.79 L326.6,516.89 L327.1,516.91 L327.6,517.67 L328.1,518.32 L328.6,518.52 L329.1,518.89 L329.6,519.4 L330.1,519.79 L330.6,520.18 L331.1,520.9 Z" fill="#c8102e" stroke="none" stroke-width="1"/>
<path d="M337.1,520.9 L337.6,520.69 L338.1,520.16 L338.6,520.09 L339.1,519.58 L339.6,519.37 L340.1,519.44 L340.6,519.75 L341.1,519.73 L341.6,519.98 L342.1,520.14 L342.6,519.6 L343.1,517.41 L343.6,515.71 L344.1,515.87 L344.6,517.57 L345.1,518.43 L345.6,517 L346.1,514.29 L346.6,513.2 L347.1,515.38 L347.6,518.02 L348.1,518.87 L348.6,517.45 L349.1,516.02 L349.6,516.18 L350.1,517.71 L350.6,519.05 L351.1,518.99 L351.6,518.56 L352.1,518.65 L352.6,518.98 L353.1,519.81 L353.6,520.4 L354.1,520.73 L354.6,520.9 Z" fill="#c8102e" stroke="none" stroke-width="1"/>
<path d="M355.1,520.9 L355.6,520.56 L356.1,519.72 L356.6,518.26 L357.1,516.64 L357.6,515.59 L358.1,515.45 L358.6,515.09 L359.1,514.25 L359.6,515.13 L360.1,516.84 L360.6,518.52 L361.1,518.52 L361.6,518.66 L362.1,519.05 L362.6,519.61 L363.1,520.23 L363.6,520.77 L364.1,520.9 Z" fill="#c8102e" stroke="none" stroke-width="1"/>
<line x1="286.3" y1="520.6" x2="511.8" y2="520.6" stroke="#eab4c2" stroke-width="0.6"/>
<rect x="292.66" y="520.27" width="3.14" height="0.66" fill="#c8102e" opacity="0.87"/>
<rect x="300.8" y="520.01" width="3.11" height="1.17" fill="#c8102e" opacity="0.5"/>
<rect x="305" y="520.2" width="2.3" height="0.8" fill="#c8102e" opacity="0.55"/>
<rect x="309.02" y="520.1" width="2.83" height="1" fill="#c8102e" opacity="0.77"/>
<rect x="313.75" y="520.19" width="3.19" height="0.82" fill="#c8102e" opacity="0.74"/>
<rect x="325.1" y="520.15" width="2.44" height="0.9" fill="#c8102e" opacity="0.86"/>
<rect x="329.95" y="520.06" width="1.66" height="1.08" fill="#c8102e" opacity="0.76"/>
<rect x="332.32" y="520.07" width="1.61" height="1.05" fill="#c8102e" opacity="0.82"/>
<rect x="338.79" y="520.15" width="2.54" height="0.89" fill="#c8102e" opacity="0.98"/>
<rect x="342.76" y="520.19" width="1.41" height="0.82" fill="#c8102e" opacity="0.7"/>
<rect x="347.72" y="520.25" width="1.11" height="0.7" fill="#c8102e" opacity="0.99"/>
<rect x="351" y="520.1" width="2.78" height="1" fill="#c8102e" opacity="0.86"/>
<rect x="354.68" y="520.18" width="1.43" height="0.84" fill="#c8102e" opacity="0.7"/>
<rect x="362.6" y="520.11" width="2.75" height="0.97" fill="#c8102e" opacity="0.62"/>
<rect x="370.06" y="520.15" width="1.95" height="0.91" fill="#c8102e" opacity="0.8"/>
<rect x="372.74" y="520.23" width="3.09" height="0.74" fill="#c8102e" opacity="0.92"/>
<rect x="376.43" y="520.02" width="2.5" height="1.16" fill="#c8102e" opacity="0.54"/>
<rect x="384.87" y="520.21" width="1.59" height="0.77" fill="#c8102e" opacity="0.95"/>
<rect x="391.56" y="520.27" width="1.95" height="0.66" fill="#c8102e" opacity="0.53"/>
<rect x="395.97" y="520.09" width="1.91" height="1.03" fill="#c8102e" opacity="0.61"/>
<rect x="398.61" y="520.21" width="0.98" height="0.77" fill="#c8102e" opacity="0.62"/>
<rect x="404.14" y="520.13" width="2.89" height="0.93" fill="#c8102e" opacity="0.99"/>
<rect x="411.33" y="520.22" width="0.9" height="0.77" fill="#c8102e" opacity="0.83"/>
<rect x="413.4" y="520.19" width="2.54" height="0.82" fill="#c8102e" opacity="0.62"/>
<rect x="417.75" y="520.24" width="1.25" height="0.72" fill="#c8102e" opacity="0.83"/>
<rect x="424.75" y="520.15" width="0.93" height="0.9" fill="#c8102e" opacity="0.79"/>
<rect x="431.97" y="520.23" width="1" height="0.73" fill="#c8102e" opacity="0.98"/>
<rect x="436.1" y="520.26" width="1.79" height="0.69" fill="#c8102e" opacity="0.85"/>
<rect x="440.3" y="520" width="1.42" height="1.2" fill="#c8102e" opacity="0.97"/>
<rect x="443.88" y="520.28" width="2.67" height="0.63" fill="#c8102e" opacity="0.58"/>
<rect x="458.83" y="520.12" width="2.37" height="0.96" fill="#c8102e" opacity="0.9"/>
<rect x="461.83" y="520.14" width="2.34" height="0.92" fill="#c8102e" opacity="0.52"/>
<rect x="466.34" y="520.11" width="1.84" height="0.98" fill="#c8102e" opacity="0.73"/>
<rect x="469.41" y="520.16" width="2.81" height="0.89" fill="#c8102e" opacity="0.74"/>
<rect x="485.78" y="520.09" width="2.74" height="1.02" fill="#c8102e" opacity="0.6"/>
<rect x="492.27" y="520.01" width="2.59" height="1.19" fill="#c8102e" opacity="0.67"/>
<rect x="498.54" y="520.11" width="2.88" height="0.97" fill="#c8102e" opacity="0.81"/>
<rect x="508.49" y="520.21" width="1.1" height="0.79" fill="#c8102e" opacity="0.62"/>
<rect x="510.21" y="520.18" width="0.94" height="0.84" fill="#c8102e" opacity="0.67"/>
<path d="M323.1,542.8 L323.6,542.28 L324.1,541.93 L324.6,541.89 L325.1,540.73 L325.6,540.08 L326.1,540.02 L326.6,539.69 L327.1,540.22 L327.6,541.26 L328.1,541.52 L328.6,542.26 L329.1,542.44 L329.6,542.8 Z" fill="#c8102e" stroke="none" stroke-width="1"/>
<path d="M341.1,542.8 L341.6,542.26 L342.1,541.79 L342.6,540.94 L343.1,540.32 L343.6,539.92 L344.1,540.44 L344.6,540.69 L345.1,540.23 L345.6,539.69 L346.1,539.32 L346.6,539.78 L347.1,541.12 L347.6,541.51 L348.1,541.49 L348.6,540.61 L349.1,540.76 L349.6,541.15 L350.1,541.56 L350.6,542.24 L351.1,542.43 L351.6,542.8 Z" fill="#c8102e" stroke="none" stroke-width="1"/>
<path d="M355.1,542.8 L355.6,542.36 L356.1,542.01 L356.6,541.12 L357.1,539.86 L357.6,538.7 L358.1,538.24 L358.6,537.89 L359.1,537.14 L359.6,536.95 L360.1,538.98 L360.6,540.84 L361.1,541.42 L361.6,541.33 L362.1,540.89 L362.6,541.15 L363.1,541.77 L363.6,542.07 L364.1,542.8 Z" fill="#c8102e" stroke="none" stroke-width="1"/>
<path d="M485.6,542.8 L486.1,542.44 L486.6,542.42 L487.1,542.35 L487.6,542.08 L488.1,542.12 L488.6,541.81 L489.1,541.73 L489.6,541.49 L490.1,541.37 L490.6,541.53 L491.1,541.91 L491.6,541.84 L492.1,541.94 L492.6,542.19 L493.1,542.55 L493.6,542.63 L494.1,542.8 Z" fill="#c8102e" stroke="none" stroke-width="1"/>
<line x1="286.3" y1="542.5" x2="511.8" y2="542.5" stroke="#eab4c2" stroke-width="0.6"/>
<rect x="286.3" y="541.98" width="0.82" height="1.04" fill="#c8102e" opacity="0.92"/>
<rect x="289.41" y="542.12" width="3.13" height="0.76" fill="#c8102e" opacity="0.76"/>
<rect x="306.34" y="541.92" width="1.56" height="1.17" fill="#c8102e" opacity="0.85"/>
<rect x="309.73" y="542.2" width="2.02" height="0.61" fill="#c8102e" opacity="0.78"/>
<rect x="313.89" y="542.18" width="3.18" height="0.64" fill="#c8102e" opacity="0.53"/>
<rect x="322.6" y="541.94" width="1.73" height="1.12" fill="#c8102e" opacity="1"/>
<rect x="325.07" y="542.1" width="0.94" height="0.79" fill="#c8102e" opacity="0.83"/>
<rect x="327.89" y="542.04" width="1.33" height="0.92" fill="#c8102e" opacity="0.99"/>
<rect x="331.7" y="542.19" width="0.94" height="0.62" fill="#c8102e" opacity="0.77"/>
<rect x="334.03" y="541.95" width="2.57" height="1.11" fill="#c8102e" opacity="0.89"/>
<rect x="337.68" y="542.2" width="3.05" height="0.6" fill="#c8102e" opacity="0.88"/>
<rect x="342.54" y="542.08" width="2.52" height="0.84" fill="#c8102e" opacity="0.87"/>
<rect x="346.85" y="542.06" width="0.9" height="0.88" fill="#c8102e" opacity="0.64"/>
<rect x="352.74" y="542.15" width="1.27" height="0.71" fill="#c8102e" opacity="0.75"/>
<rect x="355.33" y="542.1" width="1.38" height="0.79" fill="#c8102e" opacity="0.99"/>
<rect x="357.5" y="542.09" width="3.11" height="0.82" fill="#c8102e" opacity="0.54"/>
<rect x="365.66" y="542.17" width="2.01" height="0.66" fill="#c8102e" opacity="0.59"/>
<rect x="372.27" y="541.95" width="1.23" height="1.09" fill="#c8102e" opacity="0.75"/>
<rect x="391.23" y="541.91" width="1.96" height="1.17" fill="#c8102e" opacity="0.92"/>
<rect x="401.81" y="541.94" width="2.26" height="1.12" fill="#c8102e" opacity="0.77"/>
<rect x="406.01" y="542.15" width="1.63" height="0.71" fill="#c8102e" opacity="0.51"/>
<rect x="409.6" y="541.94" width="1.22" height="1.13" fill="#c8102e" opacity="0.81"/>
<rect x="422.73" y="541.93" width="2.31" height="1.14" fill="#c8102e" opacity="0.79"/>
<rect x="427.18" y="541.92" width="1.56" height="1.15" fill="#c8102e" opacity="0.6"/>
<rect x="435.16" y="542.18" width="2.81" height="0.64" fill="#c8102e" opacity="0.79"/>
<rect x="446.48" y="542.03" width="1.84" height="0.94" fill="#c8102e" opacity="0.65"/>
<rect x="449.75" y="541.98" width="1.83" height="1.03" fill="#c8102e" opacity="0.7"/>
<rect x="453.35" y="541.96" width="1.91" height="1.08" fill="#c8102e" opacity="0.6"/>
<rect x="458.79" y="542.06" width="2.35" height="0.87" fill="#c8102e" opacity="0.83"/>
<rect x="470.38" y="542.06" width="2.48" height="0.87" fill="#c8102e" opacity="0.86"/>
<rect x="475.14" y="541.95" width="2" height="1.1" fill="#c8102e" opacity="0.86"/>
<rect x="483.67" y="541.93" width="2.19" height="1.13" fill="#c8102e" opacity="0.72"/>
<rect x="491.62" y="541.94" width="0.9" height="1.13" fill="#c8102e" opacity="0.94"/>
<rect x="493.97" y="542.09" width="0.95" height="0.82" fill="#c8102e" opacity="0.76"/>
<rect x="503.62" y="542.08" width="1.01" height="0.84" fill="#c8102e" opacity="0.51"/>
<rect x="506.69" y="542.17" width="3.03" height="0.66" fill="#c8102e" opacity="0.78"/>
<rect x="511.48" y="542.19" width="0.32" height="0.61" fill="#c8102e" opacity="0.57"/>
<line x1="286.1" y1="560.3" x2="511.8" y2="560.3" stroke="#cfcfcf" stroke-width="0.6"/>
<path d="M324.1,560.5 L324.6,560.23 L325.1,559.62 L325.6,558.35 L326.1,556.82 L326.6,555.64 L327.1,555.87 L327.6,557.37 L328.1,558.62 L328.6,559.69 L329.1,560.28 L329.6,560.5 Z" fill="#c4c4c4" stroke="none" stroke-width="1"/>
<path d="M340.6,560.5 L341.1,560.13 L341.6,559.51 L342.1,557.91 L342.6,556.13 L343.1,555.39 L343.6,556.58 L344.1,556.86 L344.6,554.27 L345.1,551.36 L345.6,550.74 L346.1,548.41 L346.6,546.49 L347.1,550.19 L347.6,553.19 L348.1,552.32 L348.6,552.57 L349.1,554.77 L349.6,555.5 L350.1,555.56 L350.6,557.25 L351.1,558.91 L351.6,559.99 L352.1,560.5 Z" fill="#c4c4c4" stroke="none" stroke-width="1"/>
<path d="M357.1,560.5 L357.6,560.17 L358.1,559.37 L358.6,557.28 L359.1,555.06 L359.6,554.5 L360.1,555.44 L360.6,556.35 L361.1,557.1 L361.6,558.27 L362.1,559.37 L362.6,560.02 L363.1,560.5 Z" fill="#c4c4c4" stroke="none" stroke-width="1"/>
<path d="M285.8,578.5 L285.8,576.78 L286.35,574.96 L286.9,575.76 L287.45,576.01 L288,576.67 L288.55,575.36 L289.1,576.31 L289.65,573.59 L290.2,575.5 L290.75,573.01 L291.3,575.57 L291.85,575.42 L292.4,575.26 L292.95,573.67 L293.5,573.91 L294.05,575.99 L294.6,575.2 L295.15,573.82 L295.7,575.61 L296.25,573.38 L296.8,573.04 L297.35,572.61 L297.9,575.78 L298.45,574.69 L299,575.62 L299.55,573.59 L300.1,574.07 L300.65,576.49 L301.2,573.62 L301.75,573.41 L302.3,575.21 L302.85,572.66 L303.4,575.34 L303.95,573.17 L304.5,574.57 L305.05,576.6 L305.6,574.54 L306.15,576.07 L306.7,576.93 L307.25,576.92 L307.8,576.92 L308.35,575.45 L308.9,574.61 L309.45,571.03 L310,572.82 L310.55,575.07 L311.1,576.53 L311.65,575.07 L312.2,576.79 L312.75,575.17 L313.3,576.21 L313.85,577.31 L314.4,577.67 L314.95,577.97 L315.5,577.45 L316.05,577.91 L316.6,578.1 L317.15,577.82 L317.7,577.47 L318.25,577.27 L318.8,577.82 L319.35,578.03 L319.9,577.91 L320.45,578.11 L321,577.8 L321.55,578.04 L322.1,578.04 L322.65,577.6 L323.2,577.33 L323.75,577.63 L324.3,577.96 L324.85,577.4 L325.4,577.66 L325.95,577.76 L326.5,577.9 L327.05,577.53 L327.6,577.92 L328.15,578.06 L328.7,577.8 L329.25,577.65 L329.8,577.68 L330.35,577.69 L330.9,576.66 L331.45,577.33 L332,576.14 L332.55,576.44 L333.1,576.01 L333.65,576.35 L334.2,577.45 L334.75,576.19 L335.3,577.05 L335.85,576.14 L336.4,574.71 L336.95,575.58 L337.5,575.36 L338.05,576.53 L338.6,576.13 L339.15,577.05 L339.7,577.77 L340.25,578.03 L340.8,578.15 L341.35,578.22 L341.9,578.04 L342.45,578.19 L343,577.94 L343.55,578.12 L344.1,578.19 L344.65,577.94 L345.2,578.11 L345.75,578.2 L346.3,578.13 L346.85,578.16 L347.4,578.31 L347.95,578.3 L348.5,578.07 L349.05,577.38 L349.6,577.18 L350.15,577.01 L350.7,577.12 L351.25,576.02 L351.8,576.58 L352.35,576.4 L352.9,575.97 L353.45,574.97 L354,576.5 L354.55,577.05 L355.1,577.51 L355.65,577.68 L356.2,575.81 L356.75,577.35 L357.3,577.63 L357.85,578.08 L358.4,578.27 L358.95,578.07 L359.5,578.3 L360.05,578.01 L360.6,578.17 L361.15,578.19 L361.7,578.18 L362.25,577.99 L362.8,578.25 L363.35,578.06 L363.9,578.05 L364.45,577.27 L365,577.6 L365.55,576.51 L366.1,576.91 L366.65,576.07 L367.2,576.06 L367.75,576.63 L368.3,577.63 L368.85,577.44 L369.4,576.85 L369.95,576.99 L370.5,576.89 L371.05,577.58 L371.6,577.74 L372.15,577.25 L372.7,576.71 L373.25,577.62 L373.8,576.57 L374.35,577.39 L374.9,577.66 L375.45,577.62 L376,577.81 L376.55,578.07 L377.1,577.67 L377.65,577.26 L378.2,577.71 L378.75,576.87 L379.3,576.79 L379.85,576.6 L380.4,577.06 L380.95,577.1 L381.5,577.78 L382.05,577.41 L382.6,576.35 L383.15,576.2 L383.7,577.58 L384.25,576.43 L384.8,577.54 L385.35,577.45 L385.9,577.74 L386.45,577.77 L387,577.19 L387.55,576.65 L388.1,577.36 L388.65,576.86 L389.2,577.18 L389.75,577.69 L390.3,577.85 L390.85,576.84 L391.4,577.27 L391.95,576.4 L392.5,577.39 L393.05,577.79 L393.6,576.68 L394.15,576.66 L394.7,576.22 L395.25,577.35 L395.8,576.7 L396.35,577.62 L396.9,576.87 L397.45,577.14 L398,577.69 L398.55,577.92 L399.1,577.62 L399.65,577.41 L400.2,577.57 L400.75,576.92 L401.3,577.67 L401.85,577.52 L402.4,577.73 L402.95,577.62 L403.5,575.77 L404.05,575.25 L404.6,575.26 L405.15,576.37 L405.7,576.38 L406.25,577.27 L406.8,577.69 L407.35,576.9 L407.9,577.69 L408.45,577.22 L409,576.98 L409.55,577.87 L410.1,577.9 L410.65,578.03 L411.2,578.03 L411.75,577.17 L412.3,577.39 L412.85,577.46 L413.4,577.75 L413.95,577.55 L414.5,577.64 L415.05,577.93 L415.6,577.97 L416.15,577.98 L416.7,577.93 L417.25,577.72 L417.8,577.57 L418.35,577.95 L418.9,577.93 L419.45,577.46 L420,577.53 L420.55,577.98 L421.1,577.79 L421.65,577.53 L422.2,577.1 L422.75,577.77 L423.3,577.91 L423.85,577.34 L424.4,576.63 L424.95,577.57 L425.5,577.34 L426.05,576.29 L426.6,576.75 L427.15,577.28 L427.7,574.93 L428.25,575.34 L428.8,576.78 L429.35,577.38 L429.9,577.35 L430.45,576.9 L431,576.76 L431.55,576.36 L432.1,577.7 L432.65,577.49 L433.2,577.18 L433.75,577.87 L434.3,577.94 L434.85,577.18 L435.4,577.43 L435.95,577.11 L436.5,577.82 L437.05,577.23 L437.6,577.09 L438.15,577.59 L438.7,578.01 L439.25,577.23 L439.8,577.18 L440.35,577.11 L440.9,577.31 L441.45,577.22 L442,577.81 L442.55,577.94 L443.1,576.64 L443.65,576.73 L444.2,576.62 L444.75,576.21 L445.3,577.1 L445.85,575.52 L446.4,574.38 L446.95,574.07 L447.5,575.91 L448.05,576.76 L448.6,575.78 L449.15,576.81 L449.7,574.99 L450.25,574.31 L450.8,576.3 L451.35,576.37 L451.9,575.71 L452.45,576.7 L453,576.78 L453.55,576.18 L454.1,576.75 L454.65,575.61 L455.2,577.14 L455.75,575.89 L456.3,575.08 L456.85,576.25 L457.4,577.14 L457.95,576.3 L458.5,576.85 L459.05,577.81 L459.6,578.03 L460.15,577.27 L460.7,577.95 L461.25,577.53 L461.8,577.72 L462.35,577.2 L462.9,577.88 L463.45,577.27 L464,577.56 L464.55,577.52 L465.1,577.78 L465.65,577.89 L466.2,577.8 L466.75,578.05 L467.3,577.83 L467.85,577.79 L468.4,577.74 L468.95,577.1 L469.5,577.03 L470.05,577.78 L470.6,577.33 L471.15,577.35 L471.7,576.57 L472.25,577.07 L472.8,577.03 L473.35,576.42 L473.9,576.2 L474.45,577.16 L475,576.46 L475.55,575.95 L476.1,576.48 L476.65,576.73 L477.2,577.39 L477.75,577.55 L478.3,577.67 L478.85,577.13 L479.4,577.51 L479.95,576.93 L480.5,577.7 L481.05,576.4 L481.6,577.54 L482.15,577.6 L482.7,577.32 L483.25,576.7 L483.8,576.66 L484.35,576.4 L484.9,576.54 L485.45,577.07 L486,577.84 L486.55,577.18 L487.1,577.79 L487.65,577.12 L488.2,577.39 L488.75,577.95 L489.3,577.82 L489.85,577.15 L490.4,577.52 L490.95,577.69 L491.5,577.08 L492.05,577.02 L492.6,577.78 L493.15,577.92 L493.7,577.32 L494.25,577.67 L494.8,577.21 L495.35,577.9 L495.9,577.89 L496.45,577.67 L497,576.85 L497.55,575.9 L498.1,577.17 L498.65,577.54 L499.2,575.85 L499.75,576.39 L500.3,575.9 L500.85,576.39 L501.4,577.1 L501.95,576.9 L502.5,577.39 L503.05,576.55 L503.6,577.39 L504.15,577.66 L504.7,575.95 L505.25,575.34 L505.8,577.11 L506.35,575.82 L506.9,576.41 L507.45,577.21 L508,575.47 L508.55,577.22 L509.1,577.52 L509.65,577.67 L510.2,577.8 L510.75,577.93 L511.3,577.39 L511.8,578.5 Z" fill="#1b4f80" stroke="none" stroke-width="1"/>
<line x1="285.8" y1="578.2" x2="511.8" y2="578.2" stroke="#1b4f80" stroke-width="0.8"/>
<path d="M285.8,596.9 L285.8,592.47 L286.35,593.54 L286.9,593.68 L287.45,594 L288,594.95 L288.55,595.41 L289.1,594.59 L289.65,594.02 L290.2,592.69 L290.75,594.22 L291.3,591.66 L291.85,594.6 L292.4,593.29 L292.95,595.03 L293.5,594.99 L294.05,595.18 L294.6,591.55 L295.15,592.19 L295.7,592.54 L296.25,590.68 L296.8,589.57 L297.35,592.21 L297.9,590.82 L298.45,593.49 L299,592.5 L299.55,591.72 L300.1,593.69 L300.65,592.8 L301.2,592.1 L301.75,594.1 L302.3,591.63 L302.85,593.32 L303.4,593.5 L303.95,593.99 L304.5,594.26 L305.05,591.48 L305.6,593.5 L306.15,591.93 L306.7,594.55 L307.25,594.74 L307.8,595.02 L308.35,593.1 L308.9,589.18 L309.45,589.62 L310,589.12 L310.55,592.37 L311.1,594.3 L311.65,594.78 L312.2,592.12 L312.75,593.42 L313.3,593.56 L313.85,594.73 L314.4,595.88 L314.95,596.18 L315.5,595.7 L316.05,596.19 L316.6,595.9 L317.15,595.76 L317.7,596.1 L318.25,595.04 L318.8,596.11 L319.35,595.13 L319.9,596.14 L320.45,595.05 L321,595.77 L321.55,596.19 L322.1,595.69 L322.65,595.45 L323.2,595.87 L323.75,595.85 L324.3,595.55 L324.85,596.03 L325.4,596.09 L325.95,595.54 L326.5,595.69 L327.05,594.77 L327.6,595.28 L328.15,594.59 L328.7,594.91 L329.25,595.6 L329.8,595.5 L330.35,595.03 L330.9,595.13 L331.45,594.55 L332,594.5 L332.55,594.42 L333.1,595.45 L333.65,594.06 L334.2,593.59 L334.75,594.91 L335.3,593.16 L335.85,593.18 L336.4,593.24 L336.95,594.24 L337.5,593.96 L338.05,594.2 L338.6,594.35 L339.15,595.08 L339.7,595.97 L340.25,596.36 L340.8,596.27 L341.35,596.38 L341.9,596.21 L342.45,596.28 L343,596.44 L343.55,596.21 L344.1,596.62 L344.65,596.27 L345.2,596.46 L345.75,596.52 L346.3,596.27 L346.85,596.2 L347.4,595.74 L347.95,594.42 L348.5,594.6 L349.05,593.92 L349.6,594.58 L350.15,594.77 L350.7,593.82 L351.25,593.05 L351.8,594.4 L352.35,594.46 L352.9,594.54 L353.45,595.31 L354,595.94 L354.55,594.73 L355.1,595.44 L355.65,593.74 L356.2,595.6 L356.75,594.63 L357.3,594.74 L357.85,593.87 L358.4,594.27 L358.95,594.92 L359.5,595.84 L360.05,596.52 L360.6,596.64 L361.15,596.66 L361.7,596.72 L362.25,596.76 L362.8,596.8 L363.35,596.77 L363.9,596.74 L364.45,596.63 L365,596.76 L365.55,596.07 L366.1,595.54 L366.65,595.76 L367.2,594.95 L367.75,593.94 L368.3,594.02 L368.85,594.39 L369.4,595.41 L369.95,595.53 L370.5,595.54 L371.05,595.74 L371.6,595.46 L372.15,594.49 L372.7,594.57 L373.25,595.54 L373.8,594.97 L374.35,595.04 L374.9,595.88 L375.45,595.89 L376,595.85 L376.55,596.06 L377.1,595.02 L377.65,594.94 L378.2,595.49 L378.75,594.26 L379.3,595.28 L379.85,595.84 L380.4,595.56 L380.95,595.53 L381.5,595.9 L382.05,595.72 L382.6,594.94 L383.15,594.97 L383.7,595.89 L384.25,595.08 L384.8,595.08 L385.35,595.91 L385.9,595.84 L386.45,594.96 L387,594.59 L387.55,594.54 L388.1,595.49 L388.65,594.47 L389.2,595.11 L389.75,594.97 L390.3,595.66 L390.85,595.77 L391.4,596.04 L391.95,596.12 L392.5,595.19 L393.05,596.01 L393.6,595.32 L394.15,595.65 L394.7,595.88 L395.25,595.75 L395.8,595 L396.35,595.36 L396.9,595.73 L397.45,595.59 L398,595.6 L398.55,596.22 L399.1,596.22 L399.65,595.24 L400.2,595.16 L400.75,595.27 L401.3,594.55 L401.85,594.81 L402.4,594.71 L402.95,593.67 L403.5,595.21 L404.05,594.74 L404.6,593.38 L405.15,595.06 L405.7,594.19 L406.25,595.57 L406.8,595.95 L407.35,595.78 L407.9,595.22 L408.45,595.09 L409,595.72 L409.55,595.52 L410.1,595.9 L410.65,596.04 L411.2,596.2 L411.75,595.95 L412.3,594.79 L412.85,595.12 L413.4,595.42 L413.95,595.07 L414.5,594.73 L415.05,594.06 L415.6,594.47 L416.15,594.37 L416.7,595.02 L417.25,593.66 L417.8,592.78 L418.35,593.96 L418.9,595.46 L419.45,595.38 L420,594.83 L420.55,595.77 L421.1,594.7 L421.65,595.9 L422.2,594.86 L422.75,595.02 L423.3,595.3 L423.85,595.27 L424.4,594.24 L424.95,594.87 L425.5,593.32 L426.05,592.24 L426.6,594.83 L427.15,592.21 L427.7,593.48 L428.25,592.3 L428.8,594.78 L429.35,593.27 L429.9,594.46 L430.45,594.35 L431,595.3 L431.55,596 L432.1,595.58 L432.65,594.92 L433.2,595.79 L433.75,596.03 L434.3,595.55 L434.85,595.85 L435.4,596.31 L435.95,596.07 L436.5,596.24 L437.05,595.37 L437.6,595.48 L438.15,595.59 L438.7,595.85 L439.25,596.12 L439.8,595.99 L440.35,595.43 L440.9,595.95 L441.45,595.53 L442,596.05 L442.55,596.03 L443.1,594.69 L443.65,595.68 L444.2,595.77 L444.75,595.25 L445.3,594.12 L445.85,593.05 L446.4,594.8 L446.95,592.21 L447.5,593.6 L448.05,594.77 L448.6,595.27 L449.15,595.16 L449.7,594.59 L450.25,594.45 L450.8,593.65 L451.35,592.84 L451.9,592.45 L452.45,592.74 L453,594 L453.55,594.67 L454.1,594.6 L454.65,594.47 L455.2,595.68 L455.75,595.66 L456.3,596.2 L456.85,595.51 L457.4,594.88 L457.95,594.7 L458.5,595.39 L459.05,595.25 L459.6,594.43 L460.15,595.35 L460.7,593.4 L461.25,594.65 L461.8,593.01 L462.35,594.25 L462.9,594.03 L463.45,593.11 L464,595.39 L464.55,594.68 L465.1,595.74 L465.65,595.48 L466.2,595.93 L466.75,595.82 L467.3,596.23 L467.85,595.62 L468.4,595.34 L468.95,596.06 L469.5,595.66 L470.05,594.91 L470.6,595.57 L471.15,595.85 L471.7,596.02 L472.25,595.23 L472.8,593.35 L473.35,592.45 L473.9,594.25 L474.45,593.65 L475,595.38 L475.55,595.4 L476.1,594.26 L476.65,594.2 L477.2,594.98 L477.75,595.86 L478.3,595.83 L478.85,596.13 L479.4,596.28 L479.95,595.59 L480.5,594.93 L481.05,595.24 L481.6,595.73 L482.15,593.65 L482.7,593.03 L483.25,594.48 L483.8,595.55 L484.35,595.4 L484.9,595.13 L485.45,595.92 L486,594.98 L486.55,596.07 L487.1,595 L487.65,595.34 L488.2,596.16 L488.75,595.23 L489.3,595.9 L489.85,596.17 L490.4,595.16 L490.95,596.14 L491.5,595.83 L492.05,595.98 L492.6,595.95 L493.15,595.85 L493.7,596.07 L494.25,596.09 L494.8,595.44 L495.35,596.13 L495.9,595.4 L496.45,595.84 L497,595.13 L497.55,594.93 L498.1,595.92 L498.65,595.03 L499.2,595.8 L499.75,594.55 L500.3,594.42 L500.85,593.93 L501.4,595.53 L501.95,595.75 L502.5,594.35 L503.05,595.72 L503.6,595.41 L504.15,596.04 L504.7,596.14 L505.25,594.46 L505.8,594.9 L506.35,595.01 L506.9,594.09 L507.45,595.4 L508,595.48 L508.55,594.55 L509.1,593.48 L509.65,594.68 L510.2,593.98 L510.75,595.73 L511.3,595.46 L511.8,596.9 Z" fill="#1b4f80" stroke="none" stroke-width="1"/>
<line x1="285.8" y1="596.6" x2="511.8" y2="596.6" stroke="#1b4f80" stroke-width="0.8"/>
<line x1="286.1" y1="614.3" x2="511.8" y2="614.3" stroke="#f3c27a" stroke-width="0.7"/>
<path d="M312.6,614.5 L313.1,614.4 L313.6,614.29 L314.1,614.15 L314.6,614.03 L315.1,614 L315.6,614.07 L316.1,614.21 L316.6,614.34 L317.1,614.5 Z" fill="#f09a1a" stroke="none" stroke-width="1"/>
<path d="M320.6,614.5 L321.1,614.39 L321.6,614.26 L322.1,614.03 L322.6,613.69 L323.1,613.27 L323.6,612.83 L324.1,612.42 L324.6,611.99 L325.1,611.53 L325.6,611.23 L326.1,611.46 L326.6,612.28 L327.1,613.27 L327.6,613.98 L328.1,614.33 L328.6,614.5 Z" fill="#f09a1a" stroke="none" stroke-width="1"/>
<path d="M330.6,614.5 L331.1,614.4 L331.6,614.29 L332.1,614.15 L332.6,614.03 L333.1,614 L333.6,614.07 L334.1,614.21 L334.6,614.34 L335.1,614.5 Z" fill="#f09a1a" stroke="none" stroke-width="1"/>
<path d="M336.1,614.5 L336.6,614.29 L337.1,614.04 L337.6,613.78 L338.1,613.71 L338.6,613.88 L339.1,614.15 L339.6,614.36 L340.1,614.5 Z" fill="#f09a1a" stroke="none" stroke-width="1"/>
<path d="M341.1,614.5 L341.6,614.26 L342.1,613.73 L342.6,612.79 L343.1,611.81 L343.6,611.4 L344.1,611 L344.6,608.09 L345.1,603.62 L345.6,604.55 L346.1,609.36 L346.6,610.95 L347.1,610.09 L347.6,610.3 L348.1,611.79 L348.6,612.75 L349.1,612.54 L349.6,612.05 L350.1,612.15 L350.6,612.9 L351.1,613.73 L351.6,614.24 L352.1,614.5 Z" fill="#f09a1a" stroke="none" stroke-width="1"/>
<path d="M356.1,614.5 L356.6,614.31 L357.1,614.08 L357.6,613.68 L358.1,613.13 L358.6,612.49 L359.1,611.77 L359.6,610.9 L360.1,610.13 L360.6,610.3 L361.1,611.62 L361.6,613.11 L362.1,614 L362.6,614.34 L363.1,614.5 Z" fill="#f09a1a" stroke="none" stroke-width="1"/>
<path d="M409.1,614.5 L409.6,614.17 L410.1,613.72 L410.6,613.65 L411.1,614.08 L411.6,614.41 L412.1,614.5 Z" fill="#f09a1a" stroke="none" stroke-width="1"/>
<path d="M484.1,614.5 L484.6,614.41 L485.1,614.08 L485.6,613.65 L486.1,613.72 L486.6,614.17 L487.1,614.5 Z" fill="#f09a1a" stroke="none" stroke-width="1"/>
<line x1="286.1" y1="631.7" x2="511.8" y2="631.7" stroke="#f3c27a" stroke-width="0.7"/>
<path d="M322.6,631.9 L323.1,631.72 L323.6,631.52 L324.1,631.27 L324.6,631.06 L325.1,631 L325.6,631.13 L326.1,631.37 L326.6,631.61 L327.1,631.77 L327.6,631.9 Z" fill="#f09a1a" stroke="none" stroke-width="1"/>
<path d="M343.1,631.9 L343.6,631.66 L344.1,630.86 L344.6,629.2 L345.1,627.62 L345.6,627.6 L346.1,628.69 L346.6,629.38 L347.1,629.75 L347.6,630.48 L348.1,631.3 L348.6,631.75 L349.1,631.9 Z" fill="#f09a1a" stroke="none" stroke-width="1"/>
<path d="M357.6,631.9 L358.1,631.79 L358.6,631.56 L359.1,631.09 L359.6,630.48 L360.1,630.04 L360.6,630.1 L361.1,630.6 L361.6,631.2 L362.1,631.62 L362.6,631.82 L363.1,631.9 Z" fill="#f09a1a" stroke="none" stroke-width="1"/>
<path d="M286.3,651.8 L286.3,651.8 L286.7,651.8 L287.1,651.8 L287.5,651.8 L287.9,651.8 L288.3,651.8 L288.7,651.8 L289.1,651.8 L289.5,651.8 L289.9,651.8 L290.3,651.8 L290.7,651.8 L291.1,651.8 L291.5,651.8 L291.9,651.8 L292.3,651.8 L292.7,651.8 L293.1,651.8 L293.5,651.8 L293.9,651.8 L294.3,651.8 L294.7,651.8 L295.1,651.8 L295.5,651.8 L295.9,651.8 L296.3,651.8 L296.7,651.8 L297.1,651.8 L297.5,651.8 L297.9,651.8 L298.3,651.8 L298.7,651.8 L299.1,651.8 L299.5,651.8 L299.9,651.8 L300.3,651.8 L300.7,651.8 L301.1,651.8 L301.5,651.8 L301.9,651.8 L302.3,651.8 L302.7,651.8 L303.1,651.8 L303.5,651.8 L303.9,651.8 L304.3,651.8 L304.7,651.8 L305.1,651.8 L305.5,651.8 L305.9,651.8 L306.3,651.8 L306.7,651.8 L307.1,651.8 L307.5,651.8 L307.9,651.8 L308.3,651.8 L308.7,651.8 L309.1,651.8 L309.5,651.8 L309.9,651.8 L310.3,651.8 L310.7,651.8 L311.1,651.8 L311.5,651.8 L311.9,651.8 L312.3,651.8 L312.7,651.8 L313.1,651.8 L313.5,651.8 L313.9,651.8 L314.3,651.8 L314.7,651.8 L315.1,651.8 L315.5,651.8 L315.9,651.8 L316.3,651.8 L316.7,651.8 L317.1,651.8 L317.5,651.8 L317.9,651.8 L318.3,651.8 L318.7,651.8 L319.1,651.8 L319.5,651.8 L319.9,651.8 L320.3,651.8 L320.7,651.8 L321.1,651.8 L321.5,651.8 L321.9,651.8 L322.3,651.8 L322.7,651.8 L323.1,651.8 L323.5,651.8 L323.9,651.8 L324.3,651.8 L324.7,651.8 L325.1,651.8 L325.5,651.8 L325.9,651.8 L326.3,651.8 L326.7,651.8 L327.1,651.8 L327.5,651.8 L327.9,651.8 L328.3,651.8 L328.7,651.8 L329.1,651.8 L329.5,651.8 L329.9,651.8 L330.3,651.8 L330.7,651.8 L331.1,651.8 L331.5,651.8 L331.9,651.8 L332.3,651.8 L332.7,651.8 L333.1,651.8 L333.5,651.8 L333.9,651.8 L334.3,651.8 L334.7,651.8 L335.1,651.8 L335.5,651.8 L335.9,651.8 L336.3,651.8 L336.7,651.8 L337.1,651.8 L337.5,651.8 L337.9,651.8 L338.3,651.8 L338.7,651.8 L339.1,651.8 L339.5,651.8 L339.9,651.8 L340.3,651.8 L340.7,651.8 L341.1,651.8 L341.5,651.8 L341.9,651.8 L342.3,651.8 L342.7,651.8 L343.1,651.8 L343.5,651.8 L343.9,651.8 L344.3,651.8 L344.7,651.8 L345.1,644.78 L345.5,644.89 L345.9,644.27 L346.3,644.32 L346.7,644.32 L347.1,651.8 L347.5,651.8 L347.9,651.8 L348.3,651.8 L348.7,651.8 L349.1,651.8 L349.5,651.8 L349.9,651.8 L350.3,651.8 L350.7,651.8 L351.1,651.8 L351.5,651.8 L351.9,651.8 L352.3,651.8 L352.7,651.8 L353.1,651.8 L353.5,651.8 L353.9,651.8 L354.3,651.8 L354.7,651.36 L355.1,651.3 L355.5,651.38 L355.9,651.32 L356.3,651.33 L356.7,651.38 L357.1,651.31 L357.5,651.33 L357.9,651.8 L358.3,651.8 L358.7,651.47 L359.1,651.42 L359.5,651.43 L359.9,651.44 L360.3,651.48 L360.7,651.43 L361.1,651.4 L361.5,651.41 L361.9,651.8 L362.3,651.8 L362.7,651.8 L363.1,651.8 L363.5,651.8 L363.9,651.8 L364.3,651.8 L364.7,651.28 L365.1,651.24 L365.5,651.3 L365.9,651.26 L366.3,651.29 L366.7,651.26 L367.1,651.3 L367.5,651.26 L367.9,651.8 L368.3,651.8 L368.7,651.8 L369.1,651.8 L369.5,651.8 L369.9,651.8 L370.3,651.8 L370.7,651.8 L371.1,651.8 L371.5,651.8 L371.9,651.8 L372.3,651.8 L372.7,651.8 L373.1,651.8 L373.5,651.8 L373.9,651.8 L374.3,651.8 L374.7,651.8 L375.1,651.8 L375.5,651.8 L375.9,651.8 L376.3,651.8 L376.7,651.36 L377.1,651.37 L377.5,651.31 L377.9,651.31 L378.3,651.34 L378.7,651.32 L379.1,651.34 L379.5,651.32 L379.9,651.8 L380.3,651.8 L380.7,651.8 L381.1,651.8 L381.5,651.8 L381.9,651.8 L382.3,651.8 L382.7,651.46 L383.1,651.46 L383.5,651.46 L383.9,651.44 L384.3,651.44 L384.7,651.41 L385.1,651.42 L385.5,651.45 L385.9,651.8 L386.3,651.8 L386.7,651.8 L387.1,651.8 L387.5,651.8 L387.9,651.8 L388.3,651.8 L388.7,651.28 L389.1,651.24 L389.5,651.23 L389.9,651.31 L390.3,651.27 L390.7,651.32 L391.1,651.24 L391.5,651.2 L391.9,651.8 L392.3,651.8 L392.7,651.8 L393.1,651.8 L393.5,651.8 L393.9,651.8 L394.3,651.8 L394.7,651.38 L395.1,651.34 L395.5,651.31 L395.9,651.37 L396.3,651.4 L396.7,651.34 L397.1,651.34 L397.5,651.33 L397.9,651.8 L398.3,651.8 L398.7,651.8 L399.1,651.8 L399.5,651.8 L399.9,651.8 L400.3,651.8 L400.7,651.8 L401.1,651.8 L401.5,651.8 L401.9,651.8 L402.3,651.8 L402.7,651.8 L403.1,651.8 L403.5,651.8 L403.9,651.8 L404.3,651.8 L404.7,651.8 L405.1,651.8 L405.5,651.8 L405.9,644.39 L406.3,645.14 L406.7,644.78 L407.1,644.31 L407.5,645.44 L407.9,645.63 L408.3,651.8 L408.7,651.8 L409.1,649.51 L409.5,649.72 L409.9,649.39 L410.3,649.36 L410.7,649.47 L411.1,649.47 L411.5,651.8 L411.9,651.8 L412.3,651.8 L412.7,651.8 L413.1,651.8 L413.5,651.8 L413.9,651.8 L414.3,651.8 L414.7,651.8 L415.1,651.8 L415.5,651.8 L415.9,651.8 L416.3,651.8 L416.7,651.8 L417.1,651.8 L417.5,647.12 L417.9,647.79 L418.3,647.78 L418.7,647.73 L419.1,647.09 L419.5,646.93 L419.9,651.8 L420.3,651.8 L420.7,651.8 L421.1,651.8 L421.5,651.8 L421.9,651.8 L422.3,651.8 L422.7,651.8 L423.1,651.8 L423.5,651.8 L423.9,651.8 L424.3,651.8 L424.7,651.8 L425.1,651.8 L425.5,651.8 L425.9,651.8 L426.3,651.8 L426.7,651.8 L427.1,648.37 L427.5,648.44 L427.9,648.21 L428.3,647.98 L428.7,648.06 L429.1,648.58 L429.5,647.25 L429.9,647.28 L430.3,646.33 L430.7,646.31 L431.1,647.34 L431.5,646.51 L431.9,651.8 L432.3,645.32 L432.7,645.35 L433.1,646.28 L433.5,645.41 L433.9,646.36 L434.3,651.8 L434.7,649.4 L435.1,649.36 L435.5,649.37 L435.9,648.82 L436.3,647.05 L436.7,647.46 L437.1,647.24 L437.5,646.99 L437.9,647.54 L438.3,646.83 L438.7,647.8 L439.1,651.8 L439.5,651.8 L439.9,651.8 L440.3,651.8 L440.7,651.8 L441.1,651.8 L441.5,651.8 L441.9,651.8 L442.3,651.8 L442.7,651.8 L443.1,651.8 L443.5,651.8 L443.9,641.23 L444.3,642.73 L444.7,641.72 L445.1,642.38 L445.5,641.22 L445.9,642.6 L446.3,641.89 L446.7,642.08 L447.1,642.71 L447.5,643 L447.9,641.54 L448.3,642 L448.7,642.25 L449.1,642.26 L449.5,640.88 L449.9,642.79 L450.3,641.23 L450.7,642.47 L451.1,642.19 L451.5,646.77 L451.9,645.92 L452.3,645.89 L452.7,646.52 L453.1,646.68 L453.5,646.48 L453.9,651.8 L454.3,651.8 L454.7,651.8 L455.1,651.8 L455.5,647.85 L455.9,648.52 L456.3,648.44 L456.7,648.47 L457.1,647.91 L457.5,648.47 L457.9,651.8 L458.3,651.8 L458.7,651.8 L459.1,651.8 L459.5,651.8 L459.9,651.8 L460.3,651.8 L460.7,651.8 L461.1,651.8 L461.5,651.8 L461.9,651.8 L462.3,651.8 L462.7,651.8 L463.1,651.8 L463.5,651.8 L463.9,651.8 L464.3,651.8 L464.7,651.8 L465.1,651.08 L465.5,651.03 L465.9,651.01 L466.3,651.09 L466.7,651 L467.1,651 L467.5,651.8 L467.9,651.8 L468.3,651.8 L468.7,651.8 L469.1,651.8 L469.5,651.8 L469.9,651.8 L470.3,651.8 L470.7,651.8 L471.1,651.8 L471.5,651.8 L471.9,651.8 L472.3,651.8 L472.7,651.8 L473.1,651.8 L473.5,651.8 L473.9,651.8 L474.3,651.8 L474.7,647.83 L475.1,648.37 L475.5,648.45 L475.9,648.02 L476.3,648.31 L476.7,651.8 L477.1,648.32 L477.5,648.77 L477.9,648.45 L478.3,648.49 L478.7,648.36 L479.1,648.38 L479.5,651.8 L479.9,651.8 L480.3,651.8 L480.7,651.8 L481.1,651.8 L481.5,651.8 L481.9,651.8 L482.3,651.8 L482.7,651.8 L483.1,648.06 L483.5,648.17 L483.9,648.01 L484.3,648.21 L484.7,648.05 L485.1,647.86 L485.5,651.8 L485.9,651.8 L486.3,651.8 L486.7,651.8 L487.1,651.8 L487.5,651.8 L487.9,651.8 L488.3,651.8 L488.7,651.8 L489.1,651.8 L489.5,651.8 L489.9,651.8 L490.3,651.8 L490.7,651.8 L491.1,651.8 L491.5,651.8 L491.9,651.8 L492.3,651.8 L492.7,651.8 L493.1,651.8 L493.5,651.8 L493.9,651.8 L494.3,651.8 L494.7,651.8 L495.1,651.8 L495.5,651.8 L495.9,651.8 L496.3,651.8 L496.7,647.32 L497.1,647.05 L497.5,647.41 L497.9,646.94 L498.3,651.8 L498.7,644.34 L499.1,645.17 L499.5,644.73 L499.9,644.51 L500.3,648.31 L500.7,648.02 L501.1,648.21 L501.5,645.25 L501.9,645.98 L502.3,644.87 L502.7,645.51 L503.1,641.36 L503.5,640.72 L503.9,641.74 L504.3,641.71 L504.7,644.93 L505.1,643.93 L505.5,644.57 L505.9,642.9 L506.3,643.61 L506.7,643.79 L507.1,643.11 L507.5,645.91 L507.9,645.97 L508.3,645.67 L508.7,644.69 L509.1,643.73 L509.5,644.62 L509.9,644.74 L510.3,645.11 L510.7,645.87 L511.1,645.74 L511.5,645.56 L511.8,651.8 Z" fill="#3d9e3d" stroke="none" stroke-width="1"/>
<line x1="286.3" y1="651.6" x2="511.8" y2="651.6" stroke="#9a9a9a" stroke-width="0.6"/>
<path d="M286.3,671.3 L286.3,671.3 L286.7,671.3 L287.1,671.3 L287.5,671.3 L287.9,671.3 L288.3,671.3 L288.7,671.3 L289.1,671.3 L289.5,671.3 L289.9,671.3 L290.3,671.3 L290.7,671.3 L291.1,671.3 L291.5,671.3 L291.9,671.3 L292.3,671.3 L292.7,671.3 L293.1,671.3 L293.5,671.3 L293.9,671.3 L294.3,671.3 L294.7,671.3 L295.1,671.3 L295.5,671.3 L295.9,671.3 L296.3,671.3 L296.7,671.3 L297.1,671.3 L297.5,671.3 L297.9,671.3 L298.3,671.3 L298.7,671.3 L299.1,671.3 L299.5,671.3 L299.9,671.3 L300.3,671.3 L300.7,671.3 L301.1,671.3 L301.5,671.3 L301.9,671.3 L302.3,671.3 L302.7,671.3 L303.1,671.3 L303.5,671.3 L303.9,671.3 L304.3,671.3 L304.7,671.3 L305.1,671.3 L305.5,671.3 L305.9,671.3 L306.3,671.3 L306.7,671.3 L307.1,671.3 L307.5,671.3 L307.9,671.3 L308.3,671.3 L308.7,671.3 L309.1,671.3 L309.5,671.3 L309.9,671.3 L310.3,671.3 L310.7,671.3 L311.1,671.3 L311.5,671.3 L311.9,671.3 L312.3,671.3 L312.7,671.3 L313.1,671.3 L313.5,671.3 L313.9,671.3 L314.3,671.3 L314.7,671.3 L315.1,671.3 L315.5,671.3 L315.9,671.3 L316.3,671.3 L316.7,671.3 L317.1,671.3 L317.5,671.3 L317.9,671.3 L318.3,671.3 L318.7,671.3 L319.1,671.3 L319.5,671.3 L319.9,671.3 L320.3,671.3 L320.7,671.3 L321.1,671.3 L321.5,671.3 L321.9,671.3 L322.3,671.3 L322.7,671.3 L323.1,671.3 L323.5,671.3 L323.9,671.3 L324.3,671.3 L324.7,671.3 L325.1,671.3 L325.5,671.3 L325.9,671.3 L326.3,671.3 L326.7,671.3 L327.1,671.3 L327.5,671.3 L327.9,671.3 L328.3,671.3 L328.7,671.3 L329.1,671.3 L329.5,671.3 L329.9,671.3 L330.3,671.3 L330.7,671.3 L331.1,671.3 L331.5,671.3 L331.9,671.3 L332.3,671.3 L332.7,671.3 L333.1,671.3 L333.5,671.3 L333.9,671.3 L334.3,671.3 L334.7,671.3 L335.1,671.3 L335.5,671.3 L335.9,671.3 L336.3,671.3 L336.7,671.3 L337.1,671.3 L337.5,671.3 L337.9,671.3 L338.3,671.3 L338.7,671.3 L339.1,671.3 L339.5,671.3 L339.9,671.3 L340.3,671.3 L340.7,671.3 L341.1,671.3 L341.5,671.3 L341.9,671.3 L342.3,671.3 L342.7,671.3 L343.1,671.3 L343.5,671.3 L343.9,671.3 L344.3,671.3 L344.7,671.3 L345.1,670.04 L345.5,670.23 L345.9,670.08 L346.3,670.15 L346.7,670.11 L347.1,671.3 L347.5,671.3 L347.9,671.3 L348.3,671.3 L348.7,671.3 L349.1,671.3 L349.5,671.3 L349.9,671.3 L350.3,671.3 L350.7,671.3 L351.1,671.3 L351.5,671.3 L351.9,671.3 L352.3,671.3 L352.7,671.3 L353.1,671.3 L353.5,671.3 L353.9,671.3 L354.3,671.3 L354.7,671.09 L355.1,671.09 L355.5,671.08 L355.9,671.07 L356.3,671.1 L356.7,671.07 L357.1,671.08 L357.5,671.09 L357.9,671.3 L358.3,671.3 L358.7,671.12 L359.1,671.12 L359.5,671.12 L359.9,671.13 L360.3,671.11 L360.7,671.12 L361.1,671.13 L361.5,671.14 L361.9,671.3 L362.3,671.3 L362.7,671.3 L363.1,671.3 L363.5,671.3 L363.9,671.3 L364.3,671.3 L364.7,671.05 L365.1,671.05 L365.5,671.05 L365.9,671.02 L366.3,671.06 L366.7,671.03 L367.1,671.04 L367.5,671.05 L367.9,671.3 L368.3,671.3 L368.7,671.3 L369.1,671.3 L369.5,671.3 L369.9,671.3 L370.3,671.3 L370.7,671.3 L371.1,671.3 L371.5,671.3 L371.9,671.3 L372.3,671.3 L372.7,671.3 L373.1,671.3 L373.5,671.3 L373.9,671.3 L374.3,671.3 L374.7,671.3 L375.1,671.3 L375.5,671.3 L375.9,671.3 L376.3,671.3 L376.7,671.08 L377.1,671.09 L377.5,671.1 L377.9,671.08 L378.3,671.08 L378.7,671.07 L379.1,671.09 L379.5,671.08 L379.9,671.3 L380.3,671.3 L380.7,671.3 L381.1,671.3 L381.5,671.3 L381.9,671.3 L382.3,671.3 L382.7,671.12 L383.1,671.11 L383.5,671.14 L383.9,671.13 L384.3,671.14 L384.7,671.14 L385.1,671.14 L385.5,671.12 L385.9,671.3 L386.3,671.3 L386.7,671.3 L387.1,671.3 L387.5,671.3 L387.9,671.3 L388.3,671.3 L388.7,671.05 L389.1,671.05 L389.5,671.02 L389.9,671.02 L390.3,671.02 L390.7,671.06 L391.1,671.06 L391.5,671.07 L391.9,671.3 L392.3,671.3 L392.7,671.3 L393.1,671.3 L393.5,671.3 L393.9,671.3 L394.3,671.3 L394.7,671.09 L395.1,671.07 L395.5,671.07 L395.9,671.08 L396.3,671.07 L396.7,671.08 L397.1,671.1 L397.5,671.11 L397.9,671.3 L398.3,671.3 L398.7,671.3 L399.1,671.3 L399.5,671.3 L399.9,671.3 L400.3,671.3 L400.7,671.3 L401.1,671.3 L401.5,671.3 L401.9,671.3 L402.3,671.3 L402.7,671.3 L403.1,671.3 L403.5,671.3 L403.9,671.3 L404.3,671.3 L404.7,671.3 L405.1,671.3 L405.5,671.3 L405.9,668.29 L406.3,668.28 L406.7,667.91 L407.1,667.98 L407.5,667.95 L407.9,668.05 L408.3,671.3 L408.7,671.3 L409.1,670.17 L409.5,670.2 L409.9,670.17 L410.3,670.25 L410.7,670.21 L411.1,670.34 L411.5,671.3 L411.9,671.3 L412.3,671.3 L412.7,671.3 L413.1,671.3 L413.5,671.3 L413.9,671.3 L414.3,671.3 L414.7,671.3 L415.1,671.3 L415.5,671.3 L415.9,671.3 L416.3,671.3 L416.7,671.3 L417.1,671.3 L417.5,668.93 L417.9,669.18 L418.3,669.29 L418.7,669.02 L419.1,669.3 L419.5,669.26 L419.9,671.3 L420.3,671.3 L420.7,671.3 L421.1,671.3 L421.5,671.3 L421.9,671.3 L422.3,671.3 L422.7,671.3 L423.1,671.3 L423.5,671.3 L423.9,671.3 L424.3,671.3 L424.7,671.3 L425.1,671.3 L425.5,671.3 L425.9,671.3 L426.3,671.3 L426.7,671.3 L427.1,669.69 L427.5,669.75 L427.9,669.61 L428.3,669.61 L428.7,669.59 L429.1,669.51 L429.5,668.74 L429.9,669.03 L430.3,669.11 L430.7,668.71 L431.1,668.91 L431.5,668.74 L431.9,671.3 L432.3,668.47 L432.7,668.26 L433.1,668.77 L433.5,668.7 L433.9,668.27 L434.3,671.3 L434.7,670.14 L435.1,669.99 L435.5,670.02 L435.9,669.92 L436.3,669.1 L436.7,669.07 L437.1,669.38 L437.5,669.14 L437.9,669.21 L438.3,669.1 L438.7,669.29 L439.1,671.3 L439.5,671.3 L439.9,671.3 L440.3,671.3 L440.7,671.3 L441.1,671.3 L441.5,671.3 L441.9,671.3 L442.3,671.3 L442.7,671.3 L443.1,671.3 L443.5,671.3 L443.9,666.84 L444.3,666.77 L444.7,666.04 L445.1,666.5 L445.5,666.88 L445.9,666.25 L446.3,666.07 L446.7,667.02 L447.1,667.1 L447.5,667.02 L447.9,666.57 L448.3,666.87 L448.7,666.27 L449.1,666.84 L449.5,666.43 L449.9,666.7 L450.3,666.91 L450.7,666.64 L451.1,666.43 L451.5,668.42 L451.9,668.7 L452.3,668.54 L452.7,668.43 L453.1,668.73 L453.5,668.8 L453.9,671.3 L454.3,671.3 L454.7,671.3 L455.1,671.3 L455.5,669.5 L455.9,669.46 L456.3,669.73 L456.7,669.52 L457.1,669.67 L457.5,669.59 L457.9,671.3 L458.3,671.3 L458.7,671.3 L459.1,671.3 L459.5,671.3 L459.9,671.3 L460.3,671.3 L460.7,671.3 L461.1,671.3 L461.5,671.3 L461.9,671.3 L462.3,671.3 L462.7,671.3 L463.1,671.3 L463.5,671.3 L463.9,671.3 L464.3,671.3 L464.7,671.3 L465.1,670.94 L465.5,670.97 L465.9,670.93 L466.3,670.95 L466.7,670.96 L467.1,670.95 L467.5,671.3 L467.9,671.3 L468.3,671.3 L468.7,671.3 L469.1,671.3 L469.5,671.3 L469.9,671.3 L470.3,671.3 L470.7,671.3 L471.1,671.3 L471.5,671.3 L471.9,671.3 L472.3,671.3 L472.7,671.3 L473.1,671.3 L473.5,671.3 L473.9,671.3 L474.3,671.3 L474.7,669.42 L475.1,669.68 L475.5,669.72 L475.9,669.65 L476.3,669.58 L476.7,671.3 L477.1,669.74 L477.5,669.85 L477.9,669.74 L478.3,669.66 L478.7,669.72 L479.1,669.79 L479.5,671.3 L479.9,671.3 L480.3,671.3 L480.7,671.3 L481.1,671.3 L481.5,671.3 L481.9,671.3 L482.3,671.3 L482.7,671.3 L483.1,669.66 L483.5,669.6 L483.9,669.41 L484.3,669.62 L484.7,669.58 L485.1,669.51 L485.5,671.3 L485.9,671.3 L486.3,671.3 L486.7,671.3 L487.1,671.3 L487.5,671.3 L487.9,671.3 L488.3,671.3 L488.7,671.3 L489.1,671.3 L489.5,671.3 L489.9,671.3 L490.3,671.3 L490.7,671.3 L491.1,671.3 L491.5,671.3 L491.9,671.3 L492.3,671.3 L492.7,671.3 L493.1,671.3 L493.5,671.3 L493.9,671.3 L494.3,671.3 L494.7,671.3 L495.1,671.3 L495.5,671.3 L495.9,671.3 L496.3,671.3 L496.7,669.24 L497.1,669.2 L497.5,669.15 L497.9,669 L498.3,671.3 L498.7,667.75 L499.1,667.99 L499.5,667.48 L499.9,667.64 L500.3,669.56 L500.7,669.65 L501.1,669.65 L501.5,668.5 L501.9,668.31 L502.3,668.22 L502.7,668.23 L503.1,666.34 L503.5,665.85 L503.9,666.6 L504.3,666.48 L504.7,667.64 L505.1,668.05 L505.5,668 L505.9,667.16 L506.3,666.73 L506.7,667.11 L507.1,666.62 L507.5,668.42 L507.9,668.28 L508.3,668.49 L508.7,667.48 L509.1,667.27 L509.5,667.58 L509.9,667.82 L510.3,668.05 L510.7,668.43 L511.1,668.26 L511.5,668.07 L511.8,671.3 Z" fill="#3d9e3d" stroke="none" stroke-width="1"/>
<line x1="286.3" y1="671.1" x2="511.8" y2="671.1" stroke="#9a9a9a" stroke-width="0.6"/>
<text x="342.3" y="688.9" font-size="6.8" fill="#333" stroke="#333" stroke-width="0.15" text-anchor="end">CIITA</text>
<text x="389.3" y="680.7" font-size="5.4" fill="#3a3a3a" stroke="#3a3a3a" stroke-width="0.15" textLength="15.6" lengthAdjust="spacingAndGlyphs">p13.13</text>
<line x1="345.2" y1="687" x2="506.6" y2="687" stroke="#222" stroke-width="1.3"/>
<path d="M346.5,685.7 L347.4,687 L346.5,688.3" fill="none" stroke="#111" stroke-width="0.7"/>
<path d="M348.85,685.7 L349.75,687 L348.85,688.3" fill="none" stroke="#111" stroke-width="0.7"/>
<path d="M351.2,685.7 L352.1,687 L351.2,688.3" fill="none" stroke="#111" stroke-width="0.7"/>
<path d="M353.55,685.7 L354.45,687 L353.55,688.3" fill="none" stroke="#111" stroke-width="0.7"/>
<path d="M355.9,685.7 L356.8,687 L355.9,688.3" fill="none" stroke="#111" stroke-width="0.7"/>
<path d="M358.25,685.7 L359.15,687 L358.25,688.3" fill="none" stroke="#111" stroke-width="0.7"/>
<path d="M360.6,685.7 L361.5,687 L360.6,688.3" fill="none" stroke="#111" stroke-width="0.7"/>
<path d="M362.95,685.7 L363.85,687 L362.95,688.3" fill="none" stroke="#111" stroke-width="0.7"/>
<path d="M365.3,685.7 L366.2,687 L365.3,688.3" fill="none" stroke="#111" stroke-width="0.7"/>
<path d="M367.65,685.7 L368.55,687 L367.65,688.3" fill="none" stroke="#111" stroke-width="0.7"/>
<path d="M370,685.7 L370.9,687 L370,688.3" fill="none" stroke="#111" stroke-width="0.7"/>
<path d="M372.35,685.7 L373.25,687 L372.35,688.3" fill="none" stroke="#111" stroke-width="0.7"/>
<path d="M374.7,685.7 L375.6,687 L374.7,688.3" fill="none" stroke="#111" stroke-width="0.7"/>
<path d="M377.05,685.7 L377.95,687 L377.05,688.3" fill="none" stroke="#111" stroke-width="0.7"/>
<path d="M379.4,685.7 L380.3,687 L379.4,688.3" fill="none" stroke="#111" stroke-width="0.7"/>
<path d="M381.75,685.7 L382.65,687 L381.75,688.3" fill="none" stroke="#111" stroke-width="0.7"/>
<path d="M384.1,685.7 L385,687 L384.1,688.3" fill="none" stroke="#111" stroke-width="0.7"/>
<path d="M386.45,685.7 L387.35,687 L386.45,688.3" fill="none" stroke="#111" stroke-width="0.7"/>
<path d="M388.8,685.7 L389.7,687 L388.8,688.3" fill="none" stroke="#111" stroke-width="0.7"/>
<path d="M391.15,685.7 L392.05,687 L391.15,688.3" fill="none" stroke="#111" stroke-width="0.7"/>
<path d="M393.5,685.7 L394.4,687 L393.5,688.3" fill="none" stroke="#111" stroke-width="0.7"/>
<path d="M395.85,685.7 L396.75,687 L395.85,688.3" fill="none" stroke="#111" stroke-width="0.7"/>
<path d="M398.2,685.7 L399.1,687 L398.2,688.3" fill="none" stroke="#111" stroke-width="0.7"/>
<path d="M400.55,685.7 L401.45,687 L400.55,688.3" fill="none" stroke="#111" stroke-width="0.7"/>
<path d="M402.9,685.7 L403.8,687 L402.9,688.3" fill="none" stroke="#111" stroke-width="0.7"/>
<path d="M405.25,685.7 L406.15,687 L405.25,688.3" fill="none" stroke="#111" stroke-width="0.7"/>
<path d="M407.6,685.7 L408.5,687 L407.6,688.3" fill="none" stroke="#111" stroke-width="0.7"/>
<path d="M409.95,685.7 L410.85,687 L409.95,688.3" fill="none" stroke="#111" stroke-width="0.7"/>
<path d="M412.3,685.7 L413.2,687 L412.3,688.3" fill="none" stroke="#111" stroke-width="0.7"/>
<path d="M414.65,685.7 L415.55,687 L414.65,688.3" fill="none" stroke="#111" stroke-width="0.7"/>
<path d="M417,685.7 L417.9,687 L417,688.3" fill="none" stroke="#111" stroke-width="0.7"/>
<path d="M419.35,685.7 L420.25,687 L419.35,688.3" fill="none" stroke="#111" stroke-width="0.7"/>
<path d="M421.7,685.7 L422.6,687 L421.7,688.3" fill="none" stroke="#111" stroke-width="0.7"/>
<path d="M424.05,685.7 L424.95,687 L424.05,688.3" fill="none" stroke="#111" stroke-width="0.7"/>
<path d="M426.4,685.7 L427.3,687 L426.4,688.3" fill="none" stroke="#111" stroke-width="0.7"/>
<path d="M428.75,685.7 L429.65,687 L428.75,688.3" fill="none" stroke="#111" stroke-width="0.7"/>
<path d="M431.1,685.7 L432,687 L431.1,688.3" fill="none" stroke="#111" stroke-width="0.7"/>
<path d="M433.45,685.7 L434.35,687 L433.45,688.3" fill="none" stroke="#111" stroke-width="0.7"/>
<path d="M435.8,685.7 L436.7,687 L435.8,688.3" fill="none" stroke="#111" stroke-width="0.7"/>
<path d="M438.15,685.7 L439.05,687 L438.15,688.3" fill="none" stroke="#111" stroke-width="0.7"/>
<path d="M440.5,685.7 L441.4,687 L440.5,688.3" fill="none" stroke="#111" stroke-width="0.7"/>
<path d="M442.85,685.7 L443.75,687 L442.85,688.3" fill="none" stroke="#111" stroke-width="0.7"/>
<path d="M445.2,685.7 L446.1,687 L445.2,688.3" fill="none" stroke="#111" stroke-width="0.7"/>
<path d="M447.55,685.7 L448.45,687 L447.55,688.3" fill="none" stroke="#111" stroke-width="0.7"/>
<path d="M449.9,685.7 L450.8,687 L449.9,688.3" fill="none" stroke="#111" stroke-width="0.7"/>
<path d="M452.25,685.7 L453.15,687 L452.25,688.3" fill="none" stroke="#111" stroke-width="0.7"/>
<path d="M454.6,685.7 L455.5,687 L454.6,688.3" fill="none" stroke="#111" stroke-width="0.7"/>
<path d="M456.95,685.7 L457.85,687 L456.95,688.3" fill="none" stroke="#111" stroke-width="0.7"/>
<path d="M459.3,685.7 L460.2,687 L459.3,688.3" fill="none" stroke="#111" stroke-width="0.7"/>
<path d="M461.65,685.7 L462.55,687 L461.65,688.3" fill="none" stroke="#111" stroke-width="0.7"/>
<path d="M464,685.7 L464.9,687 L464,688.3" fill="none" stroke="#111" stroke-width="0.7"/>
<path d="M466.35,685.7 L467.25,687 L466.35,688.3" fill="none" stroke="#111" stroke-width="0.7"/>
<path d="M468.7,685.7 L469.6,687 L468.7,688.3" fill="none" stroke="#111" stroke-width="0.7"/>
<path d="M471.05,685.7 L471.95,687 L471.05,688.3" fill="none" stroke="#111" stroke-width="0.7"/>
<path d="M473.4,685.7 L474.3,687 L473.4,688.3" fill="none" stroke="#111" stroke-width="0.7"/>
<path d="M475.75,685.7 L476.65,687 L475.75,688.3" fill="none" stroke="#111" stroke-width="0.7"/>
<path d="M478.1,685.7 L479,687 L478.1,688.3" fill="none" stroke="#111" stroke-width="0.7"/>
<path d="M480.45,685.7 L481.35,687 L480.45,688.3" fill="none" stroke="#111" stroke-width="0.7"/>
<path d="M482.8,685.7 L483.7,687 L482.8,688.3" fill="none" stroke="#111" stroke-width="0.7"/>
<path d="M485.15,685.7 L486.05,687 L485.15,688.3" fill="none" stroke="#111" stroke-width="0.7"/>
<path d="M487.5,685.7 L488.4,687 L487.5,688.3" fill="none" stroke="#111" stroke-width="0.7"/>
<path d="M489.85,685.7 L490.75,687 L489.85,688.3" fill="none" stroke="#111" stroke-width="0.7"/>
<path d="M492.2,685.7 L493.1,687 L492.2,688.3" fill="none" stroke="#111" stroke-width="0.7"/>
<path d="M494.55,685.7 L495.45,687 L494.55,688.3" fill="none" stroke="#111" stroke-width="0.7"/>
<path d="M496.9,685.7 L497.8,687 L496.9,688.3" fill="none" stroke="#111" stroke-width="0.7"/>
<path d="M499.25,685.7 L500.15,687 L499.25,688.3" fill="none" stroke="#111" stroke-width="0.7"/>
<path d="M501.6,685.7 L502.5,687 L501.6,688.3" fill="none" stroke="#111" stroke-width="0.7"/>
<path d="M503.95,685.7 L504.85,687 L503.95,688.3" fill="none" stroke="#111" stroke-width="0.7"/>
<rect x="345.3" y="685.3" width="1.0" height="3.4" fill="#111"/>
<rect x="405.7" y="685.3" width="1.0" height="3.4" fill="#111"/>
<rect x="418.7" y="685.3" width="1.0" height="3.4" fill="#111"/>
<rect x="432" y="685.3" width="1.0" height="3.4" fill="#111"/>
<rect x="453.5" y="685.3" width="1.0" height="3.4" fill="#111"/>
<rect x="470.5" y="685.3" width="1.0" height="3.4" fill="#111"/>
<rect x="485" y="685.3" width="1.0" height="3.4" fill="#111"/>
<rect x="444.2" y="685.6" width="4.2" height="2.8" rx="1.2" fill="#fff" stroke="#111" stroke-width="0.8"/>
<rect x="497.7" y="685.6" width="8.6" height="2.8" fill="#111"/>
<text x="247.4" y="456" font-size="6.6" fill="#6b3a86" text-anchor="end" textLength="23" lengthAdjust="spacingAndGlyphs">KDM6A</text>
<line x1="250.4" y1="443" x2="250.4" y2="463.6" stroke="#333" stroke-width="1.1"/>
<text x="253.5" y="446.2" font-size="4.8" fill="#6b3a86">WT</text>
<text x="253.5" y="463.7" font-size="4.8" fill="#6b3a86">KO</text>
<text x="247.4" y="490.1" font-size="6.6" fill="#6b3a86" text-anchor="end" textLength="8.4" lengthAdjust="spacingAndGlyphs">HA</text>
<line x1="250.4" y1="478" x2="250.4" y2="496.8" stroke="#333" stroke-width="1.1"/>
<text x="253.5" y="481.1" font-size="4.8" fill="#6b3a86">HA-tag</text>
<text x="253.5" y="497.9" font-size="4.8" fill="#6b3a86">no HA</text>
<text x="247.4" y="527.3" font-size="6.6" fill="#c8102e" text-anchor="end" textLength="16.8" lengthAdjust="spacingAndGlyphs">K27ac</text>
<line x1="250.4" y1="514" x2="250.4" y2="536.3" stroke="#333" stroke-width="1.1"/>
<text x="253.5" y="516" font-size="4.8" fill="#c8102e">WT</text>
<text x="253.5" y="537.1" font-size="4.8" fill="#c8102e">KO</text>
<text x="247.4" y="583.1" font-size="6.6" fill="#245c96" text-anchor="end" textLength="23.6" lengthAdjust="spacingAndGlyphs">K27me3</text>
<line x1="250.4" y1="571" x2="250.4" y2="590.7" stroke="#333" stroke-width="1.1"/>
<text x="253.5" y="573.7" font-size="4.8" fill="#245c96">WT</text>
<text x="253.5" y="592" font-size="4.8" fill="#245c96">KO</text>
<text x="247.4" y="619.1" font-size="6.6" fill="#eda23c" text-anchor="end" textLength="14.9" lengthAdjust="spacingAndGlyphs">ATAC</text>
<line x1="250.4" y1="607.5" x2="250.4" y2="626" stroke="#333" stroke-width="1.1"/>
<text x="253.5" y="610.1" font-size="4.8" fill="#eda23c">WT</text>
<text x="253.5" y="627.3" font-size="4.8" fill="#eda23c">KO</text>
<text x="247.4" y="656" font-size="6.6" fill="#4aa84a" text-anchor="end" textLength="12.9" lengthAdjust="spacingAndGlyphs">RNA</text>
<line x1="250.4" y1="644.8" x2="250.4" y2="663.4" stroke="#333" stroke-width="1.1"/>
<text x="253.5" y="646.5" font-size="4.8" fill="#4aa84a">WT</text>
<text x="253.5" y="665.1" font-size="4.8" fill="#4aa84a">KO</text>
<text x="250.4" y="555.7" font-size="6.2" fill="#2a2a2a" stroke="#2a2a2a" stroke-width="0.15" textLength="16.6" lengthAdjust="spacingAndGlyphs">K4me1</text>
<rect x="0.5" y="0.5" width="519" height="696" fill="none" stroke="#555" stroke-width="1"/>
</svg>
</body></html>
